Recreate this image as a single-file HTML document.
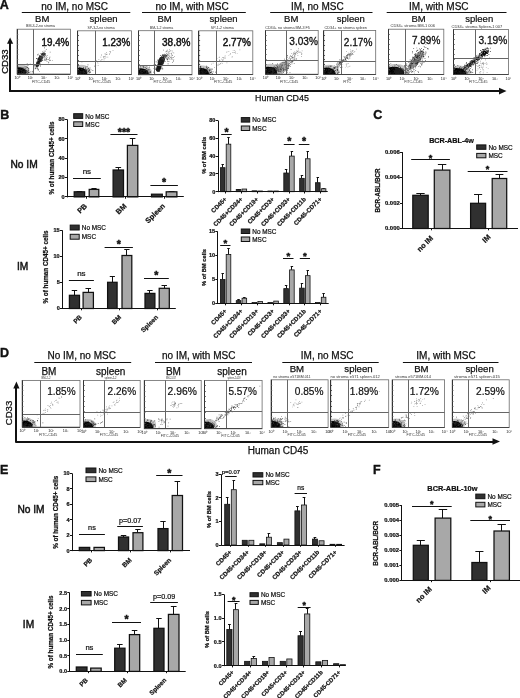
<!DOCTYPE html><html><head><meta charset="utf-8"><style>html,body{margin:0;padding:0;background:#fff;width:520px;height:698px;overflow:hidden}svg{display:block;filter:grayscale(1) blur(0.3px)}text{font-family:"Liberation Sans",sans-serif}</style></head><body><svg width="520" height="698" viewBox="0 0 520 698" font-family="Liberation Sans, sans-serif">
<rect width="520" height="698" fill="#fff"/>
<text x="-0.3" y="8.7" font-size="12.5" font-weight="bold" fill="#111" stroke="#111" stroke-width="0.4">A</text>
<text x="41.3" y="9.6" font-size="10" fill="#111" stroke="#111" stroke-width="0.25">no IM, no MSC</text>
<text x="155.4" y="9.6" font-size="10" fill="#111" stroke="#111" stroke-width="0.25">no IM, with MSC</text>
<text x="290.9" y="9.6" font-size="10" fill="#111" stroke="#111" stroke-width="0.25">IM, no MSC</text>
<text x="409.1" y="9.6" font-size="10" fill="#111" stroke="#111" stroke-width="0.25">IM, with MSC</text>
<line x1="21.8" y1="12.5" x2="130.3" y2="12.5" stroke="#111" stroke-width="1"/>
<line x1="142" y1="12.5" x2="245.8" y2="12.5" stroke="#111" stroke-width="1"/>
<line x1="270.2" y1="12.5" x2="372.5" y2="12.5" stroke="#111" stroke-width="1"/>
<line x1="386.7" y1="12.5" x2="506.5" y2="12.5" stroke="#111" stroke-width="1"/>
<text x="42.2" y="22" font-size="9.5" text-anchor="middle" fill="#111" stroke="#111" stroke-width="0.2">BM</text>
<text x="103.5" y="22" font-size="9.5" text-anchor="middle" fill="#111" stroke="#111" stroke-width="0.2">spleen</text>
<text x="164.6" y="22" font-size="9.5" text-anchor="middle" fill="#111" stroke="#111" stroke-width="0.2">BM</text>
<text x="223.6" y="22" font-size="9.5" text-anchor="middle" fill="#111" stroke="#111" stroke-width="0.2">spleen</text>
<text x="291.2" y="22" font-size="9.5" text-anchor="middle" fill="#111" stroke="#111" stroke-width="0.2">BM</text>
<text x="350.8" y="22" font-size="9.5" text-anchor="middle" fill="#111" stroke="#111" stroke-width="0.2">spleen</text>
<text x="418.5" y="22" font-size="9.5" text-anchor="middle" fill="#111" stroke="#111" stroke-width="0.2">BM</text>
<text x="479.2" y="22" font-size="9.5" text-anchor="middle" fill="#111" stroke="#111" stroke-width="0.2">spleen</text>
<clipPath id="c1"><rect x="17" y="29.2" width="53.5" height="44.8"/></clipPath>
<rect x="17" y="29.2" width="53.5" height="44.8" fill="#fff"/>
<g clip-path="url(#c1)">
<ellipse cx="21.05" cy="71.32" rx="8.55" ry="6.7" transform="rotate(0 21.05 71.32)" fill="#555" opacity="0.35"/>
<ellipse cx="19.25" cy="72.66" rx="7.2" ry="5.36" transform="rotate(0 19.25 72.66)" fill="#000" opacity="1"/>
<ellipse cx="37.8" cy="64" rx="1.8" ry="3.4" transform="rotate(20 37.8 64)" fill="#111" opacity="0.95"/>
<ellipse cx="40.2" cy="58.8" rx="2.3" ry="3.4" transform="rotate(30 40.2 58.8)" fill="#111" opacity="0.92"/>
<ellipse cx="43.3" cy="54.2" rx="2.2" ry="1.8" transform="rotate(0 43.3 54.2)" fill="#111" opacity="0.85"/>
<path d="M21.36 72.02h0.7v0.7h-0.7zM21.48 69.81h0.7v0.7h-0.7zM18.63 70.08h0.7v0.7h-0.7zM26.9 71.79h0.7v0.7h-0.7zM26.6 71.32h0.7v0.7h-0.7zM24 71.15h0.7v0.7h-0.7zM24.45 71.99h0.7v0.7h-0.7zM18.8 69.4h0.7v0.7h-0.7zM23.64 70.53h0.7v0.7h-0.7zM24.51 68.93h0.7v0.7h-0.7zM23.65 71.71h0.7v0.7h-0.7zM24.65 73.86h0.7v0.7h-0.7zM19.89 68.67h0.7v0.7h-0.7zM21.01 70.36h0.7v0.7h-0.7zM24.96 71.32h0.7v0.7h-0.7zM20.59 68.09h0.7v0.7h-0.7zM20.29 73.92h0.7v0.7h-0.7zM19.13 71.31h0.7v0.7h-0.7zM24.13 66.66h0.7v0.7h-0.7zM21.97 68.46h0.7v0.7h-0.7zM24.41 70.48h0.7v0.7h-0.7zM25.11 73.18h0.7v0.7h-0.7zM28.23 71.62h0.7v0.7h-0.7zM22.88 67.17h0.7v0.7h-0.7zM24.89 69.01h0.7v0.7h-0.7zM20.57 67.26h0.7v0.7h-0.7zM18.48 69.23h0.7v0.7h-0.7zM27.62 65.2h0.7v0.7h-0.7zM28.25 72.2h0.7v0.7h-0.7zM23.85 68.68h0.7v0.7h-0.7zM17.86 73.27h0.7v0.7h-0.7zM26.86 71.07h0.7v0.7h-0.7zM23.4 71.81h0.7v0.7h-0.7zM28.86 72.31h0.7v0.7h-0.7zM24.5 72.12h0.7v0.7h-0.7zM26.27 72.07h0.7v0.7h-0.7zM25.81 65.8h0.7v0.7h-0.7zM21.65 73.38h0.7v0.7h-0.7zM24.64 70.25h0.7v0.7h-0.7zM23.72 72.39h0.7v0.7h-0.7zM22.89 73.72h0.7v0.7h-0.7zM19.72 69.54h0.7v0.7h-0.7zM26.62 70.72h0.7v0.7h-0.7zM18.83 73.19h0.7v0.7h-0.7zM28.34 69.46h0.7v0.7h-0.7zM21.8 69.85h0.7v0.7h-0.7zM28.09 67.9h0.7v0.7h-0.7zM27.51 67.25h0.7v0.7h-0.7zM19.21 72.34h0.7v0.7h-0.7zM26.97 72.95h0.7v0.7h-0.7zM23.8 71.03h0.7v0.7h-0.7zM23.02 72.19h0.7v0.7h-0.7zM21.69 71.39h0.7v0.7h-0.7zM24.72 70.65h0.7v0.7h-0.7zM25.49 72.17h0.7v0.7h-0.7zM30.54 71.52h0.7v0.7h-0.7zM20.67 69.65h0.7v0.7h-0.7zM22.35 73.13h0.7v0.7h-0.7zM21.04 71.68h0.7v0.7h-0.7zM29.84 63.78h0.7v0.7h-0.7zM17.85 71.3h0.7v0.7h-0.7zM24.01 71.29h0.7v0.7h-0.7zM20.65 72.41h0.7v0.7h-0.7zM23.54 69.25h0.7v0.7h-0.7zM32.24 71.6h0.7v0.7h-0.7zM20.16 70.38h0.7v0.7h-0.7zM21.49 70.48h0.7v0.7h-0.7zM26.48 67.52h0.7v0.7h-0.7zM22.13 73.21h0.7v0.7h-0.7zM21.02 72.32h0.7v0.7h-0.7zM26.82 63.46h0.7v0.7h-0.7zM26.81 66.77h0.7v0.7h-0.7zM25.17 66.65h0.7v0.7h-0.7zM23.11 73.85h0.7v0.7h-0.7zM21.8 71.16h0.7v0.7h-0.7zM25.63 71.03h0.7v0.7h-0.7zM26.65 69.86h0.7v0.7h-0.7zM33.52 67.58h0.7v0.7h-0.7zM26.1 69.94h0.7v0.7h-0.7zM22.94 72.54h0.7v0.7h-0.7zM23.3 72.36h0.7v0.7h-0.7zM24.89 68.07h0.7v0.7h-0.7zM18.24 66.71h0.7v0.7h-0.7zM27.53 72.65h0.7v0.7h-0.7zM28.37 68.14h0.7v0.7h-0.7zM22.4 67.59h0.7v0.7h-0.7zM26.4 70.17h0.7v0.7h-0.7zM22.01 69.03h0.7v0.7h-0.7zM24.02 71.75h0.7v0.7h-0.7zM28.47 67.92h0.7v0.7h-0.7zM28.28 70.17h0.7v0.7h-0.7zM19.39 73.38h0.7v0.7h-0.7zM22.87 70.98h0.7v0.7h-0.7zM28.17 69.94h0.7v0.7h-0.7zM23.68 69.01h0.7v0.7h-0.7zM22.36 72.88h0.7v0.7h-0.7zM38.09 62.2h0.7v0.7h-0.7zM38.55 58.73h0.7v0.7h-0.7zM39.35 62.09h0.7v0.7h-0.7zM40.08 61.54h0.7v0.7h-0.7zM36.97 63.09h0.7v0.7h-0.7zM41.65 56.47h0.7v0.7h-0.7zM38.42 59.37h0.7v0.7h-0.7zM38.92 60.57h0.7v0.7h-0.7zM39.06 60.76h0.7v0.7h-0.7zM42.41 54.42h0.7v0.7h-0.7zM37.6 64.98h0.7v0.7h-0.7zM40.73 59.62h0.7v0.7h-0.7zM42.69 56.26h0.7v0.7h-0.7zM36.07 58.36h0.7v0.7h-0.7zM36.04 62.27h0.7v0.7h-0.7zM44.19 47.53h0.7v0.7h-0.7zM33.75 65.79h0.7v0.7h-0.7zM42.26 53.69h0.7v0.7h-0.7zM36.88 61.49h0.7v0.7h-0.7zM39.92 61.26h0.7v0.7h-0.7zM40.3 64.54h0.7v0.7h-0.7zM37.97 62.56h0.7v0.7h-0.7zM39.94 65.86h0.7v0.7h-0.7zM43.98 56.33h0.7v0.7h-0.7zM37.42 63.01h0.7v0.7h-0.7zM36.31 64.33h0.7v0.7h-0.7zM38.26 64.53h0.7v0.7h-0.7zM32.77 70.81h0.7v0.7h-0.7zM42.19 60.31h0.7v0.7h-0.7zM33.17 71.33h0.7v0.7h-0.7zM36.72 63.44h0.7v0.7h-0.7zM41.18 61.01h0.7v0.7h-0.7zM37.01 59.64h0.7v0.7h-0.7zM37.3 65.25h0.7v0.7h-0.7zM40.8 60.89h0.7v0.7h-0.7zM39.63 63.19h0.7v0.7h-0.7zM39.72 60.45h0.7v0.7h-0.7zM37.36 62.73h0.7v0.7h-0.7zM39.25 56.22h0.7v0.7h-0.7zM43.17 53.67h0.7v0.7h-0.7zM43.77 50.87h0.7v0.7h-0.7zM36.9 61.78h0.7v0.7h-0.7zM40.62 60.33h0.7v0.7h-0.7zM42.64 53.63h0.7v0.7h-0.7zM41.38 64.06h0.7v0.7h-0.7zM43.6 57.27h0.7v0.7h-0.7zM43.73 51.94h0.7v0.7h-0.7zM38.51 64.83h0.7v0.7h-0.7zM36.34 57.88h0.7v0.7h-0.7zM45 53h0.7v0.7h-0.7z" fill="#222"/>
<path d="M43.82 60.12h0.7v0.7h-0.7zM48.47 61.83h0.7v0.7h-0.7zM41.98 59.64h0.7v0.7h-0.7zM38.37 53.75h0.7v0.7h-0.7zM38.11 60.21h0.7v0.7h-0.7zM40.3 56.96h0.7v0.7h-0.7zM43.42 56.91h0.7v0.7h-0.7zM42.23 57.7h0.7v0.7h-0.7zM49.37 57.13h0.7v0.7h-0.7zM45.59 60h0.7v0.7h-0.7zM43.41 53.22h0.7v0.7h-0.7zM42.33 60.22h0.7v0.7h-0.7zM39.06 55.21h0.7v0.7h-0.7zM47.02 59.38h0.7v0.7h-0.7zM44.02 59.42h0.7v0.7h-0.7zM44.5 53.46h0.7v0.7h-0.7zM39.31 55.08h0.7v0.7h-0.7zM46.77 55.3h0.7v0.7h-0.7zM41.29 54.69h0.7v0.7h-0.7zM39.4 56.65h0.7v0.7h-0.7zM40.46 58.09h0.7v0.7h-0.7zM36.92 57.98h0.7v0.7h-0.7zM42.08 51.17h0.7v0.7h-0.7zM46.17 56.17h0.7v0.7h-0.7zM37.31 54.37h0.7v0.7h-0.7zM44.87 55.62h0.7v0.7h-0.7zM46.34 59.24h0.7v0.7h-0.7zM46 57.98h0.7v0.7h-0.7zM48 58.98h0.7v0.7h-0.7zM45.35 50.75h0.7v0.7h-0.7zM46.69 60.93h0.7v0.7h-0.7zM43.11 55.59h0.7v0.7h-0.7zM49.82 51.73h0.7v0.7h-0.7zM45.41 64.27h0.7v0.7h-0.7zM41.22 59.07h0.7v0.7h-0.7zM49.66 56.64h0.7v0.7h-0.7zM45.68 59.71h0.7v0.7h-0.7zM41.28 56.73h0.7v0.7h-0.7zM44.88 59.48h0.7v0.7h-0.7zM43.9 56.41h0.7v0.7h-0.7zM40.95 55.92h0.7v0.7h-0.7zM46.68 57.31h0.7v0.7h-0.7zM41.44 54.48h0.7v0.7h-0.7zM52 60.42h0.7v0.7h-0.7zM45.91 49.22h0.7v0.7h-0.7zM45.86 58.44h0.7v0.7h-0.7zM49.05 58.28h0.7v0.7h-0.7zM43.8 58.57h0.7v0.7h-0.7zM38.17 60.1h0.7v0.7h-0.7zM44.97 54.89h0.7v0.7h-0.7zM47.98 62.43h0.7v0.7h-0.7zM39.79 55h0.7v0.7h-0.7zM44.87 57.55h0.7v0.7h-0.7zM42.8 54.08h0.7v0.7h-0.7zM50.36 60.11h0.7v0.7h-0.7zM40.42 52.96h0.7v0.7h-0.7zM49.11 59.97h0.7v0.7h-0.7zM49.46 59.43h0.7v0.7h-0.7zM41.38 57.78h0.7v0.7h-0.7zM37.52 54.76h0.7v0.7h-0.7z" fill="#555"/>
<path d="M34.26 65.34h0.7v0.7h-0.7zM36.06 64.49h0.7v0.7h-0.7zM37.05 68.62h0.7v0.7h-0.7zM37.95 69.76h0.7v0.7h-0.7zM39.25 70.91h0.7v0.7h-0.7zM35.03 66.74h0.7v0.7h-0.7zM35.41 65.31h0.7v0.7h-0.7zM36.88 68.01h0.7v0.7h-0.7zM37.74 64.03h0.7v0.7h-0.7zM35.14 67.94h0.7v0.7h-0.7zM36.7 67.22h0.7v0.7h-0.7zM36.91 66.1h0.7v0.7h-0.7zM38.05 68.89h0.7v0.7h-0.7zM36.87 66.32h0.7v0.7h-0.7zM36.74 61.2h0.7v0.7h-0.7zM35.53 68.09h0.7v0.7h-0.7zM34.74 68.5h0.7v0.7h-0.7zM37.22 64.56h0.7v0.7h-0.7zM36.62 67.22h0.7v0.7h-0.7zM37.69 69.53h0.7v0.7h-0.7zM36.95 65.87h0.7v0.7h-0.7zM36.78 67.84h0.7v0.7h-0.7zM38.1 68.74h0.7v0.7h-0.7zM35.92 64.61h0.7v0.7h-0.7zM36.44 66.15h0.7v0.7h-0.7z" fill="#444"/>
</g>
<rect x="17" y="29.2" width="53.5" height="44.8" fill="none" stroke="#6a6a6a" stroke-width="0.8"/>
<line x1="33.5" y1="29.2" x2="33.5" y2="74" stroke="#666" stroke-width="1"/>
<line x1="17" y1="64.5" x2="70.5" y2="64.5" stroke="#666" stroke-width="1"/>
<line x1="17.5" y1="29.2" x2="17.5" y2="74" stroke="#333" stroke-width="1"/>
<line x1="17" y1="74.5" x2="70.5" y2="74.5" stroke="#444" stroke-width="1"/>
<line x1="17" y1="34.5" x2="18.2" y2="34.5" stroke="#555" stroke-width="1"/>
<line x1="17" y1="39.5" x2="18.2" y2="39.5" stroke="#555" stroke-width="1"/>
<line x1="17" y1="44.5" x2="18.2" y2="44.5" stroke="#555" stroke-width="1"/>
<line x1="17" y1="49.5" x2="18.2" y2="49.5" stroke="#555" stroke-width="1"/>
<line x1="17" y1="54.5" x2="18.2" y2="54.5" stroke="#555" stroke-width="1"/>
<line x1="17" y1="59.5" x2="18.2" y2="59.5" stroke="#555" stroke-width="1"/>
<line x1="17" y1="64.5" x2="18.2" y2="64.5" stroke="#555" stroke-width="1"/>
<line x1="17" y1="69.5" x2="18.2" y2="69.5" stroke="#555" stroke-width="1"/>
<text x="69.3" y="45.9" font-size="10.3" text-anchor="end" fill="#111" stroke="#111" stroke-width="0.45" textLength="27.7" lengthAdjust="spacingAndGlyphs">19.4%</text>
<text x="26" y="27.3" font-size="4.2" fill="#333" textLength="29" lengthAdjust="spacingAndGlyphs">BM-3-2-no stroma</text>
<text x="17" y="79.2" font-size="3.8" text-anchor="middle" fill="#222">10⁰</text>
<text x="30.38" y="79.2" font-size="3.8" text-anchor="middle" fill="#222">10¹</text>
<text x="43.75" y="79.2" font-size="3.8" text-anchor="middle" fill="#222">10²</text>
<text x="57.12" y="79.2" font-size="3.8" text-anchor="middle" fill="#222">10³</text>
<text x="70.5" y="79.2" font-size="3.8" text-anchor="middle" fill="#222">10⁴</text>
<text x="41.08" y="82.6" font-size="3.6" text-anchor="middle" fill="#333">FITC-CD45</text>
<clipPath id="c2"><rect x="77.7" y="30.8" width="53.8" height="43.8"/></clipPath>
<rect x="77.7" y="30.8" width="53.8" height="43.8" fill="#fff"/>
<g clip-path="url(#c2)">
<ellipse cx="81.75" cy="71.8" rx="8.55" ry="7" transform="rotate(0 81.75 71.8)" fill="#555" opacity="0.35"/>
<ellipse cx="79.95" cy="73.2" rx="7.2" ry="5.6" transform="rotate(0 79.95 73.2)" fill="#000" opacity="1"/>
<ellipse cx="95.5" cy="61.5" rx="1" ry="0.8" transform="rotate(0 95.5 61.5)" fill="#111" opacity="1"/>
<path d="M78.6 70.78h0.7v0.7h-0.7zM81.11 71.4h0.7v0.7h-0.7zM85.22 69.94h0.7v0.7h-0.7zM92.51 70.2h0.7v0.7h-0.7zM87.56 71.44h0.7v0.7h-0.7zM87.62 64.45h0.7v0.7h-0.7zM80.06 71.79h0.7v0.7h-0.7zM86.2 73.75h0.7v0.7h-0.7zM85.17 70.66h0.7v0.7h-0.7zM85.16 68.08h0.7v0.7h-0.7zM87.88 68.25h0.7v0.7h-0.7zM82.2 71.15h0.7v0.7h-0.7zM87.81 71.17h0.7v0.7h-0.7zM79.83 71.82h0.7v0.7h-0.7zM85.46 73.09h0.7v0.7h-0.7zM89.85 71.15h0.7v0.7h-0.7zM84.19 69.9h0.7v0.7h-0.7zM88.83 69.13h0.7v0.7h-0.7zM85.83 69.76h0.7v0.7h-0.7zM80.29 73.11h0.7v0.7h-0.7zM88.5 71.07h0.7v0.7h-0.7zM80.36 73.37h0.7v0.7h-0.7zM82.9 71.97h0.7v0.7h-0.7zM89.27 74.27h0.7v0.7h-0.7zM83.11 73.3h0.7v0.7h-0.7zM80.48 70.97h0.7v0.7h-0.7zM88.63 67.7h0.7v0.7h-0.7zM87.86 69.81h0.7v0.7h-0.7zM82.85 70.22h0.7v0.7h-0.7zM82.61 68.05h0.7v0.7h-0.7zM83.2 67.07h0.7v0.7h-0.7zM82.81 71.96h0.7v0.7h-0.7zM84.99 70.45h0.7v0.7h-0.7zM79.44 71.55h0.7v0.7h-0.7zM86.21 70.78h0.7v0.7h-0.7zM81.19 69.13h0.7v0.7h-0.7zM79.3 70.11h0.7v0.7h-0.7zM84.29 72.54h0.7v0.7h-0.7zM80.25 71.14h0.7v0.7h-0.7zM94.42 65.87h0.7v0.7h-0.7zM80.99 71.57h0.7v0.7h-0.7zM83.73 72.24h0.7v0.7h-0.7zM82.13 72.13h0.7v0.7h-0.7zM83.31 73.26h0.7v0.7h-0.7zM83.09 68.21h0.7v0.7h-0.7zM78.87 72.86h0.7v0.7h-0.7zM80.47 72.88h0.7v0.7h-0.7zM86.12 71.96h0.7v0.7h-0.7zM85.16 70.81h0.7v0.7h-0.7zM84.94 69.62h0.7v0.7h-0.7zM82.7 73.2h0.7v0.7h-0.7zM79.54 72.89h0.7v0.7h-0.7zM90.64 69.55h0.7v0.7h-0.7zM83.69 70.68h0.7v0.7h-0.7zM89.34 71.99h0.7v0.7h-0.7zM86.74 69.17h0.7v0.7h-0.7zM83.03 71.07h0.7v0.7h-0.7zM86.74 66.2h0.7v0.7h-0.7zM86.11 70.73h0.7v0.7h-0.7zM84.92 72.13h0.7v0.7h-0.7zM89.15 69.49h0.7v0.7h-0.7zM78.96 67.29h0.7v0.7h-0.7zM78.15 72.04h0.7v0.7h-0.7zM89.95 72.3h0.7v0.7h-0.7zM81 69.21h0.7v0.7h-0.7zM85.24 72.64h0.7v0.7h-0.7zM78.99 67.82h0.7v0.7h-0.7zM84.28 71.79h0.7v0.7h-0.7zM77.81 70.53h0.7v0.7h-0.7zM80.9 72.39h0.7v0.7h-0.7zM82.63 70.86h0.7v0.7h-0.7zM81.67 74.05h0.7v0.7h-0.7zM88.73 70.07h0.7v0.7h-0.7zM86.53 68.98h0.7v0.7h-0.7zM83.39 73.2h0.7v0.7h-0.7zM89.23 70.03h0.7v0.7h-0.7zM82.8 71.65h0.7v0.7h-0.7zM80.36 72.14h0.7v0.7h-0.7zM78.52 65.56h0.7v0.7h-0.7zM83.26 71.83h0.7v0.7h-0.7zM80.88 73.59h0.7v0.7h-0.7zM81.99 69.4h0.7v0.7h-0.7zM85.03 66.71h0.7v0.7h-0.7zM80.36 71.04h0.7v0.7h-0.7zM86.54 70.64h0.7v0.7h-0.7zM84.35 69.26h0.7v0.7h-0.7zM80.49 71.15h0.7v0.7h-0.7zM83.8 73.97h0.7v0.7h-0.7zM78.09 65.22h0.7v0.7h-0.7zM85.55 73.33h0.7v0.7h-0.7zM83.93 71.81h0.7v0.7h-0.7zM86.86 72.13h0.7v0.7h-0.7zM89.84 67.63h0.7v0.7h-0.7zM81.58 61.45h0.7v0.7h-0.7zM86.39 70.06h0.7v0.7h-0.7zM83.08 70.39h0.7v0.7h-0.7zM81.08 68.75h0.7v0.7h-0.7zM80.55 72.89h0.7v0.7h-0.7zM83.25 71.29h0.7v0.7h-0.7zM82.4 73.66h0.7v0.7h-0.7zM85.1 70.7h0.7v0.7h-0.7z" fill="#222"/>
<path d="M106.68 54.14h0.7v0.7h-0.7zM97.64 63.42h0.7v0.7h-0.7zM104.84 53.96h0.7v0.7h-0.7zM109.48 53.09h0.7v0.7h-0.7zM95.42 65.26h0.7v0.7h-0.7zM105.68 56.76h0.7v0.7h-0.7zM104.01 56.02h0.7v0.7h-0.7zM94.96 64.41h0.7v0.7h-0.7zM102.93 56.53h0.7v0.7h-0.7zM105.08 55.69h0.7v0.7h-0.7zM106.56 53.83h0.7v0.7h-0.7zM100.95 54.52h0.7v0.7h-0.7zM101.15 59.53h0.7v0.7h-0.7zM110.35 51.19h0.7v0.7h-0.7zM103.67 59.43h0.7v0.7h-0.7zM101.76 59.21h0.7v0.7h-0.7zM112.66 50.31h0.7v0.7h-0.7zM109.42 51.2h0.7v0.7h-0.7zM104.12 56.07h0.7v0.7h-0.7zM104.63 57.93h0.7v0.7h-0.7zM116.13 46.59h0.7v0.7h-0.7zM100.13 59.92h0.7v0.7h-0.7zM97.38 61.85h0.7v0.7h-0.7zM106.04 54.36h0.7v0.7h-0.7zM104.71 52.96h0.7v0.7h-0.7zM106.03 52.05h0.7v0.7h-0.7zM98.53 59.11h0.7v0.7h-0.7zM101.44 59.67h0.7v0.7h-0.7zM103.13 56.18h0.7v0.7h-0.7zM107.48 56.76h0.7v0.7h-0.7zM103.35 57.42h0.7v0.7h-0.7zM110.34 52.35h0.7v0.7h-0.7zM97.78 65.21h0.7v0.7h-0.7zM113.96 45.69h0.7v0.7h-0.7zM103.13 57.67h0.7v0.7h-0.7zM109.11 53.94h0.7v0.7h-0.7zM100.53 56.8h0.7v0.7h-0.7zM104.48 57.86h0.7v0.7h-0.7zM95.87 60.11h0.7v0.7h-0.7zM101.19 54.72h0.7v0.7h-0.7z" fill="#888"/>
</g>
<rect x="77.7" y="30.8" width="53.8" height="43.8" fill="none" stroke="#6a6a6a" stroke-width="0.8"/>
<line x1="95.5" y1="30.8" x2="95.5" y2="74.6" stroke="#666" stroke-width="1"/>
<line x1="77.7" y1="61.5" x2="131.5" y2="61.5" stroke="#666" stroke-width="1"/>
<line x1="77.5" y1="30.8" x2="77.5" y2="74.6" stroke="#333" stroke-width="1"/>
<line x1="77.7" y1="74.5" x2="131.5" y2="74.5" stroke="#444" stroke-width="1"/>
<line x1="77.7" y1="35.5" x2="78.9" y2="35.5" stroke="#555" stroke-width="1"/>
<line x1="77.7" y1="40.5" x2="78.9" y2="40.5" stroke="#555" stroke-width="1"/>
<line x1="77.7" y1="45.5" x2="78.9" y2="45.5" stroke="#555" stroke-width="1"/>
<line x1="77.7" y1="50.5" x2="78.9" y2="50.5" stroke="#555" stroke-width="1"/>
<line x1="77.7" y1="55.5" x2="78.9" y2="55.5" stroke="#555" stroke-width="1"/>
<line x1="77.7" y1="60.5" x2="78.9" y2="60.5" stroke="#555" stroke-width="1"/>
<line x1="77.7" y1="64.5" x2="78.9" y2="64.5" stroke="#555" stroke-width="1"/>
<line x1="77.7" y1="69.5" x2="78.9" y2="69.5" stroke="#555" stroke-width="1"/>
<text x="130.2" y="45.9" font-size="10.3" text-anchor="end" fill="#111" stroke="#111" stroke-width="0.45" textLength="27.9" lengthAdjust="spacingAndGlyphs">1.23%</text>
<text x="87.4" y="28.9" font-size="4.2" fill="#333" textLength="27.2" lengthAdjust="spacingAndGlyphs">SP-3-2-no stroma</text>
<text x="77.7" y="79.8" font-size="3.8" text-anchor="middle" fill="#222">10⁰</text>
<text x="91.15" y="79.8" font-size="3.8" text-anchor="middle" fill="#222">10¹</text>
<text x="104.6" y="79.8" font-size="3.8" text-anchor="middle" fill="#222">10²</text>
<text x="118.05" y="79.8" font-size="3.8" text-anchor="middle" fill="#222">10³</text>
<text x="131.5" y="79.8" font-size="3.8" text-anchor="middle" fill="#222">10⁴</text>
<text x="101.91" y="83.2" font-size="3.6" text-anchor="middle" fill="#333">FITC-CD45</text>
<clipPath id="c3"><rect x="138.5" y="30.7" width="53.5" height="44.1"/></clipPath>
<rect x="138.5" y="30.7" width="53.5" height="44.1" fill="#fff"/>
<g clip-path="url(#c3)">
<ellipse cx="142.78" cy="72.2" rx="9.03" ry="6.5" transform="rotate(0 142.78 72.2)" fill="#555" opacity="0.35"/>
<ellipse cx="140.88" cy="73.5" rx="7.6" ry="5.2" transform="rotate(0 140.88 73.5)" fill="#000" opacity="1"/>
<ellipse cx="158.8" cy="67.5" rx="2.4" ry="4.6" transform="rotate(18 158.8 67.5)" fill="#111" opacity="0.95"/>
<ellipse cx="161.3" cy="61" rx="3.2" ry="4.6" transform="rotate(25 161.3 61)" fill="#111" opacity="0.92"/>
<ellipse cx="164.8" cy="56" rx="2.2" ry="1.8" transform="rotate(0 164.8 56)" fill="#222" opacity="0.8"/>
<path d="M143.09 70.42h0.7v0.7h-0.7zM146.13 69.73h0.7v0.7h-0.7zM140.43 70.53h0.7v0.7h-0.7zM143.99 69.82h0.7v0.7h-0.7zM144.25 73.5h0.7v0.7h-0.7zM140.85 70.46h0.7v0.7h-0.7zM141.1 71.46h0.7v0.7h-0.7zM146.43 68.02h0.7v0.7h-0.7zM146.18 71.48h0.7v0.7h-0.7zM149.31 66.69h0.7v0.7h-0.7zM147.65 72.09h0.7v0.7h-0.7zM146.23 72.7h0.7v0.7h-0.7zM149.77 70.97h0.7v0.7h-0.7zM147.93 70.48h0.7v0.7h-0.7zM147.31 69.43h0.7v0.7h-0.7zM146.11 71.14h0.7v0.7h-0.7zM139.31 69.5h0.7v0.7h-0.7zM145.03 73.99h0.7v0.7h-0.7zM146.02 72.91h0.7v0.7h-0.7zM142.53 70.12h0.7v0.7h-0.7zM148 71.72h0.7v0.7h-0.7zM143.01 70.05h0.7v0.7h-0.7zM143.1 73.17h0.7v0.7h-0.7zM145.71 68.4h0.7v0.7h-0.7zM146.02 72.02h0.7v0.7h-0.7zM139.92 73.56h0.7v0.7h-0.7zM143 70.68h0.7v0.7h-0.7zM141.26 72.69h0.7v0.7h-0.7zM142.09 74.66h0.7v0.7h-0.7zM141.43 73.66h0.7v0.7h-0.7zM153.69 64.94h0.7v0.7h-0.7zM142.34 72.85h0.7v0.7h-0.7zM143.8 69.81h0.7v0.7h-0.7zM153.4 71.76h0.7v0.7h-0.7zM141.73 71.93h0.7v0.7h-0.7zM149.59 71.86h0.7v0.7h-0.7zM149.26 73.48h0.7v0.7h-0.7zM140.71 73.78h0.7v0.7h-0.7zM146.32 73.23h0.7v0.7h-0.7zM148.05 73.46h0.7v0.7h-0.7zM147.97 65.16h0.7v0.7h-0.7zM144.92 72.83h0.7v0.7h-0.7zM155.11 69.07h0.7v0.7h-0.7zM142.79 71.64h0.7v0.7h-0.7zM147.99 70.4h0.7v0.7h-0.7zM149.1 69.5h0.7v0.7h-0.7zM145.34 70.18h0.7v0.7h-0.7zM144.88 69.75h0.7v0.7h-0.7zM145.5 70.1h0.7v0.7h-0.7zM145.06 74.12h0.7v0.7h-0.7zM140.02 71.26h0.7v0.7h-0.7zM146.5 72.92h0.7v0.7h-0.7zM142.77 66.07h0.7v0.7h-0.7zM149.51 72.4h0.7v0.7h-0.7zM144.26 70.83h0.7v0.7h-0.7zM145.33 70.44h0.7v0.7h-0.7zM139.82 69.63h0.7v0.7h-0.7zM141.65 69.96h0.7v0.7h-0.7zM139.25 73.2h0.7v0.7h-0.7zM138.6 73.27h0.7v0.7h-0.7zM139.86 72.47h0.7v0.7h-0.7zM150.07 72.08h0.7v0.7h-0.7zM141.08 71.68h0.7v0.7h-0.7zM144.83 67.04h0.7v0.7h-0.7zM141.6 71.97h0.7v0.7h-0.7zM142.19 71.76h0.7v0.7h-0.7zM147.34 73.54h0.7v0.7h-0.7zM148.07 73.08h0.7v0.7h-0.7zM142.97 71.5h0.7v0.7h-0.7zM143.04 70.74h0.7v0.7h-0.7zM143.43 67.07h0.7v0.7h-0.7zM142.78 71.49h0.7v0.7h-0.7zM140.04 71.49h0.7v0.7h-0.7zM146.4 71.12h0.7v0.7h-0.7zM153.08 64.77h0.7v0.7h-0.7zM143.32 66.8h0.7v0.7h-0.7zM146.42 70.76h0.7v0.7h-0.7zM146.56 65.72h0.7v0.7h-0.7zM147.84 72.52h0.7v0.7h-0.7zM144.3 70.02h0.7v0.7h-0.7zM146.93 70.29h0.7v0.7h-0.7zM145.15 70.22h0.7v0.7h-0.7zM145.06 73.51h0.7v0.7h-0.7zM140.45 71.46h0.7v0.7h-0.7zM146.84 71.93h0.7v0.7h-0.7zM140.32 66.56h0.7v0.7h-0.7zM148.14 73.67h0.7v0.7h-0.7zM141.56 69.69h0.7v0.7h-0.7zM148 69.18h0.7v0.7h-0.7zM141.27 69.65h0.7v0.7h-0.7zM145.19 69.6h0.7v0.7h-0.7zM149.8 71.35h0.7v0.7h-0.7zM141.71 72.13h0.7v0.7h-0.7zM144.15 70.73h0.7v0.7h-0.7zM145.59 69.75h0.7v0.7h-0.7zM138.79 69.58h0.7v0.7h-0.7zM144.1 71.69h0.7v0.7h-0.7zM146.58 71.86h0.7v0.7h-0.7zM140.81 69.71h0.7v0.7h-0.7z" fill="#222"/>
<path d="M161.14 56.49h0.7v0.7h-0.7zM168.95 58.59h0.7v0.7h-0.7zM167.14 56.48h0.7v0.7h-0.7zM170.31 57.05h0.7v0.7h-0.7zM169.71 58.75h0.7v0.7h-0.7zM168.14 60.92h0.7v0.7h-0.7zM165.78 55.92h0.7v0.7h-0.7zM165.08 54.61h0.7v0.7h-0.7zM172.17 62.28h0.7v0.7h-0.7zM167.57 58.7h0.7v0.7h-0.7zM171.03 59.42h0.7v0.7h-0.7zM171.12 53.21h0.7v0.7h-0.7zM165.58 58.36h0.7v0.7h-0.7zM171.81 57.31h0.7v0.7h-0.7zM164.92 55.94h0.7v0.7h-0.7zM165.52 54.43h0.7v0.7h-0.7zM172 55.12h0.7v0.7h-0.7zM167.56 63.49h0.7v0.7h-0.7zM171.05 58.01h0.7v0.7h-0.7zM165.66 58.23h0.7v0.7h-0.7zM172.37 58.87h0.7v0.7h-0.7zM171.28 57.29h0.7v0.7h-0.7zM169.05 56.4h0.7v0.7h-0.7zM168.78 60.9h0.7v0.7h-0.7zM163.21 56.81h0.7v0.7h-0.7zM168.22 55.29h0.7v0.7h-0.7zM166.58 59.36h0.7v0.7h-0.7zM173.5 58.89h0.7v0.7h-0.7zM168.48 52.35h0.7v0.7h-0.7zM173.28 57.23h0.7v0.7h-0.7zM167.4 53.64h0.7v0.7h-0.7zM167.33 53.71h0.7v0.7h-0.7zM167.71 58.4h0.7v0.7h-0.7zM167.59 57.84h0.7v0.7h-0.7zM164.94 61.29h0.7v0.7h-0.7zM165.54 51.55h0.7v0.7h-0.7zM166.94 54.71h0.7v0.7h-0.7zM164.47 55.94h0.7v0.7h-0.7zM168.37 53.45h0.7v0.7h-0.7zM167.09 61.28h0.7v0.7h-0.7zM169.55 56.54h0.7v0.7h-0.7zM167.88 56.64h0.7v0.7h-0.7zM167.36 59.2h0.7v0.7h-0.7zM167.22 49.79h0.7v0.7h-0.7zM167.44 54.33h0.7v0.7h-0.7zM169.45 55.17h0.7v0.7h-0.7zM167.95 63.53h0.7v0.7h-0.7zM164.36 53.63h0.7v0.7h-0.7zM163.27 49.82h0.7v0.7h-0.7zM161.86 58.09h0.7v0.7h-0.7zM165.59 51.4h0.7v0.7h-0.7zM163.05 58.85h0.7v0.7h-0.7zM165.17 55.9h0.7v0.7h-0.7zM168.49 61.07h0.7v0.7h-0.7zM173.32 60.1h0.7v0.7h-0.7zM167.93 57.55h0.7v0.7h-0.7zM172.91 61.29h0.7v0.7h-0.7zM166.57 58.37h0.7v0.7h-0.7zM168.36 57.16h0.7v0.7h-0.7zM166 53.02h0.7v0.7h-0.7z" fill="#666"/>
<path d="M162.05 55.44h0.7v0.7h-0.7zM161.64 66.72h0.7v0.7h-0.7zM154.32 68.05h0.7v0.7h-0.7zM166.05 55.29h0.7v0.7h-0.7zM162.46 68.62h0.7v0.7h-0.7zM167.28 59.6h0.7v0.7h-0.7zM160.31 65.48h0.7v0.7h-0.7zM160.1 63.99h0.7v0.7h-0.7zM165.54 57.34h0.7v0.7h-0.7zM160.13 55.37h0.7v0.7h-0.7zM160.02 59.67h0.7v0.7h-0.7zM160.27 64.6h0.7v0.7h-0.7zM161.5 59.97h0.7v0.7h-0.7zM156.99 66.85h0.7v0.7h-0.7zM161.52 64.26h0.7v0.7h-0.7zM155.99 69.7h0.7v0.7h-0.7zM157.28 65.31h0.7v0.7h-0.7zM163.17 63.02h0.7v0.7h-0.7zM164.23 58.82h0.7v0.7h-0.7zM161.87 64.97h0.7v0.7h-0.7zM154.99 64.36h0.7v0.7h-0.7zM155.27 67.87h0.7v0.7h-0.7zM158.81 61.54h0.7v0.7h-0.7zM161.34 61.79h0.7v0.7h-0.7zM161.76 60.77h0.7v0.7h-0.7zM161.51 63.73h0.7v0.7h-0.7zM166.29 50.75h0.7v0.7h-0.7zM162.56 64.37h0.7v0.7h-0.7zM155.76 61.55h0.7v0.7h-0.7zM158.8 68.35h0.7v0.7h-0.7zM154.28 68.87h0.7v0.7h-0.7zM154.58 73.68h0.7v0.7h-0.7zM158.23 65.93h0.7v0.7h-0.7zM161.53 57.56h0.7v0.7h-0.7zM160.57 68.27h0.7v0.7h-0.7zM161.68 68.51h0.7v0.7h-0.7zM162.21 54.86h0.7v0.7h-0.7zM159.95 59.25h0.7v0.7h-0.7zM156.92 64.78h0.7v0.7h-0.7zM161.31 62.12h0.7v0.7h-0.7zM160.7 62.52h0.7v0.7h-0.7zM158.89 66.63h0.7v0.7h-0.7zM163.62 60.91h0.7v0.7h-0.7zM153.57 67.88h0.7v0.7h-0.7zM157.92 68.13h0.7v0.7h-0.7zM156.97 59.77h0.7v0.7h-0.7zM163.11 56.5h0.7v0.7h-0.7zM157.3 65.74h0.7v0.7h-0.7zM159.08 71.36h0.7v0.7h-0.7zM161 55.74h0.7v0.7h-0.7zM159.19 67.81h0.7v0.7h-0.7zM163.19 57.31h0.7v0.7h-0.7zM160.1 67.42h0.7v0.7h-0.7zM162.28 61.38h0.7v0.7h-0.7zM159.02 66.9h0.7v0.7h-0.7zM162.63 54.05h0.7v0.7h-0.7zM159.73 65.53h0.7v0.7h-0.7zM158.15 67.04h0.7v0.7h-0.7zM158.84 62.01h0.7v0.7h-0.7zM158.1 65.27h0.7v0.7h-0.7z" fill="#111"/>
<path d="M173.19 52.5h0.7v0.7h-0.7zM174.11 56.06h0.7v0.7h-0.7zM171.58 54.17h0.7v0.7h-0.7zM173.54 52.64h0.7v0.7h-0.7zM169.78 50.87h0.7v0.7h-0.7zM170.95 55.69h0.7v0.7h-0.7zM171.06 53.85h0.7v0.7h-0.7zM169.6 53.34h0.7v0.7h-0.7zM167.15 55.1h0.7v0.7h-0.7zM169.18 50.79h0.7v0.7h-0.7zM168.5 51.35h0.7v0.7h-0.7zM171.71 55.12h0.7v0.7h-0.7zM167.28 54.85h0.7v0.7h-0.7zM171.78 51.84h0.7v0.7h-0.7zM167.03 51.51h0.7v0.7h-0.7zM168.73 53.68h0.7v0.7h-0.7zM169.28 48.94h0.7v0.7h-0.7zM170.47 49.93h0.7v0.7h-0.7zM171.81 50.59h0.7v0.7h-0.7zM168.61 51.29h0.7v0.7h-0.7z" fill="#888"/>
</g>
<rect x="138.5" y="30.7" width="53.5" height="44.1" fill="none" stroke="#6a6a6a" stroke-width="0.8"/>
<line x1="154.5" y1="30.7" x2="154.5" y2="74.8" stroke="#666" stroke-width="1"/>
<line x1="138.5" y1="65.5" x2="192" y2="65.5" stroke="#666" stroke-width="1"/>
<line x1="138.5" y1="30.7" x2="138.5" y2="74.8" stroke="#333" stroke-width="1"/>
<line x1="138.5" y1="74.5" x2="192" y2="74.5" stroke="#444" stroke-width="1"/>
<line x1="138.5" y1="35.5" x2="139.7" y2="35.5" stroke="#555" stroke-width="1"/>
<line x1="138.5" y1="40.5" x2="139.7" y2="40.5" stroke="#555" stroke-width="1"/>
<line x1="138.5" y1="45.5" x2="139.7" y2="45.5" stroke="#555" stroke-width="1"/>
<line x1="138.5" y1="50.5" x2="139.7" y2="50.5" stroke="#555" stroke-width="1"/>
<line x1="138.5" y1="55.5" x2="139.7" y2="55.5" stroke="#555" stroke-width="1"/>
<line x1="138.5" y1="60.5" x2="139.7" y2="60.5" stroke="#555" stroke-width="1"/>
<line x1="138.5" y1="64.5" x2="139.7" y2="64.5" stroke="#555" stroke-width="1"/>
<line x1="138.5" y1="69.5" x2="139.7" y2="69.5" stroke="#555" stroke-width="1"/>
<text x="190.4" y="45.9" font-size="10.3" text-anchor="end" fill="#111" stroke="#111" stroke-width="0.45" textLength="28.4" lengthAdjust="spacingAndGlyphs">38.8%</text>
<text x="149.8" y="28.8" font-size="4.2" fill="#333" textLength="23.4" lengthAdjust="spacingAndGlyphs">BM-1-2 stroma</text>
<text x="138.5" y="80" font-size="3.8" text-anchor="middle" fill="#222">10⁰</text>
<text x="151.88" y="80" font-size="3.8" text-anchor="middle" fill="#222">10¹</text>
<text x="165.25" y="80" font-size="3.8" text-anchor="middle" fill="#222">10²</text>
<text x="178.62" y="80" font-size="3.8" text-anchor="middle" fill="#222">10³</text>
<text x="192" y="80" font-size="3.8" text-anchor="middle" fill="#222">10⁴</text>
<text x="162.57" y="83.4" font-size="3.6" text-anchor="middle" fill="#333">FITC-CD45</text>
<clipPath id="c4"><rect x="198.9" y="30.8" width="53.9" height="43.8"/></clipPath>
<rect x="198.9" y="30.8" width="53.9" height="43.8" fill="#fff"/>
<g clip-path="url(#c4)">
<ellipse cx="203.18" cy="72" rx="9.03" ry="6.5" transform="rotate(0 203.18 72)" fill="#555" opacity="0.35"/>
<ellipse cx="201.28" cy="73.3" rx="7.6" ry="5.2" transform="rotate(0 201.28 73.3)" fill="#000" opacity="1"/>
<path d="M208.24 72.91h0.7v0.7h-0.7zM205.96 67.33h0.7v0.7h-0.7zM202.37 69.92h0.7v0.7h-0.7zM200.42 72.67h0.7v0.7h-0.7zM201.43 69.5h0.7v0.7h-0.7zM200.14 66h0.7v0.7h-0.7zM205.35 68.81h0.7v0.7h-0.7zM209.8 72.12h0.7v0.7h-0.7zM209.42 70.2h0.7v0.7h-0.7zM209.1 73.37h0.7v0.7h-0.7zM207.07 68.57h0.7v0.7h-0.7zM198.94 74.11h0.7v0.7h-0.7zM203.7 72.05h0.7v0.7h-0.7zM203.94 73.95h0.7v0.7h-0.7zM209.04 71.58h0.7v0.7h-0.7zM202.59 72.99h0.7v0.7h-0.7zM209.46 70.18h0.7v0.7h-0.7zM202.3 72.48h0.7v0.7h-0.7zM206.82 67.92h0.7v0.7h-0.7zM199.21 71.99h0.7v0.7h-0.7zM200.92 74.31h0.7v0.7h-0.7zM207.89 67h0.7v0.7h-0.7zM201.1 71.78h0.7v0.7h-0.7zM202.49 70.95h0.7v0.7h-0.7zM206.61 69.25h0.7v0.7h-0.7zM206.59 69.7h0.7v0.7h-0.7zM202.27 72.75h0.7v0.7h-0.7zM202.15 72.1h0.7v0.7h-0.7zM211.44 71.42h0.7v0.7h-0.7zM203.98 73.26h0.7v0.7h-0.7zM203.04 74.17h0.7v0.7h-0.7zM199.12 72.96h0.7v0.7h-0.7zM202.41 69.27h0.7v0.7h-0.7zM212.17 69.14h0.7v0.7h-0.7zM212.11 73.06h0.7v0.7h-0.7zM210.81 68.81h0.7v0.7h-0.7zM204.1 71.01h0.7v0.7h-0.7zM215.1 71.81h0.7v0.7h-0.7zM202.79 69.71h0.7v0.7h-0.7zM206.51 72.21h0.7v0.7h-0.7zM203.2 72.58h0.7v0.7h-0.7zM210.84 68.74h0.7v0.7h-0.7zM200.16 66.55h0.7v0.7h-0.7zM206.54 66.52h0.7v0.7h-0.7zM201.45 70.66h0.7v0.7h-0.7zM204.83 72.77h0.7v0.7h-0.7zM203.12 71.39h0.7v0.7h-0.7zM202.26 71.65h0.7v0.7h-0.7zM199.59 71.52h0.7v0.7h-0.7zM212.79 71.56h0.7v0.7h-0.7zM199.21 72.02h0.7v0.7h-0.7zM200.44 67.06h0.7v0.7h-0.7zM201.45 73.27h0.7v0.7h-0.7zM206.24 71.1h0.7v0.7h-0.7zM200.64 68.55h0.7v0.7h-0.7zM210.37 71.99h0.7v0.7h-0.7zM200.53 65.86h0.7v0.7h-0.7zM199.69 71.15h0.7v0.7h-0.7zM205.5 70.94h0.7v0.7h-0.7zM203.41 67.78h0.7v0.7h-0.7zM201.37 73.55h0.7v0.7h-0.7zM205.72 74.04h0.7v0.7h-0.7zM199.8 72.9h0.7v0.7h-0.7zM206.25 69.43h0.7v0.7h-0.7zM206.64 69.02h0.7v0.7h-0.7zM201.2 71.3h0.7v0.7h-0.7zM200.32 67.55h0.7v0.7h-0.7zM202.78 73.33h0.7v0.7h-0.7zM199.64 67.94h0.7v0.7h-0.7zM211.23 72.39h0.7v0.7h-0.7zM208.64 69.2h0.7v0.7h-0.7zM208.04 72.03h0.7v0.7h-0.7zM207.37 71.42h0.7v0.7h-0.7zM209.76 69.66h0.7v0.7h-0.7zM200.48 67.51h0.7v0.7h-0.7zM209.56 69.43h0.7v0.7h-0.7zM200.14 68.91h0.7v0.7h-0.7zM202.7 68.04h0.7v0.7h-0.7zM203.36 69.72h0.7v0.7h-0.7zM202.24 68.86h0.7v0.7h-0.7zM204.76 70.15h0.7v0.7h-0.7zM205.09 72h0.7v0.7h-0.7zM206.05 65.66h0.7v0.7h-0.7zM202.31 69.28h0.7v0.7h-0.7zM207.91 67.25h0.7v0.7h-0.7zM201.55 70.59h0.7v0.7h-0.7zM203.16 73.93h0.7v0.7h-0.7zM202.71 73.86h0.7v0.7h-0.7zM209.81 72.48h0.7v0.7h-0.7zM206.68 71.67h0.7v0.7h-0.7zM206.67 68.19h0.7v0.7h-0.7zM208.65 69.97h0.7v0.7h-0.7z" fill="#222"/>
<path d="M229.75 54.19h0.7v0.7h-0.7zM211.21 63.82h0.7v0.7h-0.7zM230.31 53.25h0.7v0.7h-0.7zM222.01 59.99h0.7v0.7h-0.7zM220.94 58.81h0.7v0.7h-0.7zM224.75 57.83h0.7v0.7h-0.7zM232.75 51.99h0.7v0.7h-0.7zM236.85 53.41h0.7v0.7h-0.7zM235.06 52.85h0.7v0.7h-0.7zM224.91 57.7h0.7v0.7h-0.7zM222.34 57.37h0.7v0.7h-0.7zM222.88 57.22h0.7v0.7h-0.7zM234.02 52.29h0.7v0.7h-0.7zM219.24 56.65h0.7v0.7h-0.7zM223.22 57.53h0.7v0.7h-0.7zM216.47 60.5h0.7v0.7h-0.7zM211.75 67.97h0.7v0.7h-0.7zM226.58 62.49h0.7v0.7h-0.7zM223.65 57.88h0.7v0.7h-0.7zM232.43 52.42h0.7v0.7h-0.7zM224.53 56.72h0.7v0.7h-0.7zM222.25 62.89h0.7v0.7h-0.7zM231.71 56.79h0.7v0.7h-0.7zM222.03 59.45h0.7v0.7h-0.7zM220.06 63.12h0.7v0.7h-0.7zM216.66 64.52h0.7v0.7h-0.7zM231.9 55.91h0.7v0.7h-0.7zM219.86 63.56h0.7v0.7h-0.7zM219.04 59.62h0.7v0.7h-0.7zM217.74 65.21h0.7v0.7h-0.7zM232.77 50.41h0.7v0.7h-0.7zM219.26 60.49h0.7v0.7h-0.7zM239.53 49.58h0.7v0.7h-0.7zM218.83 57.24h0.7v0.7h-0.7zM221.5 62.65h0.7v0.7h-0.7zM234.4 50.06h0.7v0.7h-0.7zM219.45 59.94h0.7v0.7h-0.7zM214.23 67.06h0.7v0.7h-0.7zM218.99 64.1h0.7v0.7h-0.7zM212.75 62.78h0.7v0.7h-0.7zM224.78 55.59h0.7v0.7h-0.7zM228.49 54.88h0.7v0.7h-0.7zM217.98 63.74h0.7v0.7h-0.7zM226.63 51.49h0.7v0.7h-0.7zM235.04 51.48h0.7v0.7h-0.7zM226.23 51.9h0.7v0.7h-0.7zM219.47 60.32h0.7v0.7h-0.7zM228.5 51.28h0.7v0.7h-0.7zM216.6 58.22h0.7v0.7h-0.7zM223.01 59.53h0.7v0.7h-0.7z" fill="#888"/>
</g>
<rect x="198.9" y="30.8" width="53.9" height="43.8" fill="none" stroke="#6a6a6a" stroke-width="0.8"/>
<line x1="216.5" y1="30.8" x2="216.5" y2="74.6" stroke="#666" stroke-width="1"/>
<line x1="198.9" y1="61.5" x2="252.8" y2="61.5" stroke="#666" stroke-width="1"/>
<line x1="198.5" y1="30.8" x2="198.5" y2="74.6" stroke="#333" stroke-width="1"/>
<line x1="198.9" y1="74.5" x2="252.8" y2="74.5" stroke="#444" stroke-width="1"/>
<line x1="198.9" y1="35.5" x2="200.1" y2="35.5" stroke="#555" stroke-width="1"/>
<line x1="198.9" y1="40.5" x2="200.1" y2="40.5" stroke="#555" stroke-width="1"/>
<line x1="198.9" y1="45.5" x2="200.1" y2="45.5" stroke="#555" stroke-width="1"/>
<line x1="198.9" y1="50.5" x2="200.1" y2="50.5" stroke="#555" stroke-width="1"/>
<line x1="198.9" y1="55.5" x2="200.1" y2="55.5" stroke="#555" stroke-width="1"/>
<line x1="198.9" y1="60.5" x2="200.1" y2="60.5" stroke="#555" stroke-width="1"/>
<line x1="198.9" y1="64.5" x2="200.1" y2="64.5" stroke="#555" stroke-width="1"/>
<line x1="198.9" y1="69.5" x2="200.1" y2="69.5" stroke="#555" stroke-width="1"/>
<text x="251" y="45.9" font-size="10.3" text-anchor="end" fill="#111" stroke="#111" stroke-width="0.45" textLength="28.3" lengthAdjust="spacingAndGlyphs">2.77%</text>
<text x="210.8" y="28.9" font-size="4.2" fill="#333" textLength="23" lengthAdjust="spacingAndGlyphs">SP-1-2 stroma</text>
<text x="198.9" y="79.8" font-size="3.8" text-anchor="middle" fill="#222">10⁰</text>
<text x="212.38" y="79.8" font-size="3.8" text-anchor="middle" fill="#222">10¹</text>
<text x="225.85" y="79.8" font-size="3.8" text-anchor="middle" fill="#222">10²</text>
<text x="239.33" y="79.8" font-size="3.8" text-anchor="middle" fill="#222">10³</text>
<text x="252.8" y="79.8" font-size="3.8" text-anchor="middle" fill="#222">10⁴</text>
<text x="223.16" y="83.2" font-size="3.6" text-anchor="middle" fill="#333">FITC-CD45</text>
<clipPath id="c5"><rect x="265.4" y="30.5" width="52.8" height="43.7"/></clipPath>
<rect x="265.4" y="30.5" width="52.8" height="43.7" fill="#fff"/>
<g clip-path="url(#c5)">
<ellipse cx="270.35" cy="71.2" rx="10.45" ry="7.5" transform="rotate(0 270.35 71.2)" fill="#555" opacity="0.35"/>
<ellipse cx="268.15" cy="72.7" rx="8.8" ry="6" transform="rotate(0 268.15 72.7)" fill="#000" opacity="1"/>
<ellipse cx="271" cy="71" rx="6" ry="3.8" transform="rotate(0 271 71)" fill="#000" opacity="1"/>
<ellipse cx="283" cy="67" rx="7" ry="5" transform="rotate(-30 283 67)" fill="#333" opacity="0.45"/>
<path d="M275.29 69.54h0.7v0.7h-0.7zM266.17 67.64h0.7v0.7h-0.7zM268.71 70.89h0.7v0.7h-0.7zM273.42 67.23h0.7v0.7h-0.7zM279.64 73.3h0.7v0.7h-0.7zM272.5 68.29h0.7v0.7h-0.7zM276.51 68.04h0.7v0.7h-0.7zM265.47 71.04h0.7v0.7h-0.7zM273.21 72.27h0.7v0.7h-0.7zM267.85 73.39h0.7v0.7h-0.7zM267.11 72.53h0.7v0.7h-0.7zM272.89 71.18h0.7v0.7h-0.7zM276.79 70.4h0.7v0.7h-0.7zM277.51 73.08h0.7v0.7h-0.7zM272.67 68.75h0.7v0.7h-0.7zM268.27 68.87h0.7v0.7h-0.7zM271 70.38h0.7v0.7h-0.7zM286.76 72.37h0.7v0.7h-0.7zM275.81 67.87h0.7v0.7h-0.7zM268.48 69.49h0.7v0.7h-0.7zM272.95 67.34h0.7v0.7h-0.7zM279.98 68.76h0.7v0.7h-0.7zM277.34 63.44h0.7v0.7h-0.7zM271.97 71.28h0.7v0.7h-0.7zM272.95 72.26h0.7v0.7h-0.7zM273.39 70.94h0.7v0.7h-0.7zM273.52 69.86h0.7v0.7h-0.7zM267.93 68.71h0.7v0.7h-0.7zM269.61 67.83h0.7v0.7h-0.7zM269.23 71.01h0.7v0.7h-0.7zM286.97 68.47h0.7v0.7h-0.7zM272.25 71.28h0.7v0.7h-0.7zM271.83 73.24h0.7v0.7h-0.7zM280.79 66.72h0.7v0.7h-0.7zM272.8 69.66h0.7v0.7h-0.7zM273.76 65.85h0.7v0.7h-0.7zM274.6 71.03h0.7v0.7h-0.7zM272.36 63.35h0.7v0.7h-0.7zM270.15 68.18h0.7v0.7h-0.7zM275.45 72.08h0.7v0.7h-0.7zM271.89 71.99h0.7v0.7h-0.7zM269.01 70.66h0.7v0.7h-0.7zM272.2 72.11h0.7v0.7h-0.7zM271.65 70.02h0.7v0.7h-0.7zM271.33 68.52h0.7v0.7h-0.7zM283.06 71.99h0.7v0.7h-0.7zM278.94 65.78h0.7v0.7h-0.7zM275.44 72.96h0.7v0.7h-0.7zM275.81 66.92h0.7v0.7h-0.7zM267.69 71.26h0.7v0.7h-0.7zM274.5 67.39h0.7v0.7h-0.7zM270.1 69.25h0.7v0.7h-0.7zM272.3 71.46h0.7v0.7h-0.7zM270.58 66.74h0.7v0.7h-0.7zM271.48 73.52h0.7v0.7h-0.7zM274.2 72.43h0.7v0.7h-0.7zM274.38 68.16h0.7v0.7h-0.7zM274.84 73.48h0.7v0.7h-0.7zM281.85 72.68h0.7v0.7h-0.7zM270.33 68.65h0.7v0.7h-0.7zM267.98 70.8h0.7v0.7h-0.7zM271.84 72.46h0.7v0.7h-0.7zM283.27 70.37h0.7v0.7h-0.7zM275.35 71.88h0.7v0.7h-0.7zM273.35 69.82h0.7v0.7h-0.7zM271.39 67.98h0.7v0.7h-0.7zM272.88 70.38h0.7v0.7h-0.7zM273.58 67.88h0.7v0.7h-0.7zM272.2 70.59h0.7v0.7h-0.7zM274.99 67.26h0.7v0.7h-0.7zM274.08 73.4h0.7v0.7h-0.7zM274.96 69.34h0.7v0.7h-0.7zM269.57 69.74h0.7v0.7h-0.7zM271.22 68.52h0.7v0.7h-0.7zM273.86 71.06h0.7v0.7h-0.7zM267.51 68.24h0.7v0.7h-0.7zM271.5 72.46h0.7v0.7h-0.7zM266.09 67.4h0.7v0.7h-0.7zM274.47 66.78h0.7v0.7h-0.7zM272.54 71.51h0.7v0.7h-0.7zM271.45 67.4h0.7v0.7h-0.7zM271.7 69.45h0.7v0.7h-0.7zM273.66 67.93h0.7v0.7h-0.7zM277.4 65.42h0.7v0.7h-0.7zM271.13 70.47h0.7v0.7h-0.7zM276.76 68.62h0.7v0.7h-0.7zM274.7 68.75h0.7v0.7h-0.7zM270.01 71.78h0.7v0.7h-0.7zM267.41 73.37h0.7v0.7h-0.7zM277.99 70.56h0.7v0.7h-0.7zM266.38 71.66h0.7v0.7h-0.7zM277.69 73.72h0.7v0.7h-0.7zM276.03 64.96h0.7v0.7h-0.7zM265.93 73.84h0.7v0.7h-0.7zM281.32 72.74h0.7v0.7h-0.7zM277.55 69.45h0.7v0.7h-0.7zM265.93 70.14h0.7v0.7h-0.7zM271.02 70.31h0.7v0.7h-0.7zM275.45 70.02h0.7v0.7h-0.7zM272.95 71.72h0.7v0.7h-0.7zM274.19 70.7h0.7v0.7h-0.7zM270.97 68.57h0.7v0.7h-0.7zM278.65 70.9h0.7v0.7h-0.7zM266.66 68.76h0.7v0.7h-0.7zM271.32 69.11h0.7v0.7h-0.7zM277.37 66.97h0.7v0.7h-0.7zM274.44 70.88h0.7v0.7h-0.7zM266.17 70.59h0.7v0.7h-0.7zM271.53 71.95h0.7v0.7h-0.7zM269.77 71.36h0.7v0.7h-0.7zM275.89 73.57h0.7v0.7h-0.7zM271.94 68.65h0.7v0.7h-0.7zM277.36 64.17h0.7v0.7h-0.7zM268.04 72.47h0.7v0.7h-0.7zM275.23 67.35h0.7v0.7h-0.7zM272.76 67.76h0.7v0.7h-0.7zM272.27 73.16h0.7v0.7h-0.7zM275.66 64.21h0.7v0.7h-0.7zM275.82 65.11h0.7v0.7h-0.7zM277.64 71.65h0.7v0.7h-0.7zM283.15 68.62h0.7v0.7h-0.7zM272.02 73.59h0.7v0.7h-0.7zM268.83 68.34h0.7v0.7h-0.7zM270.16 70.23h0.7v0.7h-0.7zM266.64 71.9h0.7v0.7h-0.7zM274.69 70.66h0.7v0.7h-0.7zM280.42 69.47h0.7v0.7h-0.7zM278.47 68.81h0.7v0.7h-0.7zM275.74 64.65h0.7v0.7h-0.7zM272.98 69.92h0.7v0.7h-0.7zM269.55 68.62h0.7v0.7h-0.7zM270.28 68.29h0.7v0.7h-0.7zM269.28 68.88h0.7v0.7h-0.7zM266.76 70.04h0.7v0.7h-0.7z" fill="#222"/>
<path d="M292.33 57.39h0.7v0.7h-0.7zM287.6 67.65h0.7v0.7h-0.7zM295.76 59.09h0.7v0.7h-0.7zM294.45 55.31h0.7v0.7h-0.7zM289.35 65.22h0.7v0.7h-0.7zM284.37 64.57h0.7v0.7h-0.7zM291.03 60.91h0.7v0.7h-0.7zM288.2 65.68h0.7v0.7h-0.7zM288.31 64.58h0.7v0.7h-0.7zM295.83 58.01h0.7v0.7h-0.7zM290.26 55.56h0.7v0.7h-0.7zM278.77 67.32h0.7v0.7h-0.7zM293.81 63.01h0.7v0.7h-0.7zM281.1 68.99h0.7v0.7h-0.7zM281.35 64.71h0.7v0.7h-0.7zM287.64 65.01h0.7v0.7h-0.7zM291.58 63.62h0.7v0.7h-0.7zM283.67 69.11h0.7v0.7h-0.7zM293.83 57.38h0.7v0.7h-0.7zM289.84 58.25h0.7v0.7h-0.7zM280.54 66.67h0.7v0.7h-0.7zM289.64 71.95h0.7v0.7h-0.7zM288.21 68.29h0.7v0.7h-0.7zM289.84 61.68h0.7v0.7h-0.7zM291.05 56.39h0.7v0.7h-0.7zM294.34 58.15h0.7v0.7h-0.7zM279.87 71.18h0.7v0.7h-0.7zM292.26 60.2h0.7v0.7h-0.7zM296.91 52.9h0.7v0.7h-0.7zM292.58 61.09h0.7v0.7h-0.7zM284.8 69.39h0.7v0.7h-0.7zM276.6 66.47h0.7v0.7h-0.7zM289.1 56.81h0.7v0.7h-0.7zM284.12 58.82h0.7v0.7h-0.7zM286.24 59.04h0.7v0.7h-0.7zM287.14 56.72h0.7v0.7h-0.7zM290.24 59.08h0.7v0.7h-0.7zM288.26 61.52h0.7v0.7h-0.7zM286.25 58.29h0.7v0.7h-0.7zM281.39 65.77h0.7v0.7h-0.7zM286.79 55.24h0.7v0.7h-0.7zM282.15 64.52h0.7v0.7h-0.7zM282.15 68.19h0.7v0.7h-0.7zM285.56 60.84h0.7v0.7h-0.7zM283.52 68.92h0.7v0.7h-0.7zM285.09 66.74h0.7v0.7h-0.7zM287.1 55.34h0.7v0.7h-0.7zM281.37 67.58h0.7v0.7h-0.7zM291.6 62.03h0.7v0.7h-0.7zM294.91 60.25h0.7v0.7h-0.7zM285.3 63.44h0.7v0.7h-0.7zM291.93 57.03h0.7v0.7h-0.7zM291.41 52.91h0.7v0.7h-0.7zM291.67 58.24h0.7v0.7h-0.7zM289.95 60.45h0.7v0.7h-0.7zM280.5 66.47h0.7v0.7h-0.7zM295.67 52.32h0.7v0.7h-0.7zM280.39 67.87h0.7v0.7h-0.7zM283.83 61.93h0.7v0.7h-0.7zM284.86 68.74h0.7v0.7h-0.7zM282.93 73.91h0.7v0.7h-0.7zM282.56 62.29h0.7v0.7h-0.7zM293.91 59.25h0.7v0.7h-0.7zM283.05 69.08h0.7v0.7h-0.7zM274.94 69.34h0.7v0.7h-0.7zM294.41 55.62h0.7v0.7h-0.7zM281.01 69.88h0.7v0.7h-0.7zM293.58 57.23h0.7v0.7h-0.7zM276.26 70.5h0.7v0.7h-0.7zM292.04 61.62h0.7v0.7h-0.7zM298.87 51.89h0.7v0.7h-0.7zM284.97 64.39h0.7v0.7h-0.7zM293.58 53.63h0.7v0.7h-0.7zM290.7 48.97h0.7v0.7h-0.7zM291.58 56.35h0.7v0.7h-0.7zM292.14 61.22h0.7v0.7h-0.7zM280.59 67.88h0.7v0.7h-0.7zM290.61 62.11h0.7v0.7h-0.7zM280.39 64.5h0.7v0.7h-0.7zM286.39 62.48h0.7v0.7h-0.7zM280.63 71.82h0.7v0.7h-0.7zM287.49 68.05h0.7v0.7h-0.7zM293.26 57.67h0.7v0.7h-0.7zM290.31 55.71h0.7v0.7h-0.7zM284.89 62.35h0.7v0.7h-0.7zM280.25 68.57h0.7v0.7h-0.7zM289.88 66.04h0.7v0.7h-0.7zM281.48 65.66h0.7v0.7h-0.7zM291.36 60.76h0.7v0.7h-0.7zM287.26 60.76h0.7v0.7h-0.7zM291.72 60.28h0.7v0.7h-0.7zM276.2 70.87h0.7v0.7h-0.7zM277.3 66.35h0.7v0.7h-0.7zM289.01 61.38h0.7v0.7h-0.7zM287.01 59.4h0.7v0.7h-0.7zM285.01 60.94h0.7v0.7h-0.7zM291.67 61.62h0.7v0.7h-0.7zM301.2 55.88h0.7v0.7h-0.7zM282.18 65.09h0.7v0.7h-0.7zM282.84 67.53h0.7v0.7h-0.7zM301.5 53.44h0.7v0.7h-0.7zM272.1 70.42h0.7v0.7h-0.7zM281.07 69.83h0.7v0.7h-0.7zM288.59 62.68h0.7v0.7h-0.7zM297.32 50.94h0.7v0.7h-0.7zM286.6 70.88h0.7v0.7h-0.7zM288.6 58.45h0.7v0.7h-0.7zM272.63 68.93h0.7v0.7h-0.7zM290.19 64.05h0.7v0.7h-0.7zM285.81 61.12h0.7v0.7h-0.7zM287.12 70.18h0.7v0.7h-0.7zM277.51 71.48h0.7v0.7h-0.7zM289.35 63.29h0.7v0.7h-0.7zM286.48 65.23h0.7v0.7h-0.7z" fill="#444"/>
<path d="M298.31 49.68h0.7v0.7h-0.7zM294.36 52.89h0.7v0.7h-0.7zM292.78 54.16h0.7v0.7h-0.7zM295.35 53.1h0.7v0.7h-0.7zM301.78 50.57h0.7v0.7h-0.7zM295.41 54.07h0.7v0.7h-0.7zM297.88 52.41h0.7v0.7h-0.7zM296.41 52.35h0.7v0.7h-0.7zM293.55 52h0.7v0.7h-0.7zM300.34 51.75h0.7v0.7h-0.7zM298.59 50.96h0.7v0.7h-0.7zM296.24 50.63h0.7v0.7h-0.7zM291.39 57.6h0.7v0.7h-0.7zM295.9 50.64h0.7v0.7h-0.7zM294.69 56.44h0.7v0.7h-0.7zM292.74 59.34h0.7v0.7h-0.7zM301.01 53.99h0.7v0.7h-0.7zM293.77 53.81h0.7v0.7h-0.7zM294.65 53.54h0.7v0.7h-0.7zM294.39 51.39h0.7v0.7h-0.7zM298.28 48.03h0.7v0.7h-0.7zM295.16 54.16h0.7v0.7h-0.7zM293.79 52.72h0.7v0.7h-0.7zM296.62 50.52h0.7v0.7h-0.7zM292.05 55.05h0.7v0.7h-0.7zM297.52 55.18h0.7v0.7h-0.7zM293.88 56.31h0.7v0.7h-0.7zM293.13 53.48h0.7v0.7h-0.7zM295.35 53.25h0.7v0.7h-0.7zM300.9 52.46h0.7v0.7h-0.7z" fill="#888"/>
</g>
<rect x="265.4" y="30.5" width="52.8" height="43.7" fill="none" stroke="#6a6a6a" stroke-width="0.8"/>
<line x1="286.5" y1="30.5" x2="286.5" y2="74.2" stroke="#666" stroke-width="1"/>
<line x1="265.4" y1="60.5" x2="318.2" y2="60.5" stroke="#666" stroke-width="1"/>
<line x1="265.5" y1="30.5" x2="265.5" y2="74.2" stroke="#333" stroke-width="1"/>
<line x1="265.4" y1="74.5" x2="318.2" y2="74.5" stroke="#444" stroke-width="1"/>
<line x1="265.4" y1="35.5" x2="266.6" y2="35.5" stroke="#555" stroke-width="1"/>
<line x1="265.4" y1="40.5" x2="266.6" y2="40.5" stroke="#555" stroke-width="1"/>
<line x1="265.4" y1="45.5" x2="266.6" y2="45.5" stroke="#555" stroke-width="1"/>
<line x1="265.4" y1="49.5" x2="266.6" y2="49.5" stroke="#555" stroke-width="1"/>
<line x1="265.4" y1="54.5" x2="266.6" y2="54.5" stroke="#555" stroke-width="1"/>
<line x1="265.4" y1="59.5" x2="266.6" y2="59.5" stroke="#555" stroke-width="1"/>
<line x1="265.4" y1="64.5" x2="266.6" y2="64.5" stroke="#555" stroke-width="1"/>
<line x1="265.4" y1="69.5" x2="266.6" y2="69.5" stroke="#555" stroke-width="1"/>
<text x="317.9" y="45.2" font-size="10.3" text-anchor="end" fill="#111" stroke="#111" stroke-width="0.3" textLength="28.6" lengthAdjust="spacingAndGlyphs">3.03%</text>
<text x="265.2" y="28.6" font-size="4.2" fill="#333" textLength="44.7" lengthAdjust="spacingAndGlyphs">CD34+ no stroma BM-3 F5</text>
<text x="265.4" y="79.4" font-size="3.8" text-anchor="middle" fill="#222">10⁰</text>
<text x="278.6" y="79.4" font-size="3.8" text-anchor="middle" fill="#222">10¹</text>
<text x="291.8" y="79.4" font-size="3.8" text-anchor="middle" fill="#222">10²</text>
<text x="305" y="79.4" font-size="3.8" text-anchor="middle" fill="#222">10³</text>
<text x="318.2" y="79.4" font-size="3.8" text-anchor="middle" fill="#222">10⁴</text>
<text x="289.16" y="82.8" font-size="3.6" text-anchor="middle" fill="#333">FITC-CD45</text>
<clipPath id="c6"><rect x="323.8" y="30.5" width="51.9" height="44.1"/></clipPath>
<rect x="323.8" y="30.5" width="51.9" height="44.1" fill="#fff"/>
<g clip-path="url(#c6)">
<ellipse cx="328.75" cy="71.8" rx="10.45" ry="7" transform="rotate(0 328.75 71.8)" fill="#555" opacity="0.35"/>
<ellipse cx="326.55" cy="73.2" rx="8.8" ry="5.6" transform="rotate(0 326.55 73.2)" fill="#000" opacity="1"/>
<path d="M335.33 73.38h0.7v0.7h-0.7zM326.64 73.62h0.7v0.7h-0.7zM329.87 72.09h0.7v0.7h-0.7zM329.07 72.96h0.7v0.7h-0.7zM335.92 74.27h0.7v0.7h-0.7zM329.38 73.89h0.7v0.7h-0.7zM337.59 68.48h0.7v0.7h-0.7zM337.69 67.36h0.7v0.7h-0.7zM333.09 72.76h0.7v0.7h-0.7zM337.74 71.88h0.7v0.7h-0.7zM328.02 68.87h0.7v0.7h-0.7zM324.21 73.24h0.7v0.7h-0.7zM329.23 69.09h0.7v0.7h-0.7zM333.03 68.96h0.7v0.7h-0.7zM328.24 69.82h0.7v0.7h-0.7zM329.62 66.7h0.7v0.7h-0.7zM331.77 71.3h0.7v0.7h-0.7zM332.13 72.68h0.7v0.7h-0.7zM328.81 73.69h0.7v0.7h-0.7zM334.54 71.69h0.7v0.7h-0.7zM328.39 69.75h0.7v0.7h-0.7zM333.83 68.02h0.7v0.7h-0.7zM329.61 69h0.7v0.7h-0.7zM330.27 71.2h0.7v0.7h-0.7zM334.73 66.92h0.7v0.7h-0.7zM330.07 71.91h0.7v0.7h-0.7zM334.52 68.06h0.7v0.7h-0.7zM333.94 71.71h0.7v0.7h-0.7zM337.11 74.29h0.7v0.7h-0.7zM330.39 69.91h0.7v0.7h-0.7zM328.71 68.47h0.7v0.7h-0.7zM330.26 65.84h0.7v0.7h-0.7zM329.98 72.29h0.7v0.7h-0.7zM335.31 70.13h0.7v0.7h-0.7zM337.27 69.28h0.7v0.7h-0.7zM329.73 65.84h0.7v0.7h-0.7zM326.63 68.88h0.7v0.7h-0.7zM337.62 72.55h0.7v0.7h-0.7zM325.06 72.56h0.7v0.7h-0.7zM332.73 70.46h0.7v0.7h-0.7zM330.51 70.27h0.7v0.7h-0.7zM327.78 66.25h0.7v0.7h-0.7zM337.32 70.34h0.7v0.7h-0.7zM326.79 70.52h0.7v0.7h-0.7zM334.74 72.06h0.7v0.7h-0.7zM327.58 72.09h0.7v0.7h-0.7zM329.4 72.51h0.7v0.7h-0.7zM328.43 67.08h0.7v0.7h-0.7zM330.68 73.18h0.7v0.7h-0.7zM325.05 70.81h0.7v0.7h-0.7zM334.64 70.08h0.7v0.7h-0.7zM334.4 73.9h0.7v0.7h-0.7zM325.92 69.29h0.7v0.7h-0.7zM331.35 65.85h0.7v0.7h-0.7zM333.48 72.62h0.7v0.7h-0.7zM328.25 72.56h0.7v0.7h-0.7zM334.13 71.94h0.7v0.7h-0.7zM328.1 71.54h0.7v0.7h-0.7zM327.89 73.91h0.7v0.7h-0.7zM328.44 72.39h0.7v0.7h-0.7zM331.06 71.28h0.7v0.7h-0.7zM338.64 70.87h0.7v0.7h-0.7zM337.2 73.34h0.7v0.7h-0.7zM336.73 70.65h0.7v0.7h-0.7zM334.85 73.15h0.7v0.7h-0.7zM327.46 71.83h0.7v0.7h-0.7zM329.78 71h0.7v0.7h-0.7zM336.63 69.15h0.7v0.7h-0.7zM328.24 69.36h0.7v0.7h-0.7zM330.47 72.63h0.7v0.7h-0.7zM338.81 71.94h0.7v0.7h-0.7zM332.61 69.11h0.7v0.7h-0.7zM336.8 65.82h0.7v0.7h-0.7zM334.34 67.06h0.7v0.7h-0.7zM328.94 72.68h0.7v0.7h-0.7zM332.38 68.91h0.7v0.7h-0.7zM326.15 73.71h0.7v0.7h-0.7zM330.5 71.91h0.7v0.7h-0.7zM324.04 69.49h0.7v0.7h-0.7zM333.68 67.13h0.7v0.7h-0.7zM340.27 67.32h0.7v0.7h-0.7zM324.58 71.22h0.7v0.7h-0.7zM332.69 73.07h0.7v0.7h-0.7zM328.63 70.54h0.7v0.7h-0.7zM329.28 69.55h0.7v0.7h-0.7zM331.59 71.53h0.7v0.7h-0.7zM327.41 71.78h0.7v0.7h-0.7zM330.34 70.89h0.7v0.7h-0.7zM335.66 66.47h0.7v0.7h-0.7zM331.6 68.23h0.7v0.7h-0.7zM325.25 70.83h0.7v0.7h-0.7zM327.59 73.65h0.7v0.7h-0.7zM325.74 66.57h0.7v0.7h-0.7zM332.84 70.15h0.7v0.7h-0.7zM328.88 74.01h0.7v0.7h-0.7zM326.18 70.1h0.7v0.7h-0.7zM331.1 72.21h0.7v0.7h-0.7zM327.94 73.88h0.7v0.7h-0.7zM341.05 70h0.7v0.7h-0.7zM339.29 65.43h0.7v0.7h-0.7zM337.09 70.17h0.7v0.7h-0.7zM331.05 70.19h0.7v0.7h-0.7zM327.37 67.66h0.7v0.7h-0.7zM328.52 74.59h0.7v0.7h-0.7z" fill="#222"/>
<path d="M347.47 55.12h0.7v0.7h-0.7zM338.91 62.37h0.7v0.7h-0.7zM337.17 67.18h0.7v0.7h-0.7zM345.39 57.6h0.7v0.7h-0.7zM338.89 61.98h0.7v0.7h-0.7zM349.08 55.14h0.7v0.7h-0.7zM337.88 65.49h0.7v0.7h-0.7zM336.88 65.94h0.7v0.7h-0.7zM336.93 64.53h0.7v0.7h-0.7zM344.75 58.58h0.7v0.7h-0.7zM346.51 55.35h0.7v0.7h-0.7zM350.75 54.36h0.7v0.7h-0.7zM342.25 60.88h0.7v0.7h-0.7zM338.02 63.89h0.7v0.7h-0.7zM335.46 66.5h0.7v0.7h-0.7zM343.86 60.56h0.7v0.7h-0.7zM347.26 56.82h0.7v0.7h-0.7zM340.05 61.97h0.7v0.7h-0.7zM340.44 62.19h0.7v0.7h-0.7zM332.85 69.73h0.7v0.7h-0.7zM333.84 67.18h0.7v0.7h-0.7zM341.78 60.03h0.7v0.7h-0.7zM350.24 52.95h0.7v0.7h-0.7zM350.6 54.27h0.7v0.7h-0.7zM339.78 63.02h0.7v0.7h-0.7zM348.27 54.42h0.7v0.7h-0.7zM342.08 59.7h0.7v0.7h-0.7zM342.07 59.98h0.7v0.7h-0.7zM343.06 60.84h0.7v0.7h-0.7zM349.04 54.33h0.7v0.7h-0.7zM343.56 60.2h0.7v0.7h-0.7zM339.87 61.05h0.7v0.7h-0.7zM346.94 54.84h0.7v0.7h-0.7zM346.03 55.63h0.7v0.7h-0.7zM350.47 51.52h0.7v0.7h-0.7zM347.2 57.75h0.7v0.7h-0.7zM338.15 65.88h0.7v0.7h-0.7zM336.76 62.94h0.7v0.7h-0.7zM346.06 57.75h0.7v0.7h-0.7zM339.37 59.61h0.7v0.7h-0.7zM341.53 60.53h0.7v0.7h-0.7zM339.92 62h0.7v0.7h-0.7zM332.7 68.14h0.7v0.7h-0.7zM351.98 53.51h0.7v0.7h-0.7zM339.74 61.62h0.7v0.7h-0.7zM344.66 59.48h0.7v0.7h-0.7zM344.86 56.41h0.7v0.7h-0.7zM342.9 59.87h0.7v0.7h-0.7zM349.95 54.89h0.7v0.7h-0.7zM345.4 59.01h0.7v0.7h-0.7zM341.01 63.37h0.7v0.7h-0.7zM340.13 62.7h0.7v0.7h-0.7zM346 55.72h0.7v0.7h-0.7zM337.36 62.4h0.7v0.7h-0.7zM342.79 59.72h0.7v0.7h-0.7zM340.69 62.32h0.7v0.7h-0.7zM331.42 70h0.7v0.7h-0.7zM342.26 59.92h0.7v0.7h-0.7zM347.09 58.18h0.7v0.7h-0.7zM339.17 61.83h0.7v0.7h-0.7zM339.04 63.28h0.7v0.7h-0.7zM344.37 57.25h0.7v0.7h-0.7zM346.33 55.28h0.7v0.7h-0.7zM346.41 57.09h0.7v0.7h-0.7zM345.7 59.95h0.7v0.7h-0.7zM340.58 61.57h0.7v0.7h-0.7zM344.93 58.97h0.7v0.7h-0.7zM335.49 66.72h0.7v0.7h-0.7zM338.7 64.28h0.7v0.7h-0.7zM348.87 54.38h0.7v0.7h-0.7zM341.59 61.11h0.7v0.7h-0.7zM327.74 74.34h0.7v0.7h-0.7zM344.91 58.09h0.7v0.7h-0.7zM339.55 61.76h0.7v0.7h-0.7zM341.88 62.17h0.7v0.7h-0.7zM342.35 61.92h0.7v0.7h-0.7zM328.86 71.74h0.7v0.7h-0.7zM343.36 59.26h0.7v0.7h-0.7zM333.28 67.49h0.7v0.7h-0.7zM347.41 53.96h0.7v0.7h-0.7zM336.35 64.17h0.7v0.7h-0.7zM339.66 63.44h0.7v0.7h-0.7zM343.66 56.38h0.7v0.7h-0.7zM348.91 53.51h0.7v0.7h-0.7zM340.13 64.34h0.7v0.7h-0.7zM340.8 59.98h0.7v0.7h-0.7zM338.34 62.85h0.7v0.7h-0.7zM336.74 64.8h0.7v0.7h-0.7zM346.61 56.8h0.7v0.7h-0.7zM336.9 68.7h0.7v0.7h-0.7z" fill="#333"/>
<path d="M347.31 56.69h0.7v0.7h-0.7zM350.97 54.9h0.7v0.7h-0.7zM349.59 55.43h0.7v0.7h-0.7zM356.12 48.71h0.7v0.7h-0.7zM347.29 57.2h0.7v0.7h-0.7zM347.28 55.59h0.7v0.7h-0.7zM350.93 53.95h0.7v0.7h-0.7zM350.17 55.82h0.7v0.7h-0.7zM347.94 52.82h0.7v0.7h-0.7zM352.08 51.28h0.7v0.7h-0.7zM352.7 50.04h0.7v0.7h-0.7zM352 52.93h0.7v0.7h-0.7zM340.58 59.01h0.7v0.7h-0.7zM348.43 58.68h0.7v0.7h-0.7zM345.67 60.02h0.7v0.7h-0.7zM353.69 51.83h0.7v0.7h-0.7zM351.35 51.63h0.7v0.7h-0.7zM350.23 54.32h0.7v0.7h-0.7zM352.02 53.83h0.7v0.7h-0.7zM348.6 53.63h0.7v0.7h-0.7zM348.87 55.97h0.7v0.7h-0.7zM343.81 56.66h0.7v0.7h-0.7zM348.19 54.35h0.7v0.7h-0.7zM346.15 51.28h0.7v0.7h-0.7zM348.74 54.55h0.7v0.7h-0.7zM349.93 49.46h0.7v0.7h-0.7zM349.68 55.4h0.7v0.7h-0.7zM352.78 54.28h0.7v0.7h-0.7zM351.8 49.94h0.7v0.7h-0.7zM351.43 51.93h0.7v0.7h-0.7zM349.48 58.04h0.7v0.7h-0.7zM347.21 54.52h0.7v0.7h-0.7zM347.85 53.95h0.7v0.7h-0.7zM353.32 51.9h0.7v0.7h-0.7zM354.48 50.93h0.7v0.7h-0.7zM349.45 56.93h0.7v0.7h-0.7zM347.59 55.09h0.7v0.7h-0.7zM349.57 54.48h0.7v0.7h-0.7zM352.71 50.14h0.7v0.7h-0.7zM350.97 53.06h0.7v0.7h-0.7z" fill="#888"/>
<path d="M339.95 62.84h0.7v0.7h-0.7zM344.94 67.17h0.7v0.7h-0.7zM347.54 67.38h0.7v0.7h-0.7zM346.23 64.71h0.7v0.7h-0.7zM348.05 63.1h0.7v0.7h-0.7zM339.53 65.04h0.7v0.7h-0.7zM339.11 64.51h0.7v0.7h-0.7zM342.4 64.4h0.7v0.7h-0.7zM345.78 63.69h0.7v0.7h-0.7zM343.96 61.06h0.7v0.7h-0.7zM346.7 63.45h0.7v0.7h-0.7zM347.95 57.82h0.7v0.7h-0.7zM342.14 66.7h0.7v0.7h-0.7zM334.23 64.96h0.7v0.7h-0.7zM346.46 66.3h0.7v0.7h-0.7zM338.79 66.66h0.7v0.7h-0.7zM346.72 63.19h0.7v0.7h-0.7zM349.59 65.86h0.7v0.7h-0.7zM346.09 64.7h0.7v0.7h-0.7zM348.64 66.28h0.7v0.7h-0.7z" fill="#999"/>
</g>
<rect x="323.8" y="30.5" width="51.9" height="44.1" fill="none" stroke="#6a6a6a" stroke-width="0.8"/>
<line x1="341.5" y1="30.5" x2="341.5" y2="74.6" stroke="#666" stroke-width="1"/>
<line x1="323.8" y1="61.5" x2="375.7" y2="61.5" stroke="#666" stroke-width="1"/>
<line x1="323.5" y1="30.5" x2="323.5" y2="74.6" stroke="#333" stroke-width="1"/>
<line x1="323.8" y1="74.5" x2="375.7" y2="74.5" stroke="#444" stroke-width="1"/>
<line x1="323.8" y1="35.5" x2="325" y2="35.5" stroke="#555" stroke-width="1"/>
<line x1="323.8" y1="40.5" x2="325" y2="40.5" stroke="#555" stroke-width="1"/>
<line x1="323.8" y1="45.5" x2="325" y2="45.5" stroke="#555" stroke-width="1"/>
<line x1="323.8" y1="50.5" x2="325" y2="50.5" stroke="#555" stroke-width="1"/>
<line x1="323.8" y1="55.5" x2="325" y2="55.5" stroke="#555" stroke-width="1"/>
<line x1="323.8" y1="59.5" x2="325" y2="59.5" stroke="#555" stroke-width="1"/>
<line x1="323.8" y1="64.5" x2="325" y2="64.5" stroke="#555" stroke-width="1"/>
<line x1="323.8" y1="69.5" x2="325" y2="69.5" stroke="#555" stroke-width="1"/>
<text x="372.4" y="45.9" font-size="10.3" text-anchor="end" fill="#111" stroke="#111" stroke-width="0.3" textLength="28.6" lengthAdjust="spacingAndGlyphs">2.17%</text>
<text x="324.6" y="28.6" font-size="4.2" fill="#333" textLength="42.3" lengthAdjust="spacingAndGlyphs">CD34+ no stroma spleen</text>
<text x="323.8" y="79.8" font-size="3.8" text-anchor="middle" fill="#222">10⁰</text>
<text x="336.77" y="79.8" font-size="3.8" text-anchor="middle" fill="#222">10¹</text>
<text x="349.75" y="79.8" font-size="3.8" text-anchor="middle" fill="#222">10²</text>
<text x="362.73" y="79.8" font-size="3.8" text-anchor="middle" fill="#222">10³</text>
<text x="375.7" y="79.8" font-size="3.8" text-anchor="middle" fill="#222">10⁴</text>
<text x="347.15" y="83.2" font-size="3.6" text-anchor="middle" fill="#333">FITC</text>
<clipPath id="c7"><rect x="388.5" y="29.2" width="55.3" height="45.4"/></clipPath>
<rect x="388.5" y="29.2" width="55.3" height="45.4" fill="#fff"/>
<g clip-path="url(#c7)">
<ellipse cx="395.25" cy="71.6" rx="14.25" ry="7.5" transform="rotate(0 395.25 71.6)" fill="#555" opacity="0.35"/>
<ellipse cx="392.25" cy="73.1" rx="12" ry="6" transform="rotate(0 392.25 73.1)" fill="#000" opacity="1"/>
<ellipse cx="394.5" cy="71" rx="7" ry="4.2" transform="rotate(0 394.5 71)" fill="#000" opacity="1"/>
<ellipse cx="399" cy="71.5" rx="5" ry="3.5" transform="rotate(0 399 71.5)" fill="#222" opacity="0.8"/>
<ellipse cx="416" cy="60" rx="12" ry="4" transform="rotate(-52 416 60)" fill="#333" opacity="0.5"/>
<path d="M404.91 72.16h0.7v0.7h-0.7zM393.48 70.2h0.7v0.7h-0.7zM403.48 69.79h0.7v0.7h-0.7zM399.99 72.36h0.7v0.7h-0.7zM396.33 64.1h0.7v0.7h-0.7zM398.36 71.47h0.7v0.7h-0.7zM398.38 68.65h0.7v0.7h-0.7zM405.39 70.46h0.7v0.7h-0.7zM393.43 68.77h0.7v0.7h-0.7zM399.84 67.69h0.7v0.7h-0.7zM406.05 73.91h0.7v0.7h-0.7zM406.41 72.58h0.7v0.7h-0.7zM405.59 72.27h0.7v0.7h-0.7zM406.42 69.42h0.7v0.7h-0.7zM398.33 73.11h0.7v0.7h-0.7zM396.94 74.04h0.7v0.7h-0.7zM398.03 72.86h0.7v0.7h-0.7zM398.06 66.55h0.7v0.7h-0.7zM401.13 69.12h0.7v0.7h-0.7zM397.62 65.27h0.7v0.7h-0.7zM396.27 73.49h0.7v0.7h-0.7zM391.44 68.95h0.7v0.7h-0.7zM400.3 69.41h0.7v0.7h-0.7zM411.88 63.51h0.7v0.7h-0.7zM397.06 71.49h0.7v0.7h-0.7zM412.34 71.24h0.7v0.7h-0.7zM400.86 71.9h0.7v0.7h-0.7zM396.3 69.66h0.7v0.7h-0.7zM394.57 64.79h0.7v0.7h-0.7zM399.23 70.75h0.7v0.7h-0.7zM396.8 70.08h0.7v0.7h-0.7zM392.6 70.78h0.7v0.7h-0.7zM394.62 71.45h0.7v0.7h-0.7zM418 72h0.7v0.7h-0.7zM403.17 73.23h0.7v0.7h-0.7zM402.19 73.24h0.7v0.7h-0.7zM394.2 70.84h0.7v0.7h-0.7zM392.71 73.65h0.7v0.7h-0.7zM402.96 69.49h0.7v0.7h-0.7zM405.63 67.59h0.7v0.7h-0.7zM396.89 72.7h0.7v0.7h-0.7zM397.27 71.98h0.7v0.7h-0.7zM405.25 71.81h0.7v0.7h-0.7zM390.29 72.94h0.7v0.7h-0.7zM396.86 71.18h0.7v0.7h-0.7zM393.78 66.81h0.7v0.7h-0.7zM389.31 69.82h0.7v0.7h-0.7zM390.47 62.92h0.7v0.7h-0.7zM405.05 67.46h0.7v0.7h-0.7zM392.74 72.4h0.7v0.7h-0.7zM392.45 72.78h0.7v0.7h-0.7zM394.33 71.74h0.7v0.7h-0.7zM398.19 70.85h0.7v0.7h-0.7zM393.91 72.4h0.7v0.7h-0.7zM398.57 72.26h0.7v0.7h-0.7zM404.02 66.47h0.7v0.7h-0.7zM399.31 70.33h0.7v0.7h-0.7zM395.45 68.35h0.7v0.7h-0.7zM392.33 67.84h0.7v0.7h-0.7zM408.68 70.88h0.7v0.7h-0.7zM402.38 68h0.7v0.7h-0.7zM397.22 67.92h0.7v0.7h-0.7zM395.91 67.93h0.7v0.7h-0.7zM394.87 68.48h0.7v0.7h-0.7zM391.67 68.13h0.7v0.7h-0.7zM389.89 70.38h0.7v0.7h-0.7zM398.17 72.48h0.7v0.7h-0.7zM404.93 69.23h0.7v0.7h-0.7zM389.33 70.3h0.7v0.7h-0.7zM399.43 68.81h0.7v0.7h-0.7zM404.19 65.23h0.7v0.7h-0.7zM398.85 70.19h0.7v0.7h-0.7zM398.93 69.45h0.7v0.7h-0.7zM400.42 72.73h0.7v0.7h-0.7zM402.56 72.55h0.7v0.7h-0.7zM400.19 67.41h0.7v0.7h-0.7zM394.73 71.23h0.7v0.7h-0.7zM395 67.77h0.7v0.7h-0.7zM397.71 69.14h0.7v0.7h-0.7zM394.76 68.25h0.7v0.7h-0.7zM392.57 70.56h0.7v0.7h-0.7zM393.27 72.83h0.7v0.7h-0.7zM396.56 71.24h0.7v0.7h-0.7zM400.17 74.57h0.7v0.7h-0.7zM401.46 71.52h0.7v0.7h-0.7zM396.43 68.49h0.7v0.7h-0.7zM395.25 72.85h0.7v0.7h-0.7zM398.99 69.72h0.7v0.7h-0.7zM388.74 66.37h0.7v0.7h-0.7zM399.62 73.85h0.7v0.7h-0.7zM399.96 66.84h0.7v0.7h-0.7zM396.1 71.5h0.7v0.7h-0.7zM391.46 71.86h0.7v0.7h-0.7zM396.18 68.41h0.7v0.7h-0.7zM389.33 73.22h0.7v0.7h-0.7zM399.85 68.26h0.7v0.7h-0.7zM390.83 73.45h0.7v0.7h-0.7zM401.42 69.96h0.7v0.7h-0.7zM407.98 70h0.7v0.7h-0.7zM390.55 74.04h0.7v0.7h-0.7zM396.26 71.86h0.7v0.7h-0.7zM397.75 67.92h0.7v0.7h-0.7zM389.7 70.28h0.7v0.7h-0.7zM406.74 67.92h0.7v0.7h-0.7zM406.43 71.49h0.7v0.7h-0.7zM390.19 71.63h0.7v0.7h-0.7zM401.23 68.22h0.7v0.7h-0.7zM390.21 72.14h0.7v0.7h-0.7zM392.18 66.53h0.7v0.7h-0.7zM395.92 71.35h0.7v0.7h-0.7zM393.84 67.4h0.7v0.7h-0.7zM398.89 65.75h0.7v0.7h-0.7zM401.01 72.28h0.7v0.7h-0.7zM408.52 73.43h0.7v0.7h-0.7zM399.83 71.62h0.7v0.7h-0.7zM397.68 66.98h0.7v0.7h-0.7zM407.1 72.39h0.7v0.7h-0.7zM395.62 67.51h0.7v0.7h-0.7zM407.24 72.4h0.7v0.7h-0.7zM389.72 72.81h0.7v0.7h-0.7zM409.94 70.78h0.7v0.7h-0.7zM400.12 69.64h0.7v0.7h-0.7zM393.38 73.98h0.7v0.7h-0.7zM417.69 71.19h0.7v0.7h-0.7zM417.46 62.51h0.7v0.7h-0.7zM416.31 63.63h0.7v0.7h-0.7zM417.74 52.16h0.7v0.7h-0.7zM410.03 67.23h0.7v0.7h-0.7zM421.22 54.85h0.7v0.7h-0.7zM418.99 48.57h0.7v0.7h-0.7zM416.99 55.3h0.7v0.7h-0.7zM417.4 59.98h0.7v0.7h-0.7zM410.17 66.2h0.7v0.7h-0.7zM410.45 68.57h0.7v0.7h-0.7zM410.11 64.82h0.7v0.7h-0.7zM415.43 57.13h0.7v0.7h-0.7zM420.47 50.76h0.7v0.7h-0.7zM421.32 54.75h0.7v0.7h-0.7zM409.86 66.66h0.7v0.7h-0.7zM410.54 65h0.7v0.7h-0.7zM419.41 65.67h0.7v0.7h-0.7zM417.94 66.16h0.7v0.7h-0.7zM414.91 54.2h0.7v0.7h-0.7zM422.57 53.74h0.7v0.7h-0.7zM414.2 60.92h0.7v0.7h-0.7zM416.58 57.59h0.7v0.7h-0.7zM412.14 62.9h0.7v0.7h-0.7zM420.62 50.66h0.7v0.7h-0.7zM414.96 54.99h0.7v0.7h-0.7zM408.5 62.03h0.7v0.7h-0.7zM416.76 62.78h0.7v0.7h-0.7zM416.32 56.87h0.7v0.7h-0.7zM418.35 55.08h0.7v0.7h-0.7zM418.73 58.01h0.7v0.7h-0.7zM412.29 51.11h0.7v0.7h-0.7zM411.08 70.56h0.7v0.7h-0.7zM421.41 65.41h0.7v0.7h-0.7zM413.27 60.46h0.7v0.7h-0.7zM425.49 50.9h0.7v0.7h-0.7zM427.54 48.04h0.7v0.7h-0.7zM416.84 62.91h0.7v0.7h-0.7zM410.59 64.48h0.7v0.7h-0.7zM412.43 63.35h0.7v0.7h-0.7zM418.89 53.65h0.7v0.7h-0.7zM416.4 56.75h0.7v0.7h-0.7zM413.38 48.2h0.7v0.7h-0.7zM415.34 61.78h0.7v0.7h-0.7zM412.92 69.51h0.7v0.7h-0.7zM420.58 61.19h0.7v0.7h-0.7zM422.86 54.74h0.7v0.7h-0.7zM412.3 58.76h0.7v0.7h-0.7zM413.59 60.55h0.7v0.7h-0.7zM416.1 57.32h0.7v0.7h-0.7zM428.11 35.73h0.7v0.7h-0.7zM421.04 50.97h0.7v0.7h-0.7zM417.17 63.59h0.7v0.7h-0.7zM412.78 57.46h0.7v0.7h-0.7zM417.69 56.76h0.7v0.7h-0.7zM405.51 74.51h0.7v0.7h-0.7zM408.37 65.68h0.7v0.7h-0.7zM419.38 57.32h0.7v0.7h-0.7zM420.23 66.51h0.7v0.7h-0.7zM416.61 55.85h0.7v0.7h-0.7zM416.94 58.13h0.7v0.7h-0.7zM400.01 71.81h0.7v0.7h-0.7zM414.06 73.82h0.7v0.7h-0.7zM414.28 60.68h0.7v0.7h-0.7zM415.59 65.91h0.7v0.7h-0.7zM420.69 63.36h0.7v0.7h-0.7zM424.6 58.02h0.7v0.7h-0.7zM416.37 61.58h0.7v0.7h-0.7zM413.24 62.61h0.7v0.7h-0.7zM405.2 70.63h0.7v0.7h-0.7zM409.18 65.15h0.7v0.7h-0.7zM423.2 52.22h0.7v0.7h-0.7zM424.83 53.4h0.7v0.7h-0.7zM423.59 55.79h0.7v0.7h-0.7zM414.9 65.81h0.7v0.7h-0.7zM412.87 61.1h0.7v0.7h-0.7zM428.14 56.32h0.7v0.7h-0.7zM415.39 70.3h0.7v0.7h-0.7zM418.19 52.56h0.7v0.7h-0.7zM418.45 58.9h0.7v0.7h-0.7zM417.06 56.69h0.7v0.7h-0.7zM409.22 68.85h0.7v0.7h-0.7zM422.69 55.74h0.7v0.7h-0.7zM422.46 57.77h0.7v0.7h-0.7zM410.59 66.69h0.7v0.7h-0.7zM420.47 59.75h0.7v0.7h-0.7zM418.21 60.01h0.7v0.7h-0.7zM422.29 63.44h0.7v0.7h-0.7zM429.84 43.57h0.7v0.7h-0.7zM406.58 72.79h0.7v0.7h-0.7zM406.54 68.39h0.7v0.7h-0.7zM421.75 62.02h0.7v0.7h-0.7zM420.25 58.23h0.7v0.7h-0.7zM421.97 53.46h0.7v0.7h-0.7zM411.17 65.65h0.7v0.7h-0.7zM417.06 57.13h0.7v0.7h-0.7zM411.48 63.82h0.7v0.7h-0.7zM405.27 68.13h0.7v0.7h-0.7zM414.56 59.87h0.7v0.7h-0.7zM419.93 62.66h0.7v0.7h-0.7zM417.51 57.89h0.7v0.7h-0.7zM406.88 65.78h0.7v0.7h-0.7zM415.68 55.62h0.7v0.7h-0.7zM415.44 54.84h0.7v0.7h-0.7zM416.52 58.93h0.7v0.7h-0.7zM420.27 52.39h0.7v0.7h-0.7zM414.67 63.05h0.7v0.7h-0.7zM420.78 63.13h0.7v0.7h-0.7zM413.2 60.64h0.7v0.7h-0.7zM415.56 63.16h0.7v0.7h-0.7zM419.09 59.84h0.7v0.7h-0.7zM415.2 74.58h0.7v0.7h-0.7zM425.73 47.38h0.7v0.7h-0.7zM409.96 68.57h0.7v0.7h-0.7zM412.29 52.54h0.7v0.7h-0.7zM412.15 56.84h0.7v0.7h-0.7zM422.11 59.74h0.7v0.7h-0.7zM417.51 49.82h0.7v0.7h-0.7zM425.77 52.45h0.7v0.7h-0.7zM415.41 63.5h0.7v0.7h-0.7zM423.21 48.96h0.7v0.7h-0.7zM414.43 58.95h0.7v0.7h-0.7zM416.45 47.64h0.7v0.7h-0.7zM421 48.31h0.7v0.7h-0.7zM416.63 50.31h0.7v0.7h-0.7zM409.42 65.15h0.7v0.7h-0.7zM416.11 50.99h0.7v0.7h-0.7zM417.53 54.57h0.7v0.7h-0.7zM421.79 50.88h0.7v0.7h-0.7zM418.14 56.33h0.7v0.7h-0.7zM424.61 47.02h0.7v0.7h-0.7zM421.13 64.28h0.7v0.7h-0.7zM418.23 60.89h0.7v0.7h-0.7zM412.6 65.44h0.7v0.7h-0.7zM408.56 61.3h0.7v0.7h-0.7zM411.48 72.03h0.7v0.7h-0.7zM414.25 53.95h0.7v0.7h-0.7zM423.82 46.18h0.7v0.7h-0.7zM414.69 63.03h0.7v0.7h-0.7zM405.65 64.41h0.7v0.7h-0.7zM415.16 67.54h0.7v0.7h-0.7zM416.88 50.23h0.7v0.7h-0.7zM422.51 51.85h0.7v0.7h-0.7zM418.81 56.69h0.7v0.7h-0.7zM415.55 55.1h0.7v0.7h-0.7zM409.29 64.75h0.7v0.7h-0.7zM415.68 63.8h0.7v0.7h-0.7zM413.75 71.6h0.7v0.7h-0.7zM411.07 63.1h0.7v0.7h-0.7zM420.9 56.1h0.7v0.7h-0.7zM411.35 60.09h0.7v0.7h-0.7zM406.43 63.51h0.7v0.7h-0.7zM424.97 54.44h0.7v0.7h-0.7zM427.29 48.28h0.7v0.7h-0.7zM419.78 59.3h0.7v0.7h-0.7zM420.38 52.97h0.7v0.7h-0.7zM423.6 62.06h0.7v0.7h-0.7zM403.24 68.65h0.7v0.7h-0.7zM412.86 68.14h0.7v0.7h-0.7zM421.44 51.19h0.7v0.7h-0.7zM419.45 55.31h0.7v0.7h-0.7zM416.16 56.83h0.7v0.7h-0.7zM415.84 60.18h0.7v0.7h-0.7zM427.96 56.91h0.7v0.7h-0.7zM407.73 73.5h0.7v0.7h-0.7zM418.54 62.04h0.7v0.7h-0.7zM423.73 54.37h0.7v0.7h-0.7zM417.79 52.51h0.7v0.7h-0.7zM419.92 49.77h0.7v0.7h-0.7zM424.66 52.57h0.7v0.7h-0.7zM413.83 69.16h0.7v0.7h-0.7zM410.39 63.11h0.7v0.7h-0.7zM407.18 70.1h0.7v0.7h-0.7zM419.65 51.66h0.7v0.7h-0.7zM427.68 48.83h0.7v0.7h-0.7zM409.91 61.16h0.7v0.7h-0.7zM408.74 72.35h0.7v0.7h-0.7zM420.12 48.92h0.7v0.7h-0.7zM415.26 59.43h0.7v0.7h-0.7zM415.96 62.79h0.7v0.7h-0.7zM425.48 44.38h0.7v0.7h-0.7zM423.43 56.45h0.7v0.7h-0.7zM414.09 61.63h0.7v0.7h-0.7zM411.7 71.41h0.7v0.7h-0.7zM411.43 62.27h0.7v0.7h-0.7zM414.08 57.76h0.7v0.7h-0.7zM409.64 66.51h0.7v0.7h-0.7zM423.39 49.41h0.7v0.7h-0.7zM414.92 53.35h0.7v0.7h-0.7zM409.78 59.53h0.7v0.7h-0.7zM417.05 61.99h0.7v0.7h-0.7zM404.43 69.98h0.7v0.7h-0.7zM414.93 56.31h0.7v0.7h-0.7zM422.82 56.55h0.7v0.7h-0.7zM417.22 56.08h0.7v0.7h-0.7zM414.07 59h0.7v0.7h-0.7zM416.15 61.55h0.7v0.7h-0.7zM416.98 64.08h0.7v0.7h-0.7zM428.42 41.11h0.7v0.7h-0.7zM420.02 59.36h0.7v0.7h-0.7zM418.81 55.09h0.7v0.7h-0.7zM416.11 65.37h0.7v0.7h-0.7zM420.69 56.78h0.7v0.7h-0.7zM413.38 66.82h0.7v0.7h-0.7zM419.76 54.17h0.7v0.7h-0.7zM425.24 60.09h0.7v0.7h-0.7zM407.57 74.12h0.7v0.7h-0.7zM406.1 65.18h0.7v0.7h-0.7zM416.2 62.75h0.7v0.7h-0.7zM413.17 57.22h0.7v0.7h-0.7zM406.82 68.7h0.7v0.7h-0.7zM413.86 58.18h0.7v0.7h-0.7zM412.63 73.96h0.7v0.7h-0.7z" fill="#222"/>
</g>
<rect x="388.5" y="29.2" width="55.3" height="45.4" fill="none" stroke="#6a6a6a" stroke-width="0.8"/>
<line x1="405.5" y1="29.2" x2="405.5" y2="74.6" stroke="#666" stroke-width="1"/>
<line x1="388.5" y1="61.5" x2="443.8" y2="61.5" stroke="#666" stroke-width="1"/>
<line x1="388.5" y1="29.2" x2="388.5" y2="74.6" stroke="#333" stroke-width="1"/>
<line x1="388.5" y1="74.5" x2="443.8" y2="74.5" stroke="#444" stroke-width="1"/>
<line x1="388.5" y1="34.5" x2="389.7" y2="34.5" stroke="#555" stroke-width="1"/>
<line x1="388.5" y1="39.5" x2="389.7" y2="39.5" stroke="#555" stroke-width="1"/>
<line x1="388.5" y1="44.5" x2="389.7" y2="44.5" stroke="#555" stroke-width="1"/>
<line x1="388.5" y1="49.5" x2="389.7" y2="49.5" stroke="#555" stroke-width="1"/>
<line x1="388.5" y1="54.5" x2="389.7" y2="54.5" stroke="#555" stroke-width="1"/>
<line x1="388.5" y1="59.5" x2="389.7" y2="59.5" stroke="#555" stroke-width="1"/>
<line x1="388.5" y1="64.5" x2="389.7" y2="64.5" stroke="#555" stroke-width="1"/>
<line x1="388.5" y1="69.5" x2="389.7" y2="69.5" stroke="#555" stroke-width="1"/>
<text x="440.3" y="43.6" font-size="10.3" text-anchor="end" fill="#111" stroke="#111" stroke-width="0.3" textLength="28.4" lengthAdjust="spacingAndGlyphs">7.89%</text>
<text x="390.5" y="27.3" font-size="4.2" fill="#333" textLength="44.5" lengthAdjust="spacingAndGlyphs">CD34+ stroma BM-1 006</text>
<text x="388.5" y="79.8" font-size="3.8" text-anchor="middle" fill="#222">10⁰</text>
<text x="402.32" y="79.8" font-size="3.8" text-anchor="middle" fill="#222">10¹</text>
<text x="416.15" y="79.8" font-size="3.8" text-anchor="middle" fill="#222">10²</text>
<text x="429.98" y="79.8" font-size="3.8" text-anchor="middle" fill="#222">10³</text>
<text x="443.8" y="79.8" font-size="3.8" text-anchor="middle" fill="#222">10⁴</text>
<text x="413.38" y="83.2" font-size="3.6" text-anchor="middle" fill="#333">FITC-CD45</text>
<clipPath id="c8"><rect x="453.5" y="29.5" width="55" height="45.1"/></clipPath>
<rect x="453.5" y="29.5" width="55" height="45.1" fill="#fff"/>
<g clip-path="url(#c8)">
<ellipse cx="458.9" cy="72" rx="11.4" ry="6.5" transform="rotate(0 458.9 72)" fill="#555" opacity="0.35"/>
<ellipse cx="456.5" cy="73.3" rx="9.6" ry="5.2" transform="rotate(0 456.5 73.3)" fill="#000" opacity="1"/>
<ellipse cx="472" cy="62" rx="11" ry="1.4" transform="rotate(-40 472 62)" fill="#333" opacity="0.5"/>
<path d="M456.32 70.96h0.7v0.7h-0.7zM457.84 69.88h0.7v0.7h-0.7zM460.91 70.6h0.7v0.7h-0.7zM463.93 68.37h0.7v0.7h-0.7zM460.31 73.28h0.7v0.7h-0.7zM466.86 72.74h0.7v0.7h-0.7zM460.89 67.44h0.7v0.7h-0.7zM464.24 72.78h0.7v0.7h-0.7zM455.18 68.37h0.7v0.7h-0.7zM461.53 68.78h0.7v0.7h-0.7zM468.98 69.78h0.7v0.7h-0.7zM457.76 73.53h0.7v0.7h-0.7zM462.42 69.08h0.7v0.7h-0.7zM454.28 70.72h0.7v0.7h-0.7zM455.06 66.45h0.7v0.7h-0.7zM463.98 73.11h0.7v0.7h-0.7zM465.8 72.43h0.7v0.7h-0.7zM457.2 68.38h0.7v0.7h-0.7zM454.9 73.28h0.7v0.7h-0.7zM463.17 66.53h0.7v0.7h-0.7zM465.39 74.51h0.7v0.7h-0.7zM460.86 68.29h0.7v0.7h-0.7zM469.98 68.03h0.7v0.7h-0.7zM460.26 66.53h0.7v0.7h-0.7zM454.12 67.05h0.7v0.7h-0.7zM466.42 74.33h0.7v0.7h-0.7zM458.57 67.92h0.7v0.7h-0.7zM460.38 72.31h0.7v0.7h-0.7zM460.16 73.13h0.7v0.7h-0.7zM461.09 72.49h0.7v0.7h-0.7zM454.13 65.04h0.7v0.7h-0.7zM462.34 69.03h0.7v0.7h-0.7zM460.05 70.39h0.7v0.7h-0.7zM463.23 69.39h0.7v0.7h-0.7zM468.31 71.43h0.7v0.7h-0.7zM463.49 72.95h0.7v0.7h-0.7zM466.17 72.37h0.7v0.7h-0.7zM470.51 72.55h0.7v0.7h-0.7zM463.66 72.54h0.7v0.7h-0.7zM457.32 69.63h0.7v0.7h-0.7zM457.29 74.29h0.7v0.7h-0.7zM463.12 68.34h0.7v0.7h-0.7zM469.9 72.21h0.7v0.7h-0.7zM467 71.9h0.7v0.7h-0.7zM458.97 71.78h0.7v0.7h-0.7zM454.76 68.31h0.7v0.7h-0.7zM456 70.01h0.7v0.7h-0.7zM453.52 71.09h0.7v0.7h-0.7zM470.45 71.22h0.7v0.7h-0.7zM465.39 70.79h0.7v0.7h-0.7zM462.77 71.26h0.7v0.7h-0.7zM457.83 71.54h0.7v0.7h-0.7zM459.16 68.58h0.7v0.7h-0.7zM458.79 72.77h0.7v0.7h-0.7zM457.09 72.56h0.7v0.7h-0.7zM454.93 71.07h0.7v0.7h-0.7zM462.09 73.28h0.7v0.7h-0.7zM469.53 70.62h0.7v0.7h-0.7zM472.2 69.49h0.7v0.7h-0.7zM459.22 67.27h0.7v0.7h-0.7zM464.08 72.03h0.7v0.7h-0.7zM471.44 71.77h0.7v0.7h-0.7zM459.37 67.74h0.7v0.7h-0.7zM460.26 73.78h0.7v0.7h-0.7zM464.64 74.5h0.7v0.7h-0.7zM465.31 71.23h0.7v0.7h-0.7zM463.92 71.79h0.7v0.7h-0.7zM462.7 68.65h0.7v0.7h-0.7zM462.75 72.09h0.7v0.7h-0.7zM468.87 68.91h0.7v0.7h-0.7zM462.49 72.25h0.7v0.7h-0.7zM454.77 70.15h0.7v0.7h-0.7zM461.74 73.27h0.7v0.7h-0.7zM472.41 72.11h0.7v0.7h-0.7zM457.48 65.28h0.7v0.7h-0.7zM466.44 71.01h0.7v0.7h-0.7zM460.11 68.81h0.7v0.7h-0.7zM464.63 66.73h0.7v0.7h-0.7zM461.28 71.66h0.7v0.7h-0.7zM460.17 71.59h0.7v0.7h-0.7zM465.28 67.35h0.7v0.7h-0.7zM459.14 71.52h0.7v0.7h-0.7zM465.82 69.29h0.7v0.7h-0.7zM465.01 72.34h0.7v0.7h-0.7zM461.81 73.22h0.7v0.7h-0.7zM465.1 69.93h0.7v0.7h-0.7zM466.43 73.46h0.7v0.7h-0.7zM463.23 72.59h0.7v0.7h-0.7zM453.8 72.28h0.7v0.7h-0.7zM455.16 68.27h0.7v0.7h-0.7zM458.82 71.71h0.7v0.7h-0.7zM460.41 70.5h0.7v0.7h-0.7zM455.33 71.83h0.7v0.7h-0.7zM456.72 67.71h0.7v0.7h-0.7zM458.53 68.61h0.7v0.7h-0.7zM459.12 70.8h0.7v0.7h-0.7z" fill="#222"/>
<path d="M476.91 63.2h0.75v0.75h-0.75zM474.74 61.72h0.75v0.75h-0.75zM474.53 57.14h0.75v0.75h-0.75zM464.42 66.62h0.75v0.75h-0.75zM476.06 59.11h0.75v0.75h-0.75zM485.06 50.93h0.75v0.75h-0.75zM475.18 59.8h0.75v0.75h-0.75zM475.88 63h0.75v0.75h-0.75zM476.18 61.32h0.75v0.75h-0.75zM481.4 53.42h0.75v0.75h-0.75zM477.39 57.17h0.75v0.75h-0.75zM473.89 61.02h0.75v0.75h-0.75zM472.75 60.91h0.75v0.75h-0.75zM483.47 52.26h0.75v0.75h-0.75zM479.23 59.12h0.75v0.75h-0.75zM478.16 58.91h0.75v0.75h-0.75zM483.45 54.57h0.75v0.75h-0.75zM483.62 50.17h0.75v0.75h-0.75zM486.48 50.23h0.75v0.75h-0.75zM460.45 70.95h0.75v0.75h-0.75zM463.39 69.52h0.75v0.75h-0.75zM461.92 69.09h0.75v0.75h-0.75zM475.16 59.95h0.75v0.75h-0.75zM467.32 65.87h0.75v0.75h-0.75zM472.38 62.15h0.75v0.75h-0.75zM472.77 61.32h0.75v0.75h-0.75zM477.71 54.83h0.75v0.75h-0.75zM469.71 64.48h0.75v0.75h-0.75zM469.78 63.27h0.75v0.75h-0.75zM470.17 64.23h0.75v0.75h-0.75zM481.42 54.12h0.75v0.75h-0.75zM471.46 63.4h0.75v0.75h-0.75zM469.72 60.98h0.75v0.75h-0.75zM474.53 59.57h0.75v0.75h-0.75zM469.58 65.43h0.75v0.75h-0.75zM472.83 60.68h0.75v0.75h-0.75zM456.57 72.37h0.75v0.75h-0.75zM473 61.3h0.75v0.75h-0.75zM476.2 59.19h0.75v0.75h-0.75zM468.65 63.01h0.75v0.75h-0.75zM465.34 67.69h0.75v0.75h-0.75zM465.72 68.89h0.75v0.75h-0.75zM462.36 67.39h0.75v0.75h-0.75zM470.18 60.85h0.75v0.75h-0.75zM483.39 51.1h0.75v0.75h-0.75zM472.44 61.56h0.75v0.75h-0.75zM465.87 64.48h0.75v0.75h-0.75zM460.89 73.13h0.75v0.75h-0.75zM481.85 57.75h0.75v0.75h-0.75zM463.39 70.52h0.75v0.75h-0.75zM473.61 62.42h0.75v0.75h-0.75zM470.06 65.19h0.75v0.75h-0.75zM479.68 56.92h0.75v0.75h-0.75zM482.83 52.96h0.75v0.75h-0.75zM483.06 51.87h0.75v0.75h-0.75zM482.2 49.12h0.75v0.75h-0.75zM472.42 60.62h0.75v0.75h-0.75zM473.87 62.52h0.75v0.75h-0.75zM478.03 57.44h0.75v0.75h-0.75zM483.5 50.19h0.75v0.75h-0.75zM468.65 67.71h0.75v0.75h-0.75zM473.53 57.54h0.75v0.75h-0.75zM474.36 58.35h0.75v0.75h-0.75zM484.14 54.09h0.75v0.75h-0.75zM470.31 65.95h0.75v0.75h-0.75zM468.02 67.24h0.75v0.75h-0.75zM476.89 58.02h0.75v0.75h-0.75zM462.96 69.45h0.75v0.75h-0.75zM456.74 74.18h0.75v0.75h-0.75zM461.26 73.42h0.75v0.75h-0.75zM464.3 64.67h0.75v0.75h-0.75zM477.34 58.49h0.75v0.75h-0.75zM471.28 66.54h0.75v0.75h-0.75zM478.39 57.09h0.75v0.75h-0.75zM466.08 62.29h0.75v0.75h-0.75zM477.11 59.68h0.75v0.75h-0.75zM467.74 63.52h0.75v0.75h-0.75zM471.31 60.08h0.75v0.75h-0.75zM473.69 62.23h0.75v0.75h-0.75zM483.63 53.03h0.75v0.75h-0.75zM474.98 61.11h0.75v0.75h-0.75zM482.38 53.08h0.75v0.75h-0.75zM463.87 67.82h0.75v0.75h-0.75zM463.58 67.9h0.75v0.75h-0.75zM472.45 62.54h0.75v0.75h-0.75zM474.14 60.67h0.75v0.75h-0.75zM470.89 63.99h0.75v0.75h-0.75zM479.74 57.13h0.75v0.75h-0.75zM483.08 52.55h0.75v0.75h-0.75zM472.68 64.64h0.75v0.75h-0.75zM474.73 60.75h0.75v0.75h-0.75zM471.49 64.41h0.75v0.75h-0.75zM469.38 62.82h0.75v0.75h-0.75zM472.21 61.41h0.75v0.75h-0.75zM478.43 56.3h0.75v0.75h-0.75zM473.67 60.57h0.75v0.75h-0.75zM474.82 58.9h0.75v0.75h-0.75zM479.43 53.69h0.75v0.75h-0.75zM469.75 63.02h0.75v0.75h-0.75zM477.5 57.79h0.75v0.75h-0.75zM476.07 58.37h0.75v0.75h-0.75zM467.12 64.54h0.75v0.75h-0.75zM470.25 62.9h0.75v0.75h-0.75zM475.23 60.23h0.75v0.75h-0.75zM479.65 55.74h0.75v0.75h-0.75zM466.95 64.77h0.75v0.75h-0.75zM473.72 61.51h0.75v0.75h-0.75zM486.58 50.41h0.75v0.75h-0.75zM486.68 53.2h0.75v0.75h-0.75zM466.78 68.77h0.75v0.75h-0.75zM481.96 56.26h0.75v0.75h-0.75zM473.73 62.51h0.75v0.75h-0.75zM469.62 64.21h0.75v0.75h-0.75zM474.62 63.16h0.75v0.75h-0.75zM472.31 63.7h0.75v0.75h-0.75zM472.86 60.41h0.75v0.75h-0.75zM475.22 60.75h0.75v0.75h-0.75zM468.62 66.25h0.75v0.75h-0.75zM467.36 64.75h0.75v0.75h-0.75zM474.32 59.99h0.75v0.75h-0.75zM464.86 65.56h0.75v0.75h-0.75zM473.36 61.61h0.75v0.75h-0.75zM469.99 64.34h0.75v0.75h-0.75zM462.8 70.73h0.75v0.75h-0.75zM476.1 59.37h0.75v0.75h-0.75zM468.84 65.12h0.75v0.75h-0.75zM474.79 61.81h0.75v0.75h-0.75zM475.12 60.16h0.75v0.75h-0.75zM468.73 66.54h0.75v0.75h-0.75zM480.67 54.23h0.75v0.75h-0.75zM477.66 58.11h0.75v0.75h-0.75zM471.6 60.49h0.75v0.75h-0.75zM483.55 49.48h0.75v0.75h-0.75zM474.77 59.37h0.75v0.75h-0.75zM480.54 54.46h0.75v0.75h-0.75zM473.78 61.88h0.75v0.75h-0.75zM475.71 58.35h0.75v0.75h-0.75zM478.02 57.95h0.75v0.75h-0.75zM479.38 55.28h0.75v0.75h-0.75zM472.36 61.38h0.75v0.75h-0.75zM467.44 66.59h0.75v0.75h-0.75zM477 60.55h0.75v0.75h-0.75zM471.08 63.76h0.75v0.75h-0.75zM480.77 54.79h0.75v0.75h-0.75zM473.55 61.27h0.75v0.75h-0.75zM467.43 64.5h0.75v0.75h-0.75zM480.82 55.23h0.75v0.75h-0.75zM471.45 60.7h0.75v0.75h-0.75zM474.79 61.99h0.75v0.75h-0.75zM464.35 67.25h0.75v0.75h-0.75zM481.81 56.52h0.75v0.75h-0.75zM483.21 52h0.75v0.75h-0.75zM476.5 57.3h0.75v0.75h-0.75zM476.27 58.14h0.75v0.75h-0.75zM475.46 61.7h0.75v0.75h-0.75zM475.12 59.31h0.75v0.75h-0.75zM473.61 61.44h0.75v0.75h-0.75zM469.65 64.66h0.75v0.75h-0.75zM478.41 59.59h0.75v0.75h-0.75zM457.87 72.19h0.75v0.75h-0.75zM465.24 69.49h0.75v0.75h-0.75zM489.89 47.65h0.75v0.75h-0.75zM474.78 61.93h0.75v0.75h-0.75zM469.11 63.94h0.75v0.75h-0.75zM474.84 58.97h0.75v0.75h-0.75zM480.61 55.11h0.75v0.75h-0.75zM477.72 61.82h0.75v0.75h-0.75zM470.7 64.99h0.75v0.75h-0.75zM468.37 67.48h0.75v0.75h-0.75zM479.72 56.1h0.75v0.75h-0.75zM481.12 57.39h0.75v0.75h-0.75zM482.43 53.59h0.75v0.75h-0.75zM473.54 62.91h0.75v0.75h-0.75zM462.44 69.35h0.75v0.75h-0.75zM476.79 59.28h0.75v0.75h-0.75zM487.18 52.56h0.75v0.75h-0.75zM475.58 60.08h0.75v0.75h-0.75zM463.84 68.88h0.75v0.75h-0.75zM474.6 59.78h0.75v0.75h-0.75zM473.91 61.76h0.75v0.75h-0.75zM466.03 66.39h0.75v0.75h-0.75zM461.81 72.81h0.75v0.75h-0.75zM464.39 65.87h0.75v0.75h-0.75zM478.08 56.88h0.75v0.75h-0.75zM479.29 55.6h0.75v0.75h-0.75zM488.09 50.03h0.75v0.75h-0.75zM474.12 60.75h0.75v0.75h-0.75zM472.27 63.47h0.75v0.75h-0.75zM486.29 49.64h0.75v0.75h-0.75zM466.07 68.31h0.75v0.75h-0.75zM479.04 53.93h0.75v0.75h-0.75zM467.46 64.48h0.75v0.75h-0.75zM477.25 58.78h0.75v0.75h-0.75zM467.07 64.59h0.75v0.75h-0.75zM475.96 55.57h0.75v0.75h-0.75zM477.26 57.67h0.75v0.75h-0.75zM486.89 51.51h0.75v0.75h-0.75zM468.83 64.54h0.75v0.75h-0.75zM470.51 62.37h0.75v0.75h-0.75zM474.35 61.98h0.75v0.75h-0.75zM462.56 69.88h0.75v0.75h-0.75zM483.76 53.71h0.75v0.75h-0.75zM466.8 65.35h0.75v0.75h-0.75zM465.87 64.8h0.75v0.75h-0.75zM480.87 55.01h0.75v0.75h-0.75zM467.08 64.07h0.75v0.75h-0.75zM469.97 63.19h0.75v0.75h-0.75zM484.31 51.24h0.75v0.75h-0.75zM474.67 61.89h0.75v0.75h-0.75zM477.39 57.52h0.75v0.75h-0.75zM476.7 57.67h0.75v0.75h-0.75zM471.61 61.07h0.75v0.75h-0.75zM465.69 65.16h0.75v0.75h-0.75zM476.83 59.15h0.75v0.75h-0.75zM474.83 61.27h0.75v0.75h-0.75zM476.73 58.57h0.75v0.75h-0.75zM467.5 67.1h0.75v0.75h-0.75zM481.56 55.37h0.75v0.75h-0.75zM481.07 53.94h0.75v0.75h-0.75zM467.39 68.29h0.75v0.75h-0.75zM469.25 65.05h0.75v0.75h-0.75zM471.73 62.6h0.75v0.75h-0.75zM470.73 62.51h0.75v0.75h-0.75zM462.49 73.49h0.75v0.75h-0.75zM472.8 58.46h0.75v0.75h-0.75zM465.94 65.55h0.75v0.75h-0.75zM465.89 63.22h0.75v0.75h-0.75zM478.24 59.84h0.75v0.75h-0.75zM471.95 63.62h0.75v0.75h-0.75zM476.04 56.87h0.75v0.75h-0.75zM479.86 52.94h0.75v0.75h-0.75zM468.82 64.41h0.75v0.75h-0.75zM481.59 54.49h0.75v0.75h-0.75zM471.5 61.42h0.75v0.75h-0.75zM473.64 61.03h0.75v0.75h-0.75zM479.08 58.72h0.75v0.75h-0.75zM478 57.34h0.75v0.75h-0.75zM473.28 63.93h0.75v0.75h-0.75zM474.34 60.35h0.75v0.75h-0.75zM486.41 52.85h0.75v0.75h-0.75zM476.75 58.17h0.75v0.75h-0.75zM469.59 66.13h0.75v0.75h-0.75zM470.73 65h0.75v0.75h-0.75zM467.8 66.04h0.75v0.75h-0.75zM475.83 59.36h0.75v0.75h-0.75zM474.89 60.55h0.75v0.75h-0.75zM464.52 66.77h0.75v0.75h-0.75zM473.48 64.09h0.75v0.75h-0.75zM471.4 61.3h0.75v0.75h-0.75zM468.58 65.27h0.75v0.75h-0.75zM480.51 54.26h0.75v0.75h-0.75zM476.93 58.51h0.75v0.75h-0.75zM469.83 62.59h0.75v0.75h-0.75zM471.39 61.66h0.75v0.75h-0.75zM475.18 56.75h0.75v0.75h-0.75zM481.22 55.86h0.75v0.75h-0.75zM478.12 59.69h0.75v0.75h-0.75z" fill="#111"/>
<path d="M483.24 49.21h0.8v0.8h-0.8zM484.61 53.02h0.8v0.8h-0.8zM481.39 52.09h0.8v0.8h-0.8zM485.42 52.48h0.8v0.8h-0.8zM482.9 52.87h0.8v0.8h-0.8zM482.37 52.56h0.8v0.8h-0.8zM485.1 54.04h0.8v0.8h-0.8zM480.49 54.67h0.8v0.8h-0.8zM487.5 50.29h0.8v0.8h-0.8zM485.24 53.37h0.8v0.8h-0.8zM480.69 52.51h0.8v0.8h-0.8zM479.13 53.24h0.8v0.8h-0.8zM485.44 53.24h0.8v0.8h-0.8zM482.42 52.26h0.8v0.8h-0.8zM485.48 52.67h0.8v0.8h-0.8zM482.35 49.52h0.8v0.8h-0.8zM480.09 49.98h0.8v0.8h-0.8zM483.51 50.96h0.8v0.8h-0.8zM484.42 55.59h0.8v0.8h-0.8zM487.11 51h0.8v0.8h-0.8zM484.73 52.28h0.8v0.8h-0.8zM482.81 53.39h0.8v0.8h-0.8zM486.72 48.21h0.8v0.8h-0.8zM482.9 53.8h0.8v0.8h-0.8zM486.67 52.17h0.8v0.8h-0.8zM481.98 53.9h0.8v0.8h-0.8zM482.1 51.28h0.8v0.8h-0.8zM483.61 51.73h0.8v0.8h-0.8zM486.27 51.59h0.8v0.8h-0.8zM482.58 53.88h0.8v0.8h-0.8zM482.59 52.23h0.8v0.8h-0.8zM484.26 54.72h0.8v0.8h-0.8zM481.27 50.87h0.8v0.8h-0.8zM483.41 54.84h0.8v0.8h-0.8zM486.98 47.59h0.8v0.8h-0.8zM482.94 52.64h0.8v0.8h-0.8zM481.73 55.33h0.8v0.8h-0.8zM484.22 52.96h0.8v0.8h-0.8zM488.04 48.5h0.8v0.8h-0.8zM486.48 52.33h0.8v0.8h-0.8zM482.1 52.74h0.8v0.8h-0.8zM487.82 50.93h0.8v0.8h-0.8zM483.05 50.8h0.8v0.8h-0.8zM486.3 51.77h0.8v0.8h-0.8zM489.92 50.91h0.8v0.8h-0.8zM485.86 51.55h0.8v0.8h-0.8zM483.5 51.66h0.8v0.8h-0.8zM484.87 52.33h0.8v0.8h-0.8zM486.48 52.9h0.8v0.8h-0.8zM483.99 51.27h0.8v0.8h-0.8zM487.31 53.27h0.8v0.8h-0.8zM482.86 54.42h0.8v0.8h-0.8zM485.67 52.33h0.8v0.8h-0.8zM484.88 51.56h0.8v0.8h-0.8zM485.7 54.93h0.8v0.8h-0.8zM485.78 47.81h0.8v0.8h-0.8zM479.58 57.21h0.8v0.8h-0.8zM482.11 52.9h0.8v0.8h-0.8zM481.31 55.56h0.8v0.8h-0.8zM483.29 51.87h0.8v0.8h-0.8zM488.48 54.3h0.8v0.8h-0.8zM488.18 51.68h0.8v0.8h-0.8zM483.94 54.05h0.8v0.8h-0.8zM485.23 54.11h0.8v0.8h-0.8zM485.09 51.51h0.8v0.8h-0.8zM484.26 50.64h0.8v0.8h-0.8zM487.23 53.23h0.8v0.8h-0.8zM483.93 53.83h0.8v0.8h-0.8zM481.83 56.46h0.8v0.8h-0.8zM484.55 49.71h0.8v0.8h-0.8zM487.5 49.82h0.8v0.8h-0.8zM479.11 53.48h0.8v0.8h-0.8zM485.39 50.72h0.8v0.8h-0.8zM484.39 48.63h0.8v0.8h-0.8zM484.91 53.97h0.8v0.8h-0.8zM483.45 54.51h0.8v0.8h-0.8zM483.69 53.54h0.8v0.8h-0.8zM487.14 54.97h0.8v0.8h-0.8zM482.48 55.55h0.8v0.8h-0.8zM485.28 48.86h0.8v0.8h-0.8z" fill="#000"/>
<path d="M485.06 54.47h0.7v0.7h-0.7zM481.31 59.36h0.7v0.7h-0.7zM482.88 63.18h0.7v0.7h-0.7zM480.36 62.75h0.7v0.7h-0.7zM482.86 64.19h0.7v0.7h-0.7zM479.36 65.12h0.7v0.7h-0.7zM483.19 62.67h0.7v0.7h-0.7zM485.24 59.55h0.7v0.7h-0.7zM483.19 64.49h0.7v0.7h-0.7zM486.59 63.5h0.7v0.7h-0.7zM480.07 60.79h0.7v0.7h-0.7zM487.79 68.4h0.7v0.7h-0.7zM478.84 64.7h0.7v0.7h-0.7zM479.21 71.92h0.7v0.7h-0.7zM483.22 58.09h0.7v0.7h-0.7zM482.61 69.56h0.7v0.7h-0.7zM482.01 67.84h0.7v0.7h-0.7zM481.68 66.81h0.7v0.7h-0.7zM482.62 63.25h0.7v0.7h-0.7zM483.01 66.64h0.7v0.7h-0.7zM481.89 63.34h0.7v0.7h-0.7zM479.04 66.96h0.7v0.7h-0.7zM484.41 56.6h0.7v0.7h-0.7zM480.44 71.26h0.7v0.7h-0.7zM484.67 63.23h0.7v0.7h-0.7zM485.94 62.16h0.7v0.7h-0.7zM479.7 73.54h0.7v0.7h-0.7zM480.73 65.16h0.7v0.7h-0.7zM477.19 62.07h0.7v0.7h-0.7zM478.57 65.47h0.7v0.7h-0.7zM476.65 70.13h0.7v0.7h-0.7zM480.96 63.64h0.7v0.7h-0.7zM480.15 68.89h0.7v0.7h-0.7zM486.47 64.41h0.7v0.7h-0.7zM486.71 72.26h0.7v0.7h-0.7zM485.91 67.16h0.7v0.7h-0.7zM477.65 68.62h0.7v0.7h-0.7zM480.81 66.76h0.7v0.7h-0.7zM476.5 64.9h0.7v0.7h-0.7zM482.68 62.35h0.7v0.7h-0.7zM482.86 72.51h0.7v0.7h-0.7zM482.67 63.33h0.7v0.7h-0.7zM488.96 57.62h0.7v0.7h-0.7zM479.32 67.59h0.7v0.7h-0.7zM480.27 57.07h0.7v0.7h-0.7zM482.76 69.24h0.7v0.7h-0.7zM479.68 71.71h0.7v0.7h-0.7zM483.46 70.64h0.7v0.7h-0.7zM477.54 65.99h0.7v0.7h-0.7z" fill="#777"/>
</g>
<rect x="453.5" y="29.5" width="55" height="45.1" fill="none" stroke="#6a6a6a" stroke-width="0.8"/>
<line x1="475.5" y1="29.5" x2="475.5" y2="74.6" stroke="#666" stroke-width="1"/>
<line x1="453.5" y1="58.5" x2="508.5" y2="58.5" stroke="#666" stroke-width="1"/>
<line x1="453.5" y1="29.5" x2="453.5" y2="74.6" stroke="#333" stroke-width="1"/>
<line x1="453.5" y1="74.5" x2="508.5" y2="74.5" stroke="#444" stroke-width="1"/>
<line x1="453.5" y1="34.5" x2="454.7" y2="34.5" stroke="#555" stroke-width="1"/>
<line x1="453.5" y1="39.5" x2="454.7" y2="39.5" stroke="#555" stroke-width="1"/>
<line x1="453.5" y1="44.5" x2="454.7" y2="44.5" stroke="#555" stroke-width="1"/>
<line x1="453.5" y1="49.5" x2="454.7" y2="49.5" stroke="#555" stroke-width="1"/>
<line x1="453.5" y1="54.5" x2="454.7" y2="54.5" stroke="#555" stroke-width="1"/>
<line x1="453.5" y1="59.5" x2="454.7" y2="59.5" stroke="#555" stroke-width="1"/>
<line x1="453.5" y1="64.5" x2="454.7" y2="64.5" stroke="#555" stroke-width="1"/>
<line x1="453.5" y1="69.5" x2="454.7" y2="69.5" stroke="#555" stroke-width="1"/>
<text x="507.3" y="43.6" font-size="10.3" text-anchor="end" fill="#111" stroke="#111" stroke-width="0.3" textLength="28.9" lengthAdjust="spacingAndGlyphs">3.19%</text>
<text x="451.5" y="27.6" font-size="4.2" fill="#333" textLength="50.8" lengthAdjust="spacingAndGlyphs">CD34+ stroma Spleen-1 007</text>
<text x="453.5" y="79.8" font-size="3.8" text-anchor="middle" fill="#222">10⁰</text>
<text x="467.25" y="79.8" font-size="3.8" text-anchor="middle" fill="#222">10¹</text>
<text x="481" y="79.8" font-size="3.8" text-anchor="middle" fill="#222">10²</text>
<text x="494.75" y="79.8" font-size="3.8" text-anchor="middle" fill="#222">10³</text>
<text x="508.5" y="79.8" font-size="3.8" text-anchor="middle" fill="#222">10⁴</text>
<text x="478.25" y="83.2" font-size="3.6" text-anchor="middle" fill="#333">FITC-CD45</text>
<line x1="9.2" y1="91" x2="502" y2="91" stroke="#111" stroke-width="2"/>
<path d="M506.5 91.1 L499 87.8 L499 94.4 Z" fill="#111"/>
<line x1="10" y1="92.1" x2="10" y2="42" stroke="#111" stroke-width="2"/>
<path d="M10.1 37.6 L7 43.8 L13.2 43.8 Z" fill="#111"/>
<text x="8.4" y="61.6" font-size="9.6" text-anchor="middle" transform="rotate(-90 8.4 61.6)" fill="#111" stroke="#111" stroke-width="0.3">CD33</text>
<text x="282" y="100.6" font-size="9.7" text-anchor="middle" fill="#111" textLength="53.8" lengthAdjust="spacingAndGlyphs" stroke="#111" stroke-width="0.25">Human CD45</text>
<text x="0" y="357.1" font-size="12.5" font-weight="bold" fill="#111" stroke="#111" stroke-width="0.4">D</text>
<text x="47.5" y="358.6" font-size="10" fill="#111" stroke="#111" stroke-width="0.25">No IM, no MSC</text>
<text x="162" y="358.6" font-size="10" fill="#111" stroke="#111" stroke-width="0.25">no IM, with MSC</text>
<text x="300.8" y="358.6" font-size="10" fill="#111" stroke="#111" stroke-width="0.25">IM, no MSC</text>
<text x="416.3" y="358.6" font-size="10" fill="#111" stroke="#111" stroke-width="0.25">IM, with MSC</text>
<line x1="34.3" y1="362.5" x2="131.2" y2="362.5" stroke="#111" stroke-width="1"/>
<line x1="155" y1="362.5" x2="252" y2="362.5" stroke="#111" stroke-width="1"/>
<line x1="282.3" y1="362.5" x2="378.7" y2="362.5" stroke="#111" stroke-width="1"/>
<line x1="402.9" y1="362.5" x2="498.5" y2="362.5" stroke="#111" stroke-width="1"/>
<text x="48.9" y="374.7" font-size="10" text-anchor="middle" fill="#111" stroke="#111" stroke-width="0.25">BM</text>
<text x="110.7" y="374.7" font-size="10" text-anchor="middle" fill="#111" stroke="#111" stroke-width="0.25">spleen</text>
<text x="173.4" y="374.7" font-size="10" text-anchor="middle" fill="#111" stroke="#111" stroke-width="0.25">BM</text>
<text x="232" y="374.7" font-size="10" text-anchor="middle" fill="#111" stroke="#111" stroke-width="0.25">spleen</text>
<text x="296.9" y="372.3" font-size="9.6" text-anchor="middle" fill="#111" stroke="#111" stroke-width="0.25">BM</text>
<text x="358.5" y="372.3" font-size="9.6" text-anchor="middle" fill="#111" stroke="#111" stroke-width="0.25">spleen</text>
<text x="421.4" y="372.3" font-size="9.6" text-anchor="middle" fill="#111" stroke="#111" stroke-width="0.25">BM</text>
<text x="479.6" y="372.3" font-size="9.6" text-anchor="middle" fill="#111" stroke="#111" stroke-width="0.25">spleen</text>
<clipPath id="c9"><rect x="22.1" y="380.4" width="57.9" height="46.7"/></clipPath>
<rect x="22.1" y="380.4" width="57.9" height="46.7" fill="#fff"/>
<g clip-path="url(#c9)">
<ellipse cx="26.6" cy="424.5" rx="9.5" ry="6.5" transform="rotate(0 26.6 424.5)" fill="#555" opacity="0.35"/>
<ellipse cx="24.6" cy="425.8" rx="8" ry="5.2" transform="rotate(0 24.6 425.8)" fill="#000" opacity="1"/>
<path d="M33.88 423.85h0.7v0.7h-0.7zM28.9 422.26h0.7v0.7h-0.7zM32.91 422.09h0.7v0.7h-0.7zM28.64 418.62h0.7v0.7h-0.7zM28.36 424.4h0.7v0.7h-0.7zM37.18 420.06h0.7v0.7h-0.7zM25.77 423.32h0.7v0.7h-0.7zM22.58 420.41h0.7v0.7h-0.7zM22.68 425.48h0.7v0.7h-0.7zM27.89 425.94h0.7v0.7h-0.7zM23.36 425.35h0.7v0.7h-0.7zM26.16 424.08h0.7v0.7h-0.7zM32.2 423.93h0.7v0.7h-0.7zM26.56 419.62h0.7v0.7h-0.7zM28.38 425.84h0.7v0.7h-0.7zM25.32 423.68h0.7v0.7h-0.7zM26.73 419.6h0.7v0.7h-0.7zM26.43 419.87h0.7v0.7h-0.7zM29.42 423.46h0.7v0.7h-0.7zM32.67 422.88h0.7v0.7h-0.7zM29.56 424.36h0.7v0.7h-0.7zM30.07 420.11h0.7v0.7h-0.7zM31.23 426.1h0.7v0.7h-0.7zM28.19 425.58h0.7v0.7h-0.7zM30.55 426.12h0.7v0.7h-0.7zM25.28 422.36h0.7v0.7h-0.7zM29.76 425.4h0.7v0.7h-0.7zM30.64 424.72h0.7v0.7h-0.7zM25.96 426.67h0.7v0.7h-0.7zM30.18 426.57h0.7v0.7h-0.7zM25.16 424.16h0.7v0.7h-0.7zM25.99 423.06h0.7v0.7h-0.7zM28.95 424.74h0.7v0.7h-0.7zM24.56 417.37h0.7v0.7h-0.7zM24.64 425.24h0.7v0.7h-0.7zM24.36 424.95h0.7v0.7h-0.7zM26.47 421.43h0.7v0.7h-0.7zM27.64 423.72h0.7v0.7h-0.7zM32.35 420.45h0.7v0.7h-0.7zM24.23 426.75h0.7v0.7h-0.7zM32.1 422.58h0.7v0.7h-0.7zM24.65 424.75h0.7v0.7h-0.7zM27.07 417.53h0.7v0.7h-0.7zM30.73 425.81h0.7v0.7h-0.7zM32.84 420.15h0.7v0.7h-0.7zM22.39 421.75h0.7v0.7h-0.7zM23.75 423.04h0.7v0.7h-0.7zM29.02 425.02h0.7v0.7h-0.7zM34.56 421.05h0.7v0.7h-0.7zM32.02 424.23h0.7v0.7h-0.7zM22.88 424.24h0.7v0.7h-0.7zM24.85 426.44h0.7v0.7h-0.7zM33.9 422.26h0.7v0.7h-0.7zM24.1 424.19h0.7v0.7h-0.7zM23.42 426.17h0.7v0.7h-0.7zM28.88 421.88h0.7v0.7h-0.7zM25.04 425.72h0.7v0.7h-0.7zM24.59 423.34h0.7v0.7h-0.7zM31.02 424.08h0.7v0.7h-0.7zM35.68 425.57h0.7v0.7h-0.7zM30.05 425.34h0.7v0.7h-0.7zM31.39 424.57h0.7v0.7h-0.7zM27.35 419.72h0.7v0.7h-0.7zM37.32 420.48h0.7v0.7h-0.7zM36.76 427.01h0.7v0.7h-0.7zM25.4 424.54h0.7v0.7h-0.7zM27.99 418.71h0.7v0.7h-0.7zM26.6 424.61h0.7v0.7h-0.7zM33.36 420.73h0.7v0.7h-0.7zM29.58 424.06h0.7v0.7h-0.7zM28.77 424.23h0.7v0.7h-0.7zM26.46 420.31h0.7v0.7h-0.7zM30.14 424.85h0.7v0.7h-0.7zM30.69 427.08h0.7v0.7h-0.7zM22.53 417.78h0.7v0.7h-0.7zM23.99 424.89h0.7v0.7h-0.7zM28.03 425.74h0.7v0.7h-0.7zM42.53 422.51h0.7v0.7h-0.7zM27.34 422.3h0.7v0.7h-0.7z" fill="#222"/>
<path d="M52.02 405.41h0.7v0.7h-0.7zM45.1 412.33h0.7v0.7h-0.7zM57.63 400.88h0.7v0.7h-0.7zM49.09 406.26h0.7v0.7h-0.7zM40.25 414.87h0.7v0.7h-0.7zM43.39 410.21h0.7v0.7h-0.7zM55.43 400.01h0.7v0.7h-0.7zM47.5 409.58h0.7v0.7h-0.7zM61.07 396.04h0.7v0.7h-0.7zM56.35 399.79h0.7v0.7h-0.7zM52.89 404.66h0.7v0.7h-0.7zM43.77 412.82h0.7v0.7h-0.7zM61.39 397.2h0.7v0.7h-0.7zM50.62 403.29h0.7v0.7h-0.7zM61.33 397.27h0.7v0.7h-0.7zM42.66 413.19h0.7v0.7h-0.7zM40.15 412.39h0.7v0.7h-0.7zM37.83 418.12h0.7v0.7h-0.7zM63.35 394.36h0.7v0.7h-0.7zM45.35 408.54h0.7v0.7h-0.7zM46.95 409.44h0.7v0.7h-0.7zM58.26 397.63h0.7v0.7h-0.7zM51.11 401.7h0.7v0.7h-0.7zM59.52 398.39h0.7v0.7h-0.7zM47 411.26h0.7v0.7h-0.7zM50.6 408.14h0.7v0.7h-0.7zM58.3 402.67h0.7v0.7h-0.7zM45.01 410.01h0.7v0.7h-0.7zM52.14 403.96h0.7v0.7h-0.7zM58.94 397.66h0.7v0.7h-0.7zM57.58 402.67h0.7v0.7h-0.7zM36.79 414.47h0.7v0.7h-0.7zM43.8 409.8h0.7v0.7h-0.7zM52.3 403.87h0.7v0.7h-0.7zM50.07 405.07h0.7v0.7h-0.7zM49.93 406.98h0.7v0.7h-0.7zM53.98 401.4h0.7v0.7h-0.7zM48.58 405.66h0.7v0.7h-0.7zM47.55 405.18h0.7v0.7h-0.7zM56.64 402.09h0.7v0.7h-0.7z" fill="#888"/>
</g>
<rect x="22.1" y="380.4" width="57.9" height="46.7" fill="none" stroke="#6a6a6a" stroke-width="0.8"/>
<line x1="40.5" y1="380.4" x2="40.5" y2="427.1" stroke="#666" stroke-width="1"/>
<line x1="22.1" y1="414.5" x2="80" y2="414.5" stroke="#666" stroke-width="1"/>
<line x1="22.5" y1="380.4" x2="22.5" y2="427.1" stroke="#333" stroke-width="1"/>
<line x1="22.1" y1="427.5" x2="80" y2="427.5" stroke="#444" stroke-width="1"/>
<line x1="22.1" y1="385.5" x2="23.3" y2="385.5" stroke="#555" stroke-width="1"/>
<line x1="22.1" y1="390.5" x2="23.3" y2="390.5" stroke="#555" stroke-width="1"/>
<line x1="22.1" y1="395.5" x2="23.3" y2="395.5" stroke="#555" stroke-width="1"/>
<line x1="22.1" y1="401.5" x2="23.3" y2="401.5" stroke="#555" stroke-width="1"/>
<line x1="22.1" y1="406.5" x2="23.3" y2="406.5" stroke="#555" stroke-width="1"/>
<line x1="22.1" y1="411.5" x2="23.3" y2="411.5" stroke="#555" stroke-width="1"/>
<line x1="22.1" y1="416.5" x2="23.3" y2="416.5" stroke="#555" stroke-width="1"/>
<line x1="22.1" y1="421.5" x2="23.3" y2="421.5" stroke="#555" stroke-width="1"/>
<text x="75.6" y="395.4" font-size="10" text-anchor="end" fill="#111" stroke="#111" stroke-width="0.2" textLength="28.4" lengthAdjust="spacingAndGlyphs">1.85%</text>
<text x="41.5" y="378.5" font-size="4.2" fill="#333" textLength="9" lengthAdjust="spacingAndGlyphs">BM-2-2</text>
<text x="22.1" y="432.3" font-size="3.8" text-anchor="middle" fill="#222">10⁰</text>
<text x="36.58" y="432.3" font-size="3.8" text-anchor="middle" fill="#222">10¹</text>
<text x="51.05" y="432.3" font-size="3.8" text-anchor="middle" fill="#222">10²</text>
<text x="65.53" y="432.3" font-size="3.8" text-anchor="middle" fill="#222">10³</text>
<text x="80" y="432.3" font-size="3.8" text-anchor="middle" fill="#222">10⁴</text>
<text x="48.16" y="435.7" font-size="3.6" text-anchor="middle" fill="#333">FITC-CD45</text>
<clipPath id="c10"><rect x="83.5" y="380.4" width="56.7" height="47.1"/></clipPath>
<rect x="83.5" y="380.4" width="56.7" height="47.1" fill="#fff"/>
<g clip-path="url(#c10)">
<ellipse cx="87.55" cy="425.1" rx="8.55" ry="6" transform="rotate(0 87.55 425.1)" fill="#555" opacity="0.35"/>
<ellipse cx="85.75" cy="426.3" rx="7.2" ry="4.8" transform="rotate(0 85.75 426.3)" fill="#000" opacity="1"/>
<path d="M88.4 422.86h0.7v0.7h-0.7zM87.05 422.9h0.7v0.7h-0.7zM102.22 421.55h0.7v0.7h-0.7zM84.17 425.89h0.7v0.7h-0.7zM91.35 420.72h0.7v0.7h-0.7zM86.89 424.71h0.7v0.7h-0.7zM88.89 423.16h0.7v0.7h-0.7zM88.32 423.78h0.7v0.7h-0.7zM93.94 424.28h0.7v0.7h-0.7zM88.77 423.23h0.7v0.7h-0.7zM86.33 422.73h0.7v0.7h-0.7zM93.42 425.07h0.7v0.7h-0.7zM95.66 426.93h0.7v0.7h-0.7zM89.74 424.11h0.7v0.7h-0.7zM84.46 425.1h0.7v0.7h-0.7zM87.62 420.7h0.7v0.7h-0.7zM89.77 425.69h0.7v0.7h-0.7zM89.71 423.38h0.7v0.7h-0.7zM90.77 427.1h0.7v0.7h-0.7zM87.65 425.73h0.7v0.7h-0.7zM93.05 423.34h0.7v0.7h-0.7zM89.59 422.72h0.7v0.7h-0.7zM91.34 423.61h0.7v0.7h-0.7zM93.54 422.67h0.7v0.7h-0.7zM95.74 423.75h0.7v0.7h-0.7zM85.5 422.33h0.7v0.7h-0.7zM91.58 422.45h0.7v0.7h-0.7zM91 421.09h0.7v0.7h-0.7zM88.8 422.76h0.7v0.7h-0.7zM97.82 423.21h0.7v0.7h-0.7zM85.01 423.68h0.7v0.7h-0.7zM89.99 425.63h0.7v0.7h-0.7zM84.26 425.02h0.7v0.7h-0.7zM88.47 426.78h0.7v0.7h-0.7zM86.86 423.74h0.7v0.7h-0.7zM91.83 422.99h0.7v0.7h-0.7zM99.99 422.8h0.7v0.7h-0.7zM92.3 426.95h0.7v0.7h-0.7zM92.81 424.01h0.7v0.7h-0.7zM85.54 423.89h0.7v0.7h-0.7zM91.6 424.79h0.7v0.7h-0.7zM91.26 425.88h0.7v0.7h-0.7zM85.32 422.26h0.7v0.7h-0.7zM94.74 423.33h0.7v0.7h-0.7zM85.52 422.26h0.7v0.7h-0.7zM92.82 421.78h0.7v0.7h-0.7zM85.37 427.02h0.7v0.7h-0.7zM89.42 424.63h0.7v0.7h-0.7zM86.3 423.97h0.7v0.7h-0.7zM86.87 424.44h0.7v0.7h-0.7zM92.03 421.45h0.7v0.7h-0.7zM85.18 419.48h0.7v0.7h-0.7zM94.99 424.32h0.7v0.7h-0.7zM88.84 424.36h0.7v0.7h-0.7zM92.97 425.27h0.7v0.7h-0.7zM92.34 424.1h0.7v0.7h-0.7zM88.41 424.37h0.7v0.7h-0.7zM91.62 424.63h0.7v0.7h-0.7zM85.34 424.29h0.7v0.7h-0.7zM92.94 423.99h0.7v0.7h-0.7zM88.41 423.65h0.7v0.7h-0.7zM94.43 418.58h0.7v0.7h-0.7zM94.05 427.04h0.7v0.7h-0.7zM88.61 425.85h0.7v0.7h-0.7zM84.98 427.16h0.7v0.7h-0.7zM101.29 422.29h0.7v0.7h-0.7zM94.55 424.36h0.7v0.7h-0.7zM87.53 423.33h0.7v0.7h-0.7zM88.13 421.5h0.7v0.7h-0.7zM88.83 425.83h0.7v0.7h-0.7zM90.16 425.64h0.7v0.7h-0.7zM91.46 426.9h0.7v0.7h-0.7zM84.26 423.11h0.7v0.7h-0.7zM84.57 426.07h0.7v0.7h-0.7zM90.29 424.58h0.7v0.7h-0.7zM86.27 425.32h0.7v0.7h-0.7zM89.03 422.72h0.7v0.7h-0.7zM90.25 422.9h0.7v0.7h-0.7zM92.76 426h0.7v0.7h-0.7zM86.12 425.91h0.7v0.7h-0.7zM89.17 422.81h0.7v0.7h-0.7z" fill="#222"/>
<path d="M99.98 411.1h0.7v0.7h-0.7zM100.3 414.67h0.7v0.7h-0.7zM115.98 400.57h0.7v0.7h-0.7zM109.45 407.52h0.7v0.7h-0.7zM113.95 404.2h0.7v0.7h-0.7zM117.41 402.11h0.7v0.7h-0.7zM102.96 412.69h0.7v0.7h-0.7zM91.22 420.77h0.7v0.7h-0.7zM108.68 408.57h0.7v0.7h-0.7zM106.63 410.66h0.7v0.7h-0.7zM116.59 399.69h0.7v0.7h-0.7zM104.39 411.32h0.7v0.7h-0.7zM111.61 405.45h0.7v0.7h-0.7zM112.8 402h0.7v0.7h-0.7zM114.58 405.08h0.7v0.7h-0.7zM116.27 402.35h0.7v0.7h-0.7zM106.68 409.79h0.7v0.7h-0.7zM106 406.54h0.7v0.7h-0.7zM103.67 411.31h0.7v0.7h-0.7zM103.48 409.76h0.7v0.7h-0.7zM106.01 408.85h0.7v0.7h-0.7zM108.45 407.56h0.7v0.7h-0.7zM110.14 408.22h0.7v0.7h-0.7zM109.34 407.72h0.7v0.7h-0.7zM96.61 411.29h0.7v0.7h-0.7zM105.79 411.02h0.7v0.7h-0.7zM105.02 409.14h0.7v0.7h-0.7zM100.03 415.92h0.7v0.7h-0.7zM104.48 411.21h0.7v0.7h-0.7zM116.52 402.37h0.7v0.7h-0.7zM123.79 395.41h0.7v0.7h-0.7zM115.42 403.52h0.7v0.7h-0.7zM103.4 411.69h0.7v0.7h-0.7zM103.05 409.92h0.7v0.7h-0.7zM109.41 405.42h0.7v0.7h-0.7zM119.23 397.82h0.7v0.7h-0.7zM104.22 411.12h0.7v0.7h-0.7zM104.37 410.94h0.7v0.7h-0.7zM102.38 409.69h0.7v0.7h-0.7zM89.7 419.84h0.7v0.7h-0.7zM119.2 400.09h0.7v0.7h-0.7zM108.66 406.6h0.7v0.7h-0.7zM107.24 409.16h0.7v0.7h-0.7zM97.41 414.75h0.7v0.7h-0.7zM102.85 414.42h0.7v0.7h-0.7zM101.59 415.24h0.7v0.7h-0.7zM107.22 413.8h0.7v0.7h-0.7zM107.47 408.47h0.7v0.7h-0.7zM118.39 401.55h0.7v0.7h-0.7zM113.67 401.53h0.7v0.7h-0.7z" fill="#888"/>
</g>
<rect x="83.5" y="380.4" width="56.7" height="47.1" fill="none" stroke="#6a6a6a" stroke-width="0.8"/>
<line x1="104.5" y1="380.4" x2="104.5" y2="427.5" stroke="#666" stroke-width="1"/>
<line x1="83.5" y1="412.5" x2="140.2" y2="412.5" stroke="#666" stroke-width="1"/>
<line x1="83.5" y1="380.4" x2="83.5" y2="427.5" stroke="#333" stroke-width="1"/>
<line x1="83.5" y1="427.5" x2="140.2" y2="427.5" stroke="#444" stroke-width="1"/>
<line x1="83.5" y1="385.5" x2="84.7" y2="385.5" stroke="#555" stroke-width="1"/>
<line x1="83.5" y1="390.5" x2="84.7" y2="390.5" stroke="#555" stroke-width="1"/>
<line x1="83.5" y1="396.5" x2="84.7" y2="396.5" stroke="#555" stroke-width="1"/>
<line x1="83.5" y1="401.5" x2="84.7" y2="401.5" stroke="#555" stroke-width="1"/>
<line x1="83.5" y1="406.5" x2="84.7" y2="406.5" stroke="#555" stroke-width="1"/>
<line x1="83.5" y1="411.5" x2="84.7" y2="411.5" stroke="#555" stroke-width="1"/>
<line x1="83.5" y1="417.5" x2="84.7" y2="417.5" stroke="#555" stroke-width="1"/>
<line x1="83.5" y1="422.5" x2="84.7" y2="422.5" stroke="#555" stroke-width="1"/>
<text x="136.1" y="395.4" font-size="10" text-anchor="end" fill="#111" stroke="#111" stroke-width="0.2" textLength="28.5" lengthAdjust="spacingAndGlyphs">2.26%</text>
<text x="104.5" y="378.5" font-size="4.2" fill="#333" textLength="12" lengthAdjust="spacingAndGlyphs">spleen-2-2</text>
<text x="83.5" y="432.7" font-size="3.8" text-anchor="middle" fill="#222">10⁰</text>
<text x="97.67" y="432.7" font-size="3.8" text-anchor="middle" fill="#222">10¹</text>
<text x="111.85" y="432.7" font-size="3.8" text-anchor="middle" fill="#222">10²</text>
<text x="126.02" y="432.7" font-size="3.8" text-anchor="middle" fill="#222">10³</text>
<text x="140.2" y="432.7" font-size="3.8" text-anchor="middle" fill="#222">10⁴</text>
<text x="109.02" y="436.1" font-size="3.6" text-anchor="middle" fill="#333">FITC-CD45</text>
<clipPath id="c11"><rect x="144.2" y="380.4" width="57" height="48.4"/></clipPath>
<rect x="144.2" y="380.4" width="57" height="48.4" fill="#fff"/>
<g clip-path="url(#c11)">
<ellipse cx="148.02" cy="426" rx="8.07" ry="7" transform="rotate(0 148.02 426)" fill="#555" opacity="0.35"/>
<ellipse cx="146.32" cy="427.4" rx="6.8" ry="5.6" transform="rotate(0 146.32 427.4)" fill="#000" opacity="1"/>
<path d="M148.91 423.94h0.7v0.7h-0.7zM145.13 428.15h0.7v0.7h-0.7zM150.42 425.32h0.7v0.7h-0.7zM152.65 425.24h0.7v0.7h-0.7zM154.95 422.64h0.7v0.7h-0.7zM152.67 422.5h0.7v0.7h-0.7zM154.7 424.53h0.7v0.7h-0.7zM153.98 424.14h0.7v0.7h-0.7zM150.82 428.5h0.7v0.7h-0.7zM145.85 425.57h0.7v0.7h-0.7zM146.09 427.69h0.7v0.7h-0.7zM146.99 424.26h0.7v0.7h-0.7zM148.52 428.56h0.7v0.7h-0.7zM145.32 425.23h0.7v0.7h-0.7zM148.04 423.76h0.7v0.7h-0.7zM146.29 424.85h0.7v0.7h-0.7zM150.05 420.97h0.7v0.7h-0.7zM150.19 421.98h0.7v0.7h-0.7zM145.6 425.12h0.7v0.7h-0.7zM148.33 428.05h0.7v0.7h-0.7zM147.49 420.3h0.7v0.7h-0.7zM150.27 428.29h0.7v0.7h-0.7zM147.25 427.17h0.7v0.7h-0.7zM149.03 423.4h0.7v0.7h-0.7zM146.06 421.83h0.7v0.7h-0.7zM145.42 422.07h0.7v0.7h-0.7zM149.11 426.28h0.7v0.7h-0.7zM148.67 425.85h0.7v0.7h-0.7zM153.83 424.49h0.7v0.7h-0.7zM144.51 418.9h0.7v0.7h-0.7zM150.23 423.4h0.7v0.7h-0.7zM148.35 426.45h0.7v0.7h-0.7zM151.07 420.91h0.7v0.7h-0.7zM145.64 425.51h0.7v0.7h-0.7zM148.75 428.51h0.7v0.7h-0.7zM147.38 419.52h0.7v0.7h-0.7zM153.78 420.72h0.7v0.7h-0.7zM145.59 426.39h0.7v0.7h-0.7zM150.21 426.8h0.7v0.7h-0.7zM151.37 423.29h0.7v0.7h-0.7zM154.1 420.57h0.7v0.7h-0.7zM147.06 426.11h0.7v0.7h-0.7zM149.83 422.61h0.7v0.7h-0.7zM145.72 426.35h0.7v0.7h-0.7zM146.87 424.09h0.7v0.7h-0.7zM153.07 425.65h0.7v0.7h-0.7zM148.89 425.59h0.7v0.7h-0.7zM144.82 428.72h0.7v0.7h-0.7zM147.55 424.02h0.7v0.7h-0.7zM154.98 425.84h0.7v0.7h-0.7zM146.85 423.8h0.7v0.7h-0.7zM151.65 424.2h0.7v0.7h-0.7zM145.01 423.42h0.7v0.7h-0.7zM148.84 425.99h0.7v0.7h-0.7zM145.64 423.3h0.7v0.7h-0.7zM151.2 426.65h0.7v0.7h-0.7zM147.81 427.99h0.7v0.7h-0.7zM148.54 425.84h0.7v0.7h-0.7zM151.31 420.41h0.7v0.7h-0.7zM152.83 426.22h0.7v0.7h-0.7zM150.58 420h0.7v0.7h-0.7zM145.69 424.47h0.7v0.7h-0.7zM149.85 424.05h0.7v0.7h-0.7zM152.88 426.99h0.7v0.7h-0.7zM149.36 425.48h0.7v0.7h-0.7zM150.69 425.98h0.7v0.7h-0.7zM146.53 427.49h0.7v0.7h-0.7zM146.14 425.19h0.7v0.7h-0.7zM147.93 422.08h0.7v0.7h-0.7zM151.61 425.11h0.7v0.7h-0.7zM144.85 425.08h0.7v0.7h-0.7zM147.13 427.27h0.7v0.7h-0.7zM145.6 422.92h0.7v0.7h-0.7zM148.96 426.45h0.7v0.7h-0.7zM152.83 424.55h0.7v0.7h-0.7zM153.51 428h0.7v0.7h-0.7zM145.96 424.8h0.7v0.7h-0.7z" fill="#222"/>
<path d="M173.26 407.4h0.7v0.7h-0.7zM174.35 405.76h0.7v0.7h-0.7zM178.74 403.49h0.7v0.7h-0.7zM174.54 404.69h0.7v0.7h-0.7zM173.68 401.48h0.7v0.7h-0.7zM173.11 404.68h0.7v0.7h-0.7zM176.57 407.51h0.7v0.7h-0.7zM170.54 405h0.7v0.7h-0.7zM172.55 406.3h0.7v0.7h-0.7zM178.08 404.25h0.7v0.7h-0.7zM180.4 403.26h0.7v0.7h-0.7zM174.42 401.91h0.7v0.7h-0.7zM174.04 404.23h0.7v0.7h-0.7zM178.01 406.55h0.7v0.7h-0.7zM175.2 402.55h0.7v0.7h-0.7zM175 403.15h0.7v0.7h-0.7zM174.6 403.2h0.7v0.7h-0.7zM173.4 403.9h0.7v0.7h-0.7zM174.47 403.66h0.7v0.7h-0.7zM171.87 404.29h0.7v0.7h-0.7zM177.71 405.29h0.7v0.7h-0.7zM174.36 401.73h0.7v0.7h-0.7zM172.12 401.67h0.7v0.7h-0.7zM174.08 403.38h0.7v0.7h-0.7zM170.72 405.33h0.7v0.7h-0.7zM171.42 402.64h0.7v0.7h-0.7zM173.85 405.65h0.7v0.7h-0.7zM181.48 403.3h0.7v0.7h-0.7zM175.18 403.22h0.7v0.7h-0.7zM175.41 403.66h0.7v0.7h-0.7z" fill="#777"/>
<path d="M169.79 418.76h0.7v0.7h-0.7zM159.57 419.65h0.7v0.7h-0.7zM161.41 420.46h0.7v0.7h-0.7zM162.28 418.79h0.7v0.7h-0.7zM168.37 422.62h0.7v0.7h-0.7zM153 424.08h0.7v0.7h-0.7zM158.14 418.57h0.7v0.7h-0.7zM161.75 420.46h0.7v0.7h-0.7zM162.92 420.38h0.7v0.7h-0.7zM163.58 422.44h0.7v0.7h-0.7zM161.42 422.47h0.7v0.7h-0.7zM158.56 420.93h0.7v0.7h-0.7zM161.79 424.1h0.7v0.7h-0.7zM158.38 428.63h0.7v0.7h-0.7zM166.69 418.61h0.7v0.7h-0.7zM164.3 421.79h0.7v0.7h-0.7zM160.92 419.66h0.7v0.7h-0.7zM166.53 419.56h0.7v0.7h-0.7zM159.68 419.86h0.7v0.7h-0.7zM167.64 425.71h0.7v0.7h-0.7zM154.79 420.67h0.7v0.7h-0.7zM161.44 420.73h0.7v0.7h-0.7zM158.6 418.82h0.7v0.7h-0.7zM160.99 418.77h0.7v0.7h-0.7zM158.71 426.86h0.7v0.7h-0.7zM161.47 420.02h0.7v0.7h-0.7zM158.64 419.16h0.7v0.7h-0.7zM160.45 424.07h0.7v0.7h-0.7zM163.67 421.18h0.7v0.7h-0.7z" fill="#555"/>
</g>
<rect x="144.2" y="380.4" width="57" height="48.4" fill="none" stroke="#6a6a6a" stroke-width="0.8"/>
<line x1="165.5" y1="380.4" x2="165.5" y2="428.8" stroke="#666" stroke-width="1"/>
<line x1="144.2" y1="411.5" x2="201.2" y2="411.5" stroke="#666" stroke-width="1"/>
<line x1="144.5" y1="380.4" x2="144.5" y2="428.8" stroke="#333" stroke-width="1"/>
<line x1="144.2" y1="428.5" x2="201.2" y2="428.5" stroke="#444" stroke-width="1"/>
<line x1="144.2" y1="385.5" x2="145.4" y2="385.5" stroke="#555" stroke-width="1"/>
<line x1="144.2" y1="391.5" x2="145.4" y2="391.5" stroke="#555" stroke-width="1"/>
<line x1="144.2" y1="396.5" x2="145.4" y2="396.5" stroke="#555" stroke-width="1"/>
<line x1="144.2" y1="401.5" x2="145.4" y2="401.5" stroke="#555" stroke-width="1"/>
<line x1="144.2" y1="407.5" x2="145.4" y2="407.5" stroke="#555" stroke-width="1"/>
<line x1="144.2" y1="412.5" x2="145.4" y2="412.5" stroke="#555" stroke-width="1"/>
<line x1="144.2" y1="418.5" x2="145.4" y2="418.5" stroke="#555" stroke-width="1"/>
<line x1="144.2" y1="423.5" x2="145.4" y2="423.5" stroke="#555" stroke-width="1"/>
<text x="196.8" y="395.4" font-size="10" text-anchor="end" fill="#111" stroke="#111" stroke-width="0.2" textLength="29.2" lengthAdjust="spacingAndGlyphs">2.96%</text>
<text x="166" y="378.5" font-size="4.2" fill="#333" textLength="10" lengthAdjust="spacingAndGlyphs">BM-2-017</text>
<text x="144.2" y="434" font-size="3.8" text-anchor="middle" fill="#222">10⁰</text>
<text x="158.45" y="434" font-size="3.8" text-anchor="middle" fill="#222">10¹</text>
<text x="172.7" y="434" font-size="3.8" text-anchor="middle" fill="#222">10²</text>
<text x="186.95" y="434" font-size="3.8" text-anchor="middle" fill="#222">10³</text>
<text x="201.2" y="434" font-size="3.8" text-anchor="middle" fill="#222">10⁴</text>
<text x="169.85" y="437.4" font-size="3.6" text-anchor="middle" fill="#333">FITC-CD45</text>
<clipPath id="c12"><rect x="204.6" y="380.4" width="57.5" height="48.4"/></clipPath>
<rect x="204.6" y="380.4" width="57.5" height="48.4" fill="#fff"/>
<g clip-path="url(#c12)">
<ellipse cx="208.65" cy="426" rx="8.55" ry="7" transform="rotate(0 208.65 426)" fill="#555" opacity="0.35"/>
<ellipse cx="206.85" cy="427.4" rx="7.2" ry="5.6" transform="rotate(0 206.85 427.4)" fill="#000" opacity="1"/>
<path d="M205.23 425.1h0.7v0.7h-0.7zM216.68 426.08h0.7v0.7h-0.7zM209.75 419.58h0.7v0.7h-0.7zM208.27 426.8h0.7v0.7h-0.7zM207.74 422.91h0.7v0.7h-0.7zM207.69 425.05h0.7v0.7h-0.7zM213.99 423.75h0.7v0.7h-0.7zM212.7 426.56h0.7v0.7h-0.7zM206.94 422.88h0.7v0.7h-0.7zM206.19 427.87h0.7v0.7h-0.7zM210.87 428.24h0.7v0.7h-0.7zM217.25 425.36h0.7v0.7h-0.7zM204.8 424.08h0.7v0.7h-0.7zM208.53 424.27h0.7v0.7h-0.7zM210.57 423.01h0.7v0.7h-0.7zM214.63 421.56h0.7v0.7h-0.7zM206.75 420.67h0.7v0.7h-0.7zM212.51 424.77h0.7v0.7h-0.7zM213.37 427.01h0.7v0.7h-0.7zM207.7 425.2h0.7v0.7h-0.7zM208.25 426.33h0.7v0.7h-0.7zM212.17 428.65h0.7v0.7h-0.7zM211.69 428.26h0.7v0.7h-0.7zM205.76 424.59h0.7v0.7h-0.7zM219.29 425.98h0.7v0.7h-0.7zM210.35 426.04h0.7v0.7h-0.7zM210.58 421.68h0.7v0.7h-0.7zM207.24 424.84h0.7v0.7h-0.7zM210.67 422.95h0.7v0.7h-0.7zM209.58 423.31h0.7v0.7h-0.7zM204.75 423.51h0.7v0.7h-0.7zM206.79 427.61h0.7v0.7h-0.7zM215.33 426.9h0.7v0.7h-0.7zM209.16 423.79h0.7v0.7h-0.7zM216.23 428.47h0.7v0.7h-0.7zM210.89 424.64h0.7v0.7h-0.7zM210.02 426.47h0.7v0.7h-0.7zM209.97 426.49h0.7v0.7h-0.7zM206.93 425.44h0.7v0.7h-0.7zM208.6 428.26h0.7v0.7h-0.7zM209.66 423.94h0.7v0.7h-0.7zM210.09 425.66h0.7v0.7h-0.7zM209.07 426.48h0.7v0.7h-0.7zM207.7 420.69h0.7v0.7h-0.7zM212.77 425.25h0.7v0.7h-0.7zM216.63 426.38h0.7v0.7h-0.7zM207.26 426.82h0.7v0.7h-0.7zM218.84 428.3h0.7v0.7h-0.7zM205.65 425.07h0.7v0.7h-0.7zM212.24 422.52h0.7v0.7h-0.7zM211.8 427.87h0.7v0.7h-0.7zM213.22 423.49h0.7v0.7h-0.7zM207.25 422.26h0.7v0.7h-0.7zM204.86 426.18h0.7v0.7h-0.7zM211.09 424.44h0.7v0.7h-0.7zM210.66 425.24h0.7v0.7h-0.7zM206 422.46h0.7v0.7h-0.7zM212.52 422.67h0.7v0.7h-0.7zM212.33 427.03h0.7v0.7h-0.7zM208.48 420.9h0.7v0.7h-0.7zM206.72 421.88h0.7v0.7h-0.7zM214.33 425.71h0.7v0.7h-0.7zM207.52 428.66h0.7v0.7h-0.7zM208.9 426.55h0.7v0.7h-0.7zM208.4 423.28h0.7v0.7h-0.7zM210.87 422.99h0.7v0.7h-0.7zM214.91 428.31h0.7v0.7h-0.7zM218.65 428.03h0.7v0.7h-0.7zM216.42 426.01h0.7v0.7h-0.7zM208.27 426.59h0.7v0.7h-0.7zM206.23 427.33h0.7v0.7h-0.7zM208.22 426.03h0.7v0.7h-0.7zM206.61 424.96h0.7v0.7h-0.7zM213.9 424.74h0.7v0.7h-0.7zM207.32 426.1h0.7v0.7h-0.7zM213.5 424.82h0.7v0.7h-0.7zM205.35 421.09h0.7v0.7h-0.7zM204.68 428.22h0.7v0.7h-0.7zM209.65 426.63h0.7v0.7h-0.7zM214.27 426.1h0.7v0.7h-0.7zM211.92 423.96h0.7v0.7h-0.7zM209.62 426.89h0.7v0.7h-0.7zM205.77 424.94h0.7v0.7h-0.7z" fill="#222"/>
<path d="M246.89 395.7h0.7v0.7h-0.7zM229 412.58h0.7v0.7h-0.7zM224.75 413.91h0.7v0.7h-0.7zM223.49 416.69h0.7v0.7h-0.7zM225.8 412.33h0.7v0.7h-0.7zM231.26 408.43h0.7v0.7h-0.7zM222.94 417.51h0.7v0.7h-0.7zM237.09 404.59h0.7v0.7h-0.7zM235.86 406.64h0.7v0.7h-0.7zM232.96 407.6h0.7v0.7h-0.7zM228.06 411.87h0.7v0.7h-0.7zM233.03 408.03h0.7v0.7h-0.7zM221.35 416.16h0.7v0.7h-0.7zM230.93 407.52h0.7v0.7h-0.7zM227.49 412.84h0.7v0.7h-0.7zM228.51 410.43h0.7v0.7h-0.7zM226.42 411.7h0.7v0.7h-0.7zM236.72 404.1h0.7v0.7h-0.7zM209.17 423.57h0.7v0.7h-0.7zM230.22 409.93h0.7v0.7h-0.7zM221.23 414.32h0.7v0.7h-0.7zM224.86 412.32h0.7v0.7h-0.7zM220.34 417.04h0.7v0.7h-0.7zM219.45 418.2h0.7v0.7h-0.7zM219.15 417.21h0.7v0.7h-0.7zM225.8 415.21h0.7v0.7h-0.7zM243.75 400.88h0.7v0.7h-0.7zM219.53 417.66h0.7v0.7h-0.7zM236.91 405.82h0.7v0.7h-0.7zM210.42 424.43h0.7v0.7h-0.7zM220.06 418.42h0.7v0.7h-0.7zM233.09 406.59h0.7v0.7h-0.7zM248.58 395.33h0.7v0.7h-0.7zM251.71 393.14h0.7v0.7h-0.7zM227.57 414.55h0.7v0.7h-0.7zM221.31 415.58h0.7v0.7h-0.7zM241.98 400.68h0.7v0.7h-0.7zM230.93 407.1h0.7v0.7h-0.7zM245.93 399.29h0.7v0.7h-0.7zM231.17 409.98h0.7v0.7h-0.7zM221.58 415.37h0.7v0.7h-0.7zM211.32 424.41h0.7v0.7h-0.7zM240.22 403.39h0.7v0.7h-0.7zM236.89 405.68h0.7v0.7h-0.7zM216.69 417.77h0.7v0.7h-0.7zM233.65 407.27h0.7v0.7h-0.7zM236.83 404.19h0.7v0.7h-0.7zM218.39 419.21h0.7v0.7h-0.7zM220.13 414.65h0.7v0.7h-0.7zM220.18 415.8h0.7v0.7h-0.7zM215.28 420h0.7v0.7h-0.7zM238.41 407.08h0.7v0.7h-0.7zM244.26 398.37h0.7v0.7h-0.7zM238.57 403.2h0.7v0.7h-0.7zM230.6 408.26h0.7v0.7h-0.7zM225.01 410.92h0.7v0.7h-0.7zM244.65 397.54h0.7v0.7h-0.7zM232.52 406.95h0.7v0.7h-0.7zM228.88 408.78h0.7v0.7h-0.7zM223.88 415.79h0.7v0.7h-0.7zM231.6 405.55h0.7v0.7h-0.7zM234.69 404.2h0.7v0.7h-0.7zM230.3 410.34h0.7v0.7h-0.7zM220.25 416.62h0.7v0.7h-0.7zM224.81 414.3h0.7v0.7h-0.7zM237.32 406.36h0.7v0.7h-0.7zM231.82 411.48h0.7v0.7h-0.7zM218.72 421.02h0.7v0.7h-0.7zM224.92 414.78h0.7v0.7h-0.7zM225.8 413.06h0.7v0.7h-0.7zM217.97 419.43h0.7v0.7h-0.7zM247.7 396.66h0.7v0.7h-0.7zM226.8 412.18h0.7v0.7h-0.7zM234.11 406.36h0.7v0.7h-0.7zM227.13 412.26h0.7v0.7h-0.7zM240.96 402.98h0.7v0.7h-0.7zM215.84 419.46h0.7v0.7h-0.7zM227.85 412.7h0.7v0.7h-0.7zM236.7 404.4h0.7v0.7h-0.7zM248.51 395.57h0.7v0.7h-0.7zM242.36 402.65h0.7v0.7h-0.7zM243.38 400h0.7v0.7h-0.7zM231.73 406.1h0.7v0.7h-0.7zM208.47 425.04h0.7v0.7h-0.7zM235.12 407.56h0.7v0.7h-0.7zM226.74 413.83h0.7v0.7h-0.7zM234.02 409.09h0.7v0.7h-0.7zM210.22 423.39h0.7v0.7h-0.7zM216.51 418.31h0.7v0.7h-0.7zM243.08 398.48h0.7v0.7h-0.7zM218.29 417.97h0.7v0.7h-0.7zM235.66 404.79h0.7v0.7h-0.7zM234.91 406.92h0.7v0.7h-0.7zM218.75 414.59h0.7v0.7h-0.7zM216.76 417.81h0.7v0.7h-0.7zM243.11 398.78h0.7v0.7h-0.7zM216.41 420.59h0.7v0.7h-0.7zM226.87 410.68h0.7v0.7h-0.7zM238.83 404.53h0.7v0.7h-0.7zM229.29 409.13h0.7v0.7h-0.7zM216.61 416.68h0.7v0.7h-0.7zM231.2 409.47h0.7v0.7h-0.7zM217.67 419.09h0.7v0.7h-0.7zM259.52 385.77h0.7v0.7h-0.7zM210.1 425.7h0.7v0.7h-0.7zM222.31 414.8h0.7v0.7h-0.7zM233.24 407.12h0.7v0.7h-0.7zM237.52 404.9h0.7v0.7h-0.7zM238.91 403.23h0.7v0.7h-0.7zM210.48 426.09h0.7v0.7h-0.7zM228.54 408.71h0.7v0.7h-0.7zM228.34 412.37h0.7v0.7h-0.7zM216.65 419.89h0.7v0.7h-0.7zM218.75 416.69h0.7v0.7h-0.7zM221.68 418.01h0.7v0.7h-0.7zM233.97 406.72h0.7v0.7h-0.7zM226.28 412.76h0.7v0.7h-0.7zM230.06 410h0.7v0.7h-0.7z" fill="#444"/>
</g>
<rect x="204.6" y="380.4" width="57.5" height="48.4" fill="none" stroke="#6a6a6a" stroke-width="0.8"/>
<line x1="226.5" y1="380.4" x2="226.5" y2="428.8" stroke="#666" stroke-width="1"/>
<line x1="204.6" y1="411.5" x2="262.1" y2="411.5" stroke="#666" stroke-width="1"/>
<line x1="204.5" y1="380.4" x2="204.5" y2="428.8" stroke="#333" stroke-width="1"/>
<line x1="204.6" y1="428.5" x2="262.1" y2="428.5" stroke="#444" stroke-width="1"/>
<line x1="204.6" y1="385.5" x2="205.8" y2="385.5" stroke="#555" stroke-width="1"/>
<line x1="204.6" y1="391.5" x2="205.8" y2="391.5" stroke="#555" stroke-width="1"/>
<line x1="204.6" y1="396.5" x2="205.8" y2="396.5" stroke="#555" stroke-width="1"/>
<line x1="204.6" y1="401.5" x2="205.8" y2="401.5" stroke="#555" stroke-width="1"/>
<line x1="204.6" y1="407.5" x2="205.8" y2="407.5" stroke="#555" stroke-width="1"/>
<line x1="204.6" y1="412.5" x2="205.8" y2="412.5" stroke="#555" stroke-width="1"/>
<line x1="204.6" y1="418.5" x2="205.8" y2="418.5" stroke="#555" stroke-width="1"/>
<line x1="204.6" y1="423.5" x2="205.8" y2="423.5" stroke="#555" stroke-width="1"/>
<text x="256.8" y="395.4" font-size="10" text-anchor="end" fill="#111" stroke="#111" stroke-width="0.2" textLength="28.4" lengthAdjust="spacingAndGlyphs">5.57%</text>
<text x="227.5" y="378.5" font-size="4.2" fill="#333" textLength="13" lengthAdjust="spacingAndGlyphs">spleen-2-018</text>
<text x="204.6" y="434" font-size="3.8" text-anchor="middle" fill="#222">10⁰</text>
<text x="218.97" y="434" font-size="3.8" text-anchor="middle" fill="#222">10¹</text>
<text x="233.35" y="434" font-size="3.8" text-anchor="middle" fill="#222">10²</text>
<text x="247.73" y="434" font-size="3.8" text-anchor="middle" fill="#222">10³</text>
<text x="262.1" y="434" font-size="3.8" text-anchor="middle" fill="#222">10⁴</text>
<text x="230.48" y="437.4" font-size="3.6" text-anchor="middle" fill="#333">FITC-CD45</text>
<clipPath id="c13"><rect x="271" y="379.8" width="57.1" height="47.7"/></clipPath>
<rect x="271" y="379.8" width="57.1" height="47.7" fill="#fff"/>
<g clip-path="url(#c13)">
<ellipse cx="275.05" cy="424.9" rx="8.55" ry="6.5" transform="rotate(0 275.05 424.9)" fill="#555" opacity="0.35"/>
<ellipse cx="273.25" cy="426.2" rx="7.2" ry="5.2" transform="rotate(0 273.25 426.2)" fill="#000" opacity="1"/>
<path d="M273 417.85h0.7v0.7h-0.7zM279.19 421.3h0.7v0.7h-0.7zM275.84 424.05h0.7v0.7h-0.7zM274.05 425.6h0.7v0.7h-0.7zM275.32 423.59h0.7v0.7h-0.7zM272.61 423.59h0.7v0.7h-0.7zM272.28 424.38h0.7v0.7h-0.7zM281.66 426.77h0.7v0.7h-0.7zM278.1 420.91h0.7v0.7h-0.7zM280.49 426.59h0.7v0.7h-0.7zM284.6 418.72h0.7v0.7h-0.7zM276.47 423.46h0.7v0.7h-0.7zM280.73 421.59h0.7v0.7h-0.7zM280.36 419.35h0.7v0.7h-0.7zM273.94 425.75h0.7v0.7h-0.7zM276.8 420.66h0.7v0.7h-0.7zM273.91 427.08h0.7v0.7h-0.7zM281.12 422.79h0.7v0.7h-0.7zM280.88 422.51h0.7v0.7h-0.7zM277.38 424.22h0.7v0.7h-0.7zM271.43 425.07h0.7v0.7h-0.7zM274.85 417.48h0.7v0.7h-0.7zM273.1 422.18h0.7v0.7h-0.7zM273.08 421.85h0.7v0.7h-0.7zM273.66 418.2h0.7v0.7h-0.7zM279.95 424.45h0.7v0.7h-0.7zM277.41 423.61h0.7v0.7h-0.7zM276.65 423.62h0.7v0.7h-0.7zM272.06 420.51h0.7v0.7h-0.7zM276.7 426.79h0.7v0.7h-0.7zM273.94 427.32h0.7v0.7h-0.7zM283.15 422.97h0.7v0.7h-0.7zM279.31 423.67h0.7v0.7h-0.7zM272.42 423.99h0.7v0.7h-0.7zM278.75 427.21h0.7v0.7h-0.7zM277.83 418.23h0.7v0.7h-0.7zM279.6 424.49h0.7v0.7h-0.7zM272.33 426.22h0.7v0.7h-0.7zM277.73 423.84h0.7v0.7h-0.7zM275.27 425.58h0.7v0.7h-0.7zM278.7 425.9h0.7v0.7h-0.7zM274.77 420.99h0.7v0.7h-0.7zM281.65 427.49h0.7v0.7h-0.7zM274.15 424.18h0.7v0.7h-0.7zM279.62 419.89h0.7v0.7h-0.7zM277.48 422.51h0.7v0.7h-0.7zM284.54 424.28h0.7v0.7h-0.7zM277.24 423.2h0.7v0.7h-0.7zM277.12 419.8h0.7v0.7h-0.7zM271.29 420.59h0.7v0.7h-0.7zM279.99 424.03h0.7v0.7h-0.7zM280.99 419.19h0.7v0.7h-0.7zM273.24 419.62h0.7v0.7h-0.7zM273.43 423.4h0.7v0.7h-0.7zM278.71 423.01h0.7v0.7h-0.7zM274.43 420.57h0.7v0.7h-0.7zM281.47 427.38h0.7v0.7h-0.7zM276.75 422.04h0.7v0.7h-0.7zM279.09 425.47h0.7v0.7h-0.7zM277.01 421.36h0.7v0.7h-0.7zM277.35 422.84h0.7v0.7h-0.7zM279.34 425.74h0.7v0.7h-0.7zM278.15 423.19h0.7v0.7h-0.7zM282.46 426.18h0.7v0.7h-0.7zM281.45 426.35h0.7v0.7h-0.7zM279.04 425.23h0.7v0.7h-0.7zM272.14 419.72h0.7v0.7h-0.7zM272.68 425.78h0.7v0.7h-0.7zM280.03 424.71h0.7v0.7h-0.7zM274.82 419.81h0.7v0.7h-0.7zM279.18 426.09h0.7v0.7h-0.7zM275.52 426.29h0.7v0.7h-0.7zM276.21 422.45h0.7v0.7h-0.7zM274.9 426.14h0.7v0.7h-0.7zM280.19 421.45h0.7v0.7h-0.7zM272.47 424.56h0.7v0.7h-0.7zM284.85 421.34h0.7v0.7h-0.7zM271.42 425.3h0.7v0.7h-0.7zM278.42 422.73h0.7v0.7h-0.7zM276.3 425.46h0.7v0.7h-0.7zM278.79 426.55h0.7v0.7h-0.7zM281.03 424.07h0.7v0.7h-0.7zM279.46 422.67h0.7v0.7h-0.7zM280.51 426.84h0.7v0.7h-0.7z" fill="#222"/>
<path d="M295.59 399.48h0.7v0.7h-0.7zM294.62 402.55h0.7v0.7h-0.7zM293.54 403.85h0.7v0.7h-0.7zM292.82 404.75h0.7v0.7h-0.7zM301.56 401.72h0.7v0.7h-0.7zM299.06 402.98h0.7v0.7h-0.7zM297.6 403.76h0.7v0.7h-0.7zM299.77 402.64h0.7v0.7h-0.7zM298.16 402.52h0.7v0.7h-0.7zM296.67 403.97h0.7v0.7h-0.7zM299.2 400.98h0.7v0.7h-0.7zM292.03 406.67h0.7v0.7h-0.7zM297.14 407.26h0.7v0.7h-0.7zM292.97 404.41h0.7v0.7h-0.7zM297.77 407.39h0.7v0.7h-0.7zM295.85 403.14h0.7v0.7h-0.7zM298.1 403.81h0.7v0.7h-0.7zM293.8 405.46h0.7v0.7h-0.7zM290.41 402.06h0.7v0.7h-0.7zM300 403.04h0.7v0.7h-0.7z" fill="#888"/>
<path d="M282.73 421.07h0.7v0.7h-0.7zM288.39 421.52h0.7v0.7h-0.7zM280.23 418.37h0.7v0.7h-0.7zM288.11 419.66h0.7v0.7h-0.7zM281.53 422.51h0.7v0.7h-0.7zM288.47 426.26h0.7v0.7h-0.7zM279.79 417.97h0.7v0.7h-0.7zM281.29 421.02h0.7v0.7h-0.7zM282.14 423.21h0.7v0.7h-0.7zM273.49 422.77h0.7v0.7h-0.7zM281.49 419.21h0.7v0.7h-0.7zM286.22 420.58h0.7v0.7h-0.7zM280.04 424.32h0.7v0.7h-0.7zM286.25 418.59h0.7v0.7h-0.7zM284.82 416.82h0.7v0.7h-0.7zM279.2 419.14h0.7v0.7h-0.7zM285.43 420.29h0.7v0.7h-0.7zM280.97 416.02h0.7v0.7h-0.7zM277.45 424.59h0.7v0.7h-0.7zM285.44 417.7h0.7v0.7h-0.7zM288.64 421.55h0.7v0.7h-0.7zM282.39 418.24h0.7v0.7h-0.7zM288.45 420.94h0.7v0.7h-0.7zM290.38 421.04h0.7v0.7h-0.7zM281.72 418.28h0.7v0.7h-0.7z" fill="#666"/>
</g>
<rect x="271" y="379.8" width="57.1" height="47.7" fill="none" stroke="#6a6a6a" stroke-width="0.8"/>
<line x1="287.5" y1="379.8" x2="287.5" y2="427.5" stroke="#666" stroke-width="1"/>
<line x1="271" y1="412.5" x2="328.1" y2="412.5" stroke="#666" stroke-width="1"/>
<line x1="271.5" y1="379.8" x2="271.5" y2="427.5" stroke="#333" stroke-width="1"/>
<line x1="271" y1="427.5" x2="328.1" y2="427.5" stroke="#444" stroke-width="1"/>
<line x1="271" y1="385.5" x2="272.2" y2="385.5" stroke="#555" stroke-width="1"/>
<line x1="271" y1="390.5" x2="272.2" y2="390.5" stroke="#555" stroke-width="1"/>
<line x1="271" y1="395.5" x2="272.2" y2="395.5" stroke="#555" stroke-width="1"/>
<line x1="271" y1="401.5" x2="272.2" y2="401.5" stroke="#555" stroke-width="1"/>
<line x1="271" y1="406.5" x2="272.2" y2="406.5" stroke="#555" stroke-width="1"/>
<line x1="271" y1="411.5" x2="272.2" y2="411.5" stroke="#555" stroke-width="1"/>
<line x1="271" y1="416.5" x2="272.2" y2="416.5" stroke="#555" stroke-width="1"/>
<line x1="271" y1="422.5" x2="272.2" y2="422.5" stroke="#555" stroke-width="1"/>
<text x="323.5" y="395.4" font-size="10" text-anchor="end" fill="#111" stroke="#111" stroke-width="0.2" textLength="28.7" lengthAdjust="spacingAndGlyphs">0.85%</text>
<text x="273.2" y="377.9" font-size="4.2" fill="#333" textLength="37.3" lengthAdjust="spacingAndGlyphs">no stroma e571BM.011</text>
<text x="271" y="432.7" font-size="3.8" text-anchor="middle" fill="#222">10⁰</text>
<text x="285.27" y="432.7" font-size="3.8" text-anchor="middle" fill="#222">10¹</text>
<text x="299.55" y="432.7" font-size="3.8" text-anchor="middle" fill="#222">10²</text>
<text x="313.83" y="432.7" font-size="3.8" text-anchor="middle" fill="#222">10³</text>
<text x="328.1" y="432.7" font-size="3.8" text-anchor="middle" fill="#222">10⁴</text>
<text x="296.69" y="436.1" font-size="3.6" text-anchor="middle" fill="#333">FITC-CD45</text>
<clipPath id="c14"><rect x="330.8" y="379.8" width="57.9" height="47.7"/></clipPath>
<rect x="330.8" y="379.8" width="57.9" height="47.7" fill="#fff"/>
<g clip-path="url(#c14)">
<ellipse cx="334.85" cy="424.9" rx="8.55" ry="6.5" transform="rotate(0 334.85 424.9)" fill="#555" opacity="0.35"/>
<ellipse cx="333.05" cy="426.2" rx="7.2" ry="5.2" transform="rotate(0 333.05 426.2)" fill="#000" opacity="1"/>
<path d="M333.42 424.88h0.7v0.7h-0.7zM337.2 425.76h0.7v0.7h-0.7zM337.98 421.63h0.7v0.7h-0.7zM335.39 421.9h0.7v0.7h-0.7zM338.11 420.97h0.7v0.7h-0.7zM333.91 422.11h0.7v0.7h-0.7zM333.76 423.61h0.7v0.7h-0.7zM342.17 423.61h0.7v0.7h-0.7zM339.15 425.63h0.7v0.7h-0.7zM340.58 424.48h0.7v0.7h-0.7zM341 420.91h0.7v0.7h-0.7zM335.53 422.09h0.7v0.7h-0.7zM340.13 424.02h0.7v0.7h-0.7zM336.77 424.22h0.7v0.7h-0.7zM336.91 423.8h0.7v0.7h-0.7zM332.35 423.53h0.7v0.7h-0.7zM336.64 422.01h0.7v0.7h-0.7zM335.1 424.3h0.7v0.7h-0.7zM336.58 422.44h0.7v0.7h-0.7zM336.07 424.27h0.7v0.7h-0.7zM336.71 420.57h0.7v0.7h-0.7zM334.86 422.71h0.7v0.7h-0.7zM330.87 423.48h0.7v0.7h-0.7zM335.84 422.54h0.7v0.7h-0.7zM334.82 426.46h0.7v0.7h-0.7zM339.29 425.61h0.7v0.7h-0.7zM335.52 420.86h0.7v0.7h-0.7zM341.22 427.15h0.7v0.7h-0.7zM337.29 425.19h0.7v0.7h-0.7zM336.15 427.38h0.7v0.7h-0.7zM339.26 423.45h0.7v0.7h-0.7zM336.2 420.24h0.7v0.7h-0.7zM333.32 423.5h0.7v0.7h-0.7zM345.84 422.22h0.7v0.7h-0.7zM339.81 424.44h0.7v0.7h-0.7zM335.04 425.81h0.7v0.7h-0.7zM343.81 424.99h0.7v0.7h-0.7zM335.96 424.65h0.7v0.7h-0.7zM338.81 423.03h0.7v0.7h-0.7zM336.68 425.51h0.7v0.7h-0.7zM334.83 425.22h0.7v0.7h-0.7zM337.51 426.03h0.7v0.7h-0.7zM332.32 422.91h0.7v0.7h-0.7zM334.52 427.24h0.7v0.7h-0.7zM337.18 420.13h0.7v0.7h-0.7zM337.53 421.02h0.7v0.7h-0.7zM332.62 424.61h0.7v0.7h-0.7zM334.77 423.5h0.7v0.7h-0.7zM343.75 421.8h0.7v0.7h-0.7zM342.35 425.1h0.7v0.7h-0.7zM336.57 427.46h0.7v0.7h-0.7zM338.1 422.16h0.7v0.7h-0.7zM339.33 424.78h0.7v0.7h-0.7zM337.9 425.25h0.7v0.7h-0.7zM333.73 423.97h0.7v0.7h-0.7zM336.71 423.13h0.7v0.7h-0.7zM338.19 425.55h0.7v0.7h-0.7zM336.63 421.33h0.7v0.7h-0.7zM339.55 423.27h0.7v0.7h-0.7zM338.3 423.15h0.7v0.7h-0.7zM337.22 419.97h0.7v0.7h-0.7zM334.7 423.54h0.7v0.7h-0.7zM338.02 423.94h0.7v0.7h-0.7zM337.56 420.17h0.7v0.7h-0.7zM345.28 425.88h0.7v0.7h-0.7zM334.59 427.35h0.7v0.7h-0.7zM340.84 424.73h0.7v0.7h-0.7zM343.25 426.71h0.7v0.7h-0.7zM334.32 421.79h0.7v0.7h-0.7zM345.88 423.24h0.7v0.7h-0.7zM337.82 423.96h0.7v0.7h-0.7zM334.34 420.23h0.7v0.7h-0.7z" fill="#222"/>
<path d="M350.79 410.73h0.7v0.7h-0.7zM359.06 403.54h0.7v0.7h-0.7zM339.08 418.13h0.7v0.7h-0.7zM351.92 410.52h0.7v0.7h-0.7zM357.21 405.23h0.7v0.7h-0.7zM356.26 406.94h0.7v0.7h-0.7zM364.87 399.84h0.7v0.7h-0.7zM353.61 409.78h0.7v0.7h-0.7zM360.51 401.67h0.7v0.7h-0.7zM348.13 412.52h0.7v0.7h-0.7zM336.85 424.23h0.7v0.7h-0.7zM360.23 403.61h0.7v0.7h-0.7zM378.89 391.32h0.7v0.7h-0.7zM368.88 399.69h0.7v0.7h-0.7zM357.67 402.97h0.7v0.7h-0.7zM364.1 401.32h0.7v0.7h-0.7zM342.9 417.21h0.7v0.7h-0.7zM358.65 406.61h0.7v0.7h-0.7zM352.88 408.36h0.7v0.7h-0.7zM357.18 404.56h0.7v0.7h-0.7zM352.09 411.33h0.7v0.7h-0.7zM341.32 419.03h0.7v0.7h-0.7zM336.19 420.65h0.7v0.7h-0.7zM342.5 417.26h0.7v0.7h-0.7zM357.43 405.67h0.7v0.7h-0.7zM359.08 404.65h0.7v0.7h-0.7zM350.87 411.79h0.7v0.7h-0.7zM350.3 411.58h0.7v0.7h-0.7zM359.46 403.12h0.7v0.7h-0.7zM359.83 401.85h0.7v0.7h-0.7zM348.78 409.33h0.7v0.7h-0.7zM349.36 414.98h0.7v0.7h-0.7zM355.86 409.31h0.7v0.7h-0.7zM339.85 417.64h0.7v0.7h-0.7zM356.31 408.15h0.7v0.7h-0.7zM356.92 403.09h0.7v0.7h-0.7zM355.85 406.86h0.7v0.7h-0.7zM353.35 409.82h0.7v0.7h-0.7zM348.35 409.75h0.7v0.7h-0.7zM342.53 414.75h0.7v0.7h-0.7zM341.8 417.72h0.7v0.7h-0.7zM361.38 401.36h0.7v0.7h-0.7zM345.13 413.26h0.7v0.7h-0.7zM338.82 420.42h0.7v0.7h-0.7zM348.07 412.63h0.7v0.7h-0.7zM345.07 416.31h0.7v0.7h-0.7zM343.28 417.82h0.7v0.7h-0.7zM347.63 414.86h0.7v0.7h-0.7zM345.59 415.82h0.7v0.7h-0.7zM355.31 407.27h0.7v0.7h-0.7z" fill="#777"/>
</g>
<rect x="330.8" y="379.8" width="57.9" height="47.7" fill="none" stroke="#6a6a6a" stroke-width="0.8"/>
<line x1="348.5" y1="379.8" x2="348.5" y2="427.5" stroke="#666" stroke-width="1"/>
<line x1="330.8" y1="412.5" x2="388.7" y2="412.5" stroke="#666" stroke-width="1"/>
<line x1="330.5" y1="379.8" x2="330.5" y2="427.5" stroke="#333" stroke-width="1"/>
<line x1="330.8" y1="427.5" x2="388.7" y2="427.5" stroke="#444" stroke-width="1"/>
<line x1="330.8" y1="385.5" x2="332" y2="385.5" stroke="#555" stroke-width="1"/>
<line x1="330.8" y1="390.5" x2="332" y2="390.5" stroke="#555" stroke-width="1"/>
<line x1="330.8" y1="395.5" x2="332" y2="395.5" stroke="#555" stroke-width="1"/>
<line x1="330.8" y1="401.5" x2="332" y2="401.5" stroke="#555" stroke-width="1"/>
<line x1="330.8" y1="406.5" x2="332" y2="406.5" stroke="#555" stroke-width="1"/>
<line x1="330.8" y1="411.5" x2="332" y2="411.5" stroke="#555" stroke-width="1"/>
<line x1="330.8" y1="416.5" x2="332" y2="416.5" stroke="#555" stroke-width="1"/>
<line x1="330.8" y1="422.5" x2="332" y2="422.5" stroke="#555" stroke-width="1"/>
<text x="378.2" y="395.4" font-size="10" text-anchor="end" fill="#111" stroke="#111" stroke-width="0.2" textLength="28.4" lengthAdjust="spacingAndGlyphs">1.89%</text>
<text x="330.5" y="377.9" font-size="4.2" fill="#333" textLength="49.2" lengthAdjust="spacingAndGlyphs">no stroma e571 spleen.012</text>
<text x="330.8" y="432.7" font-size="3.8" text-anchor="middle" fill="#222">10⁰</text>
<text x="345.27" y="432.7" font-size="3.8" text-anchor="middle" fill="#222">10¹</text>
<text x="359.75" y="432.7" font-size="3.8" text-anchor="middle" fill="#222">10²</text>
<text x="374.23" y="432.7" font-size="3.8" text-anchor="middle" fill="#222">10³</text>
<text x="388.7" y="432.7" font-size="3.8" text-anchor="middle" fill="#222">10⁴</text>
<text x="356.86" y="436.1" font-size="3.6" text-anchor="middle" fill="#333">FITC-CD45</text>
<clipPath id="c15"><rect x="392.1" y="379.8" width="52.5" height="47.7"/></clipPath>
<rect x="392.1" y="379.8" width="52.5" height="47.7" fill="#fff"/>
<g clip-path="url(#c15)">
<ellipse cx="396.15" cy="424.9" rx="8.55" ry="6.5" transform="rotate(0 396.15 424.9)" fill="#555" opacity="0.35"/>
<ellipse cx="394.35" cy="426.2" rx="7.2" ry="5.2" transform="rotate(0 394.35 426.2)" fill="#000" opacity="1"/>
<path d="M403.94 424.69h0.7v0.7h-0.7zM394 425.99h0.7v0.7h-0.7zM394.25 422.89h0.7v0.7h-0.7zM397.55 424.71h0.7v0.7h-0.7zM404.22 419.87h0.7v0.7h-0.7zM396.49 427.09h0.7v0.7h-0.7zM396.87 425.06h0.7v0.7h-0.7zM403.52 421.16h0.7v0.7h-0.7zM397.67 426.24h0.7v0.7h-0.7zM395.19 419.85h0.7v0.7h-0.7zM393.56 424.74h0.7v0.7h-0.7zM402.74 420.37h0.7v0.7h-0.7zM401.59 426.55h0.7v0.7h-0.7zM403.89 423.87h0.7v0.7h-0.7zM395.31 424.62h0.7v0.7h-0.7zM403.6 425.82h0.7v0.7h-0.7zM404.19 426.23h0.7v0.7h-0.7zM395.18 421.71h0.7v0.7h-0.7zM404.81 420.45h0.7v0.7h-0.7zM396.12 423.45h0.7v0.7h-0.7zM393.91 422.81h0.7v0.7h-0.7zM397.24 422.94h0.7v0.7h-0.7zM397.99 426.61h0.7v0.7h-0.7zM394.28 423.23h0.7v0.7h-0.7zM400.94 423.56h0.7v0.7h-0.7zM395.96 423.47h0.7v0.7h-0.7zM392.71 426.19h0.7v0.7h-0.7zM395.1 422.43h0.7v0.7h-0.7zM399.54 424.53h0.7v0.7h-0.7zM395.2 423.66h0.7v0.7h-0.7zM401.46 422.42h0.7v0.7h-0.7zM399.26 425.93h0.7v0.7h-0.7zM398.84 425.72h0.7v0.7h-0.7zM399.4 425.58h0.7v0.7h-0.7zM395.49 426.52h0.7v0.7h-0.7zM397.75 421.61h0.7v0.7h-0.7zM393.48 424.66h0.7v0.7h-0.7zM398.83 418.7h0.7v0.7h-0.7zM395.13 425.65h0.7v0.7h-0.7zM393.51 427.36h0.7v0.7h-0.7zM392.7 425.03h0.7v0.7h-0.7zM398.18 425.81h0.7v0.7h-0.7zM397.23 424.2h0.7v0.7h-0.7zM396.45 421.56h0.7v0.7h-0.7zM400.35 425.1h0.7v0.7h-0.7zM394.07 423.53h0.7v0.7h-0.7zM397.53 426.41h0.7v0.7h-0.7zM396.8 426.6h0.7v0.7h-0.7zM399.31 419.82h0.7v0.7h-0.7zM394.8 419.13h0.7v0.7h-0.7zM396.37 423.2h0.7v0.7h-0.7zM399.83 424.68h0.7v0.7h-0.7zM397.25 427.43h0.7v0.7h-0.7zM399.85 421.15h0.7v0.7h-0.7zM394.77 425.08h0.7v0.7h-0.7zM404.23 423.75h0.7v0.7h-0.7zM396.83 424.92h0.7v0.7h-0.7zM400.6 424.02h0.7v0.7h-0.7zM398.67 423.19h0.7v0.7h-0.7zM395.32 422.25h0.7v0.7h-0.7zM400.11 422.85h0.7v0.7h-0.7zM399.67 425.27h0.7v0.7h-0.7zM401.35 417.48h0.7v0.7h-0.7zM393.68 421.17h0.7v0.7h-0.7zM396.85 426.28h0.7v0.7h-0.7zM402.87 425.21h0.7v0.7h-0.7zM395.97 425.6h0.7v0.7h-0.7zM397.53 425.81h0.7v0.7h-0.7zM393.43 421.49h0.7v0.7h-0.7zM394.96 424.14h0.7v0.7h-0.7zM398.88 423.35h0.7v0.7h-0.7zM398.88 425.97h0.7v0.7h-0.7zM392.91 423.99h0.7v0.7h-0.7zM401.08 422.44h0.7v0.7h-0.7zM404.87 425.53h0.7v0.7h-0.7zM401.02 424.51h0.7v0.7h-0.7zM400.92 427.01h0.7v0.7h-0.7zM397.92 422.91h0.7v0.7h-0.7zM396.78 423.09h0.7v0.7h-0.7zM394.7 419.99h0.7v0.7h-0.7zM395.52 425.07h0.7v0.7h-0.7z" fill="#222"/>
<path d="M416.1 400.53h0.7v0.7h-0.7zM419.6 402.89h0.7v0.7h-0.7zM416.3 402.6h0.7v0.7h-0.7zM414.2 403.67h0.7v0.7h-0.7zM414.15 401.35h0.7v0.7h-0.7zM418.53 401.18h0.7v0.7h-0.7zM413.53 406.08h0.7v0.7h-0.7zM423.93 398.61h0.7v0.7h-0.7zM418.47 399.53h0.7v0.7h-0.7zM419.22 399.46h0.7v0.7h-0.7zM420.27 403.03h0.7v0.7h-0.7zM424.68 404.34h0.7v0.7h-0.7zM416.21 403.84h0.7v0.7h-0.7zM416.21 401.78h0.7v0.7h-0.7zM416.05 398.57h0.7v0.7h-0.7zM420.36 398.05h0.7v0.7h-0.7zM417.08 403.02h0.7v0.7h-0.7zM418.45 398.93h0.7v0.7h-0.7zM415.46 403.32h0.7v0.7h-0.7zM422.3 405.11h0.7v0.7h-0.7zM410.91 402.9h0.7v0.7h-0.7zM416.12 403.49h0.7v0.7h-0.7zM411.4 401.72h0.7v0.7h-0.7zM420.77 400.75h0.7v0.7h-0.7zM416.58 400.09h0.7v0.7h-0.7zM422.36 399.42h0.7v0.7h-0.7zM414.43 401.35h0.7v0.7h-0.7zM416.76 406.11h0.7v0.7h-0.7zM419.07 400.38h0.7v0.7h-0.7zM420.27 402.67h0.7v0.7h-0.7z" fill="#888"/>
<path d="M406.13 417.2h0.7v0.7h-0.7zM405.81 414.89h0.7v0.7h-0.7zM399.5 420.22h0.7v0.7h-0.7zM401.01 421.88h0.7v0.7h-0.7zM414.42 415.34h0.7v0.7h-0.7zM407.22 417.48h0.7v0.7h-0.7zM400.84 417.48h0.7v0.7h-0.7zM405.88 414.17h0.7v0.7h-0.7zM406.14 417.02h0.7v0.7h-0.7zM408.23 416.25h0.7v0.7h-0.7zM404.88 416.76h0.7v0.7h-0.7zM397.38 421.63h0.7v0.7h-0.7zM408.96 418.06h0.7v0.7h-0.7zM409.86 412.96h0.7v0.7h-0.7zM401.72 421.47h0.7v0.7h-0.7zM405.59 423.44h0.7v0.7h-0.7zM404.85 414.67h0.7v0.7h-0.7zM404.18 422h0.7v0.7h-0.7zM397.43 422.72h0.7v0.7h-0.7zM400.69 424.09h0.7v0.7h-0.7zM402.1 417.35h0.7v0.7h-0.7zM397.08 420.97h0.7v0.7h-0.7zM393.72 423.44h0.7v0.7h-0.7zM414.32 412.84h0.7v0.7h-0.7zM402.75 416.69h0.7v0.7h-0.7zM405.98 416.37h0.7v0.7h-0.7zM402.76 422.4h0.7v0.7h-0.7zM406 415.43h0.7v0.7h-0.7zM411.21 414.29h0.7v0.7h-0.7zM407.27 417.02h0.7v0.7h-0.7z" fill="#777"/>
</g>
<rect x="392.1" y="379.8" width="52.5" height="47.7" fill="none" stroke="#6a6a6a" stroke-width="0.8"/>
<line x1="408.5" y1="379.8" x2="408.5" y2="427.5" stroke="#666" stroke-width="1"/>
<line x1="392.1" y1="412.5" x2="444.6" y2="412.5" stroke="#666" stroke-width="1"/>
<line x1="392.5" y1="379.8" x2="392.5" y2="427.5" stroke="#333" stroke-width="1"/>
<line x1="392.1" y1="427.5" x2="444.6" y2="427.5" stroke="#444" stroke-width="1"/>
<line x1="392.1" y1="385.5" x2="393.3" y2="385.5" stroke="#555" stroke-width="1"/>
<line x1="392.1" y1="390.5" x2="393.3" y2="390.5" stroke="#555" stroke-width="1"/>
<line x1="392.1" y1="395.5" x2="393.3" y2="395.5" stroke="#555" stroke-width="1"/>
<line x1="392.1" y1="401.5" x2="393.3" y2="401.5" stroke="#555" stroke-width="1"/>
<line x1="392.1" y1="406.5" x2="393.3" y2="406.5" stroke="#555" stroke-width="1"/>
<line x1="392.1" y1="411.5" x2="393.3" y2="411.5" stroke="#555" stroke-width="1"/>
<line x1="392.1" y1="416.5" x2="393.3" y2="416.5" stroke="#555" stroke-width="1"/>
<line x1="392.1" y1="422.5" x2="393.3" y2="422.5" stroke="#555" stroke-width="1"/>
<text x="439" y="395.4" font-size="10" text-anchor="end" fill="#111" stroke="#111" stroke-width="0.2" textLength="29.2" lengthAdjust="spacingAndGlyphs">1.72%</text>
<text x="395" y="377.9" font-size="4.2" fill="#333" textLength="36" lengthAdjust="spacingAndGlyphs">stroma e571BM.014</text>
<text x="392.1" y="432.7" font-size="3.8" text-anchor="middle" fill="#222">10⁰</text>
<text x="405.23" y="432.7" font-size="3.8" text-anchor="middle" fill="#222">10¹</text>
<text x="418.35" y="432.7" font-size="3.8" text-anchor="middle" fill="#222">10²</text>
<text x="431.48" y="432.7" font-size="3.8" text-anchor="middle" fill="#222">10³</text>
<text x="444.6" y="432.7" font-size="3.8" text-anchor="middle" fill="#222">10⁴</text>
<text x="415.73" y="436.1" font-size="3.6" text-anchor="middle" fill="#333">FITC-CD45</text>
<clipPath id="c16"><rect x="452.2" y="379.8" width="57" height="47.7"/></clipPath>
<rect x="452.2" y="379.8" width="57" height="47.7" fill="#fff"/>
<g clip-path="url(#c16)">
<ellipse cx="456.25" cy="424.9" rx="8.55" ry="6.5" transform="rotate(0 456.25 424.9)" fill="#555" opacity="0.35"/>
<ellipse cx="454.45" cy="426.2" rx="7.2" ry="5.2" transform="rotate(0 454.45 426.2)" fill="#000" opacity="1"/>
<path d="M462.27 425.81h0.7v0.7h-0.7zM456.22 426.07h0.7v0.7h-0.7zM456.05 424.59h0.7v0.7h-0.7zM464.1 421.56h0.7v0.7h-0.7zM453.5 423.23h0.7v0.7h-0.7zM463.88 423.11h0.7v0.7h-0.7zM458.34 423.34h0.7v0.7h-0.7zM460.26 425.93h0.7v0.7h-0.7zM460.58 426.19h0.7v0.7h-0.7zM465.25 423.82h0.7v0.7h-0.7zM460.37 423.78h0.7v0.7h-0.7zM457.76 424.81h0.7v0.7h-0.7zM457.4 425.13h0.7v0.7h-0.7zM454.23 423.86h0.7v0.7h-0.7zM455.2 421.29h0.7v0.7h-0.7zM454.8 422.99h0.7v0.7h-0.7zM457.01 420.29h0.7v0.7h-0.7zM456.58 421.39h0.7v0.7h-0.7zM454.36 424.73h0.7v0.7h-0.7zM461.99 424.98h0.7v0.7h-0.7zM455.66 423.14h0.7v0.7h-0.7zM462.91 420.13h0.7v0.7h-0.7zM462.12 420.44h0.7v0.7h-0.7zM455.09 424.37h0.7v0.7h-0.7zM459.56 424.13h0.7v0.7h-0.7zM461.38 424.35h0.7v0.7h-0.7zM454.41 427.1h0.7v0.7h-0.7zM463.54 427.5h0.7v0.7h-0.7zM455.95 426.2h0.7v0.7h-0.7zM462.28 425.51h0.7v0.7h-0.7zM456.36 416.82h0.7v0.7h-0.7zM459.35 423.78h0.7v0.7h-0.7zM457.58 424.84h0.7v0.7h-0.7zM460.59 423.58h0.7v0.7h-0.7zM454.04 423.34h0.7v0.7h-0.7zM465.43 422.51h0.7v0.7h-0.7zM461.78 424.56h0.7v0.7h-0.7zM460.52 423.56h0.7v0.7h-0.7zM454.01 426.79h0.7v0.7h-0.7zM456.56 423.3h0.7v0.7h-0.7zM458.97 423.77h0.7v0.7h-0.7zM456.36 421.98h0.7v0.7h-0.7zM458.61 425.07h0.7v0.7h-0.7zM464.86 424.18h0.7v0.7h-0.7zM466.69 423.13h0.7v0.7h-0.7zM454.42 423.83h0.7v0.7h-0.7zM456.85 420.41h0.7v0.7h-0.7zM459.89 422.03h0.7v0.7h-0.7zM462.57 424.75h0.7v0.7h-0.7zM455.57 423.59h0.7v0.7h-0.7zM461.44 422.93h0.7v0.7h-0.7zM459.25 426.71h0.7v0.7h-0.7zM454 422.75h0.7v0.7h-0.7zM459.38 424.27h0.7v0.7h-0.7zM457.11 422.9h0.7v0.7h-0.7zM463 420.15h0.7v0.7h-0.7zM457.79 424.49h0.7v0.7h-0.7zM457.75 420.74h0.7v0.7h-0.7zM457.08 424.63h0.7v0.7h-0.7zM454.89 425.05h0.7v0.7h-0.7zM458 425.24h0.7v0.7h-0.7zM456.94 423.08h0.7v0.7h-0.7zM458.34 427.01h0.7v0.7h-0.7zM461.17 424.05h0.7v0.7h-0.7zM455.75 426.95h0.7v0.7h-0.7zM459.75 426.5h0.7v0.7h-0.7zM456.5 422.06h0.7v0.7h-0.7zM458.34 422.66h0.7v0.7h-0.7zM462.17 426.43h0.7v0.7h-0.7zM462.9 426.89h0.7v0.7h-0.7zM455.72 422.06h0.7v0.7h-0.7zM461.46 426.83h0.7v0.7h-0.7zM457.84 421.31h0.7v0.7h-0.7zM454.32 422.52h0.7v0.7h-0.7zM459.37 426.92h0.7v0.7h-0.7zM462.76 424.14h0.7v0.7h-0.7zM456.24 425.88h0.7v0.7h-0.7zM453.07 421.14h0.7v0.7h-0.7zM461.64 424.24h0.7v0.7h-0.7z" fill="#222"/>
<path d="M478.24 406.8h0.7v0.7h-0.7zM458.45 419.9h0.7v0.7h-0.7zM473.12 413.24h0.7v0.7h-0.7zM473.13 411.48h0.7v0.7h-0.7zM467.58 417.93h0.7v0.7h-0.7zM468.3 412.64h0.7v0.7h-0.7zM481.08 404.13h0.7v0.7h-0.7zM473.34 411.4h0.7v0.7h-0.7zM479.2 407.28h0.7v0.7h-0.7zM480.63 406.09h0.7v0.7h-0.7zM465.62 416.47h0.7v0.7h-0.7zM474.79 408.71h0.7v0.7h-0.7zM477.68 407.55h0.7v0.7h-0.7zM461.31 419.16h0.7v0.7h-0.7zM470.37 417.01h0.7v0.7h-0.7zM476.58 408.89h0.7v0.7h-0.7zM464.02 422.23h0.7v0.7h-0.7zM467.63 415.85h0.7v0.7h-0.7zM467.6 418.36h0.7v0.7h-0.7zM471.09 412.29h0.7v0.7h-0.7zM470.67 411.61h0.7v0.7h-0.7zM460.89 420.81h0.7v0.7h-0.7zM485.92 399.49h0.7v0.7h-0.7zM467.37 413.11h0.7v0.7h-0.7zM471.66 413.1h0.7v0.7h-0.7zM475.1 407.53h0.7v0.7h-0.7zM464.3 417.25h0.7v0.7h-0.7zM469.97 418.28h0.7v0.7h-0.7zM468.27 415.28h0.7v0.7h-0.7zM466.4 418.3h0.7v0.7h-0.7zM492.88 398.29h0.7v0.7h-0.7zM482.08 402.56h0.7v0.7h-0.7zM479.03 406.99h0.7v0.7h-0.7zM481.61 406.9h0.7v0.7h-0.7zM474.06 407.7h0.7v0.7h-0.7zM470.69 412.53h0.7v0.7h-0.7zM473.85 411.06h0.7v0.7h-0.7zM477.48 405.16h0.7v0.7h-0.7zM463.63 418.84h0.7v0.7h-0.7zM472.37 411.4h0.7v0.7h-0.7zM469.81 414.25h0.7v0.7h-0.7zM478.82 406.9h0.7v0.7h-0.7zM470.42 410.28h0.7v0.7h-0.7zM470.95 408.95h0.7v0.7h-0.7zM473.41 411.16h0.7v0.7h-0.7zM469.36 413.13h0.7v0.7h-0.7zM467.17 417.76h0.7v0.7h-0.7zM473.03 411.59h0.7v0.7h-0.7zM466.03 417.5h0.7v0.7h-0.7zM480.13 406.05h0.7v0.7h-0.7zM465.8 415.08h0.7v0.7h-0.7zM470.01 412.27h0.7v0.7h-0.7zM458.54 424.58h0.7v0.7h-0.7zM462.84 415.79h0.7v0.7h-0.7zM465.55 420.92h0.7v0.7h-0.7zM467.89 413.17h0.7v0.7h-0.7zM461.25 422.18h0.7v0.7h-0.7zM473.66 411.54h0.7v0.7h-0.7zM468.77 415.87h0.7v0.7h-0.7zM483.57 404.31h0.7v0.7h-0.7zM467.33 413.47h0.7v0.7h-0.7zM475.21 412.86h0.7v0.7h-0.7zM474.38 408.22h0.7v0.7h-0.7zM472.76 414.27h0.7v0.7h-0.7zM465.03 418.81h0.7v0.7h-0.7zM481.8 407.84h0.7v0.7h-0.7zM454.85 422.57h0.7v0.7h-0.7zM473.83 412.32h0.7v0.7h-0.7z" fill="#666"/>
</g>
<rect x="452.2" y="379.8" width="57" height="47.7" fill="none" stroke="#6a6a6a" stroke-width="0.8"/>
<line x1="468.5" y1="379.8" x2="468.5" y2="427.5" stroke="#666" stroke-width="1"/>
<line x1="452.2" y1="412.5" x2="509.2" y2="412.5" stroke="#666" stroke-width="1"/>
<line x1="452.5" y1="379.8" x2="452.5" y2="427.5" stroke="#333" stroke-width="1"/>
<line x1="452.2" y1="427.5" x2="509.2" y2="427.5" stroke="#444" stroke-width="1"/>
<line x1="452.2" y1="385.5" x2="453.4" y2="385.5" stroke="#555" stroke-width="1"/>
<line x1="452.2" y1="390.5" x2="453.4" y2="390.5" stroke="#555" stroke-width="1"/>
<line x1="452.2" y1="395.5" x2="453.4" y2="395.5" stroke="#555" stroke-width="1"/>
<line x1="452.2" y1="401.5" x2="453.4" y2="401.5" stroke="#555" stroke-width="1"/>
<line x1="452.2" y1="406.5" x2="453.4" y2="406.5" stroke="#555" stroke-width="1"/>
<line x1="452.2" y1="411.5" x2="453.4" y2="411.5" stroke="#555" stroke-width="1"/>
<line x1="452.2" y1="416.5" x2="453.4" y2="416.5" stroke="#555" stroke-width="1"/>
<line x1="452.2" y1="422.5" x2="453.4" y2="422.5" stroke="#555" stroke-width="1"/>
<text x="504.7" y="395.4" font-size="10" text-anchor="end" fill="#111" stroke="#111" stroke-width="0.2" textLength="28.7" lengthAdjust="spacingAndGlyphs">2.59%</text>
<text x="454" y="377.9" font-size="4.2" fill="#333" textLength="46" lengthAdjust="spacingAndGlyphs">stroma e571 spleen.015</text>
<text x="452.2" y="432.7" font-size="3.8" text-anchor="middle" fill="#222">10⁰</text>
<text x="466.45" y="432.7" font-size="3.8" text-anchor="middle" fill="#222">10¹</text>
<text x="480.7" y="432.7" font-size="3.8" text-anchor="middle" fill="#222">10²</text>
<text x="494.95" y="432.7" font-size="3.8" text-anchor="middle" fill="#222">10³</text>
<text x="509.2" y="432.7" font-size="3.8" text-anchor="middle" fill="#222">10⁴</text>
<text x="477.85" y="436.1" font-size="3.6" text-anchor="middle" fill="#333">FITC-CD45</text>
<line x1="16" y1="442.4" x2="16" y2="387" stroke="#111" stroke-width="2"/>
<path d="M16.4 381.5 L13.3 388.5 L19.5 388.5 Z" fill="#111"/>
<line x1="15.5" y1="442" x2="494" y2="442" stroke="#111" stroke-width="2"/>
<path d="M500 441.5 L492.5 438.3 L492.5 444.7 Z" fill="#111"/>
<text x="11.7" y="413" font-size="9.6" text-anchor="middle" transform="rotate(-90 11.7 413)" fill="#111" stroke="#111" stroke-width="0.25">CD33</text>
<text x="278" y="454.4" font-size="10" text-anchor="middle" fill="#111" stroke="#111" stroke-width="0.25">Human CD45</text>
<text x="0.2" y="118.8" font-size="12.5" font-weight="bold" fill="#111" stroke="#111" stroke-width="0.4">B</text>
<text x="10.5" y="168.2" font-size="10.2" fill="#111" stroke="#111" stroke-width="0.45">No IM</text>
<text x="16.9" y="269.6" font-size="10.2" fill="#111" stroke="#111" stroke-width="0.45">IM</text>
<line x1="79.5" y1="191.8" x2="79.5" y2="191" stroke="#111" stroke-width="1"/>
<line x1="76.59" y1="191.5" x2="82.21" y2="191.5" stroke="#111" stroke-width="1"/>
<rect x="74.2" y="191.8" width="10.4" height="5.1" fill="#303030" stroke="#111" stroke-width="1.25"/>
<line x1="94.5" y1="189.4" x2="94.5" y2="188.6" stroke="#111" stroke-width="1"/>
<line x1="91.41" y1="188.5" x2="96.59" y2="188.5" stroke="#111" stroke-width="1"/>
<rect x="89.2" y="189.4" width="9.6" height="7.5" fill="#a8a8a8" stroke="#111" stroke-width="1.25"/>
<line x1="118.5" y1="170" x2="118.5" y2="167.2" stroke="#111" stroke-width="1"/>
<line x1="115.49" y1="167.5" x2="121.11" y2="167.5" stroke="#111" stroke-width="1"/>
<rect x="113.1" y="170" width="10.4" height="26.9" fill="#303030" stroke="#111" stroke-width="1.25"/>
<line x1="132.5" y1="145.4" x2="132.5" y2="138.4" stroke="#111" stroke-width="1"/>
<line x1="129.79" y1="138.5" x2="135.41" y2="138.5" stroke="#111" stroke-width="1"/>
<rect x="127.4" y="145.4" width="10.4" height="51.5" fill="#a8a8a8" stroke="#111" stroke-width="1.25"/>
<rect x="151.5" y="194.2" width="10.8" height="2.7" fill="#303030" stroke="#111" stroke-width="1.25"/>
<line x1="171.5" y1="191.8" x2="171.5" y2="191.2" stroke="#111" stroke-width="1"/>
<line x1="168.66" y1="191.5" x2="174.44" y2="191.5" stroke="#111" stroke-width="1"/>
<rect x="166.2" y="191.8" width="10.7" height="5.1" fill="#a8a8a8" stroke="#111" stroke-width="1.25"/>
<line x1="67.2" y1="196.5" x2="183.8" y2="196.5" stroke="#111" stroke-width="1"/>
<line x1="67.5" y1="197.4" x2="67.5" y2="119.4" stroke="#111" stroke-width="1"/>
<line x1="86.5" y1="196.9" x2="86.5" y2="198.7" stroke="#111" stroke-width="1"/>
<line x1="125.5" y1="196.9" x2="125.5" y2="198.7" stroke="#111" stroke-width="1"/>
<line x1="164.5" y1="196.9" x2="164.5" y2="198.7" stroke="#111" stroke-width="1"/>
<line x1="64.8" y1="196.5" x2="67.2" y2="196.5" stroke="#111" stroke-width="1"/>
<text x="64.5" y="198.8" font-size="5.5" font-weight="bold" text-anchor="end" fill="#111" stroke="#111" stroke-width="0.22">0</text>
<line x1="64.8" y1="177.5" x2="67.2" y2="177.5" stroke="#111" stroke-width="1"/>
<text x="64.5" y="179.43" font-size="5.5" font-weight="bold" text-anchor="end" fill="#111" stroke="#111" stroke-width="0.22">20</text>
<line x1="64.8" y1="158.5" x2="67.2" y2="158.5" stroke="#111" stroke-width="1"/>
<text x="64.5" y="160.05" font-size="5.5" font-weight="bold" text-anchor="end" fill="#111" stroke="#111" stroke-width="0.22">40</text>
<line x1="64.8" y1="138.5" x2="67.2" y2="138.5" stroke="#111" stroke-width="1"/>
<text x="64.5" y="140.68" font-size="5.5" font-weight="bold" text-anchor="end" fill="#111" stroke="#111" stroke-width="0.22">60</text>
<line x1="64.8" y1="119.5" x2="67.2" y2="119.5" stroke="#111" stroke-width="1"/>
<text x="64.5" y="121.3" font-size="5.5" font-weight="bold" text-anchor="end" fill="#111" stroke="#111" stroke-width="0.22">80</text>
<line x1="73" y1="178.5" x2="100.8" y2="178.5" stroke="#111" stroke-width="1"/>
<text x="86.9" y="173.8" font-size="8" text-anchor="middle" fill="#111" stroke="#111" stroke-width="0.22">ns</text>
<line x1="110.4" y1="134.5" x2="137.5" y2="134.5" stroke="#111" stroke-width="1"/>
<text x="123.95" y="135.6" font-size="10.5" font-weight="bold" text-anchor="middle" fill="#111" stroke="#111" stroke-width="0.45">***</text>
<line x1="150.4" y1="185.5" x2="177.9" y2="185.5" stroke="#111" stroke-width="1"/>
<text x="164.15" y="186.1" font-size="10.5" font-weight="bold" text-anchor="middle" fill="#111" stroke="#111" stroke-width="0.45">*</text>
<rect x="73.7" y="113.7" width="9" height="4.7" fill="#303030" stroke="#111" stroke-width="1"/>
<rect x="73.7" y="121.8" width="9" height="4.7" fill="#a8a8a8" stroke="#111" stroke-width="1"/>
<text x="85.3" y="118.6" font-size="6.4" fill="#111" stroke="#111" stroke-width="0.22">No MSC</text>
<text x="85.3" y="126.7" font-size="6.4" fill="#111" stroke="#111" stroke-width="0.22">MSC</text>
<text x="53.5" y="158" font-size="6.3" font-weight="bold" text-anchor="middle" transform="rotate(-90 53.5 158)" fill="#111" stroke="#111" stroke-width="0.22">% of human CD45+ cells</text>
<text x="87.6" y="206.6" font-size="7.4" font-weight="bold" text-anchor="end" transform="rotate(-45 87.6 206.6)" fill="#111" stroke="#111" stroke-width="0.22">PB</text>
<text x="127" y="206.6" font-size="7.4" font-weight="bold" text-anchor="end" transform="rotate(-45 127 206.6)" fill="#111" stroke="#111" stroke-width="0.22">BM</text>
<text x="165.5" y="206.6" font-size="7.4" font-weight="bold" text-anchor="end" transform="rotate(-45 165.5 206.6)" fill="#111" stroke="#111" stroke-width="0.22">Spleen</text>
<line x1="74.5" y1="295.3" x2="74.5" y2="290.4" stroke="#111" stroke-width="1"/>
<line x1="71.72" y1="290.5" x2="77.18" y2="290.5" stroke="#111" stroke-width="1"/>
<rect x="69.4" y="295.3" width="10.1" height="13.2" fill="#303030" stroke="#111" stroke-width="1.25"/>
<line x1="88.5" y1="292.4" x2="88.5" y2="288.5" stroke="#111" stroke-width="1"/>
<line x1="85.47" y1="288.5" x2="91.03" y2="288.5" stroke="#111" stroke-width="1"/>
<rect x="83.1" y="292.4" width="10.3" height="16.1" fill="#a8a8a8" stroke="#111" stroke-width="1.25"/>
<line x1="112.5" y1="282.3" x2="112.5" y2="276.2" stroke="#111" stroke-width="1"/>
<line x1="109.78" y1="276.5" x2="114.91" y2="276.5" stroke="#111" stroke-width="1"/>
<rect x="107.6" y="282.3" width="9.5" height="26.2" fill="#303030" stroke="#111" stroke-width="1.25"/>
<line x1="126.5" y1="255.5" x2="126.5" y2="249.6" stroke="#111" stroke-width="1"/>
<line x1="124.25" y1="249.5" x2="129.55" y2="249.5" stroke="#111" stroke-width="1"/>
<rect x="122" y="255.5" width="9.8" height="53" fill="#a8a8a8" stroke="#111" stroke-width="1.25"/>
<line x1="149.5" y1="293.4" x2="149.5" y2="290.4" stroke="#111" stroke-width="1"/>
<line x1="147.28" y1="290.5" x2="152.62" y2="290.5" stroke="#111" stroke-width="1"/>
<rect x="145" y="293.4" width="9.9" height="15.1" fill="#303030" stroke="#111" stroke-width="1.25"/>
<line x1="164.5" y1="288.3" x2="164.5" y2="285.2" stroke="#111" stroke-width="1"/>
<line x1="161.52" y1="285.5" x2="166.98" y2="285.5" stroke="#111" stroke-width="1"/>
<rect x="159.2" y="288.3" width="10.1" height="20.2" fill="#a8a8a8" stroke="#111" stroke-width="1.25"/>
<line x1="62.4" y1="308.5" x2="175.8" y2="308.5" stroke="#111" stroke-width="1"/>
<line x1="62.5" y1="309" x2="62.5" y2="230.3" stroke="#111" stroke-width="1"/>
<line x1="81.5" y1="308.5" x2="81.5" y2="310.3" stroke="#111" stroke-width="1"/>
<line x1="119.5" y1="308.5" x2="119.5" y2="310.3" stroke="#111" stroke-width="1"/>
<line x1="157.5" y1="308.5" x2="157.5" y2="310.3" stroke="#111" stroke-width="1"/>
<line x1="60" y1="308.5" x2="62.4" y2="308.5" stroke="#111" stroke-width="1"/>
<text x="59.7" y="310.4" font-size="5.5" font-weight="bold" text-anchor="end" fill="#111" stroke="#111" stroke-width="0.22">0</text>
<line x1="60" y1="282.5" x2="62.4" y2="282.5" stroke="#111" stroke-width="1"/>
<text x="59.7" y="284.33" font-size="5.5" font-weight="bold" text-anchor="end" fill="#111" stroke="#111" stroke-width="0.22">5</text>
<line x1="60" y1="256.5" x2="62.4" y2="256.5" stroke="#111" stroke-width="1"/>
<text x="59.7" y="258.27" font-size="5.5" font-weight="bold" text-anchor="end" fill="#111" stroke="#111" stroke-width="0.22">10</text>
<line x1="60" y1="230.5" x2="62.4" y2="230.5" stroke="#111" stroke-width="1"/>
<text x="59.7" y="232.2" font-size="5.5" font-weight="bold" text-anchor="end" fill="#111" stroke="#111" stroke-width="0.22">15</text>
<line x1="68.9" y1="280.5" x2="93.9" y2="280.5" stroke="#111" stroke-width="1"/>
<text x="81.4" y="275.8" font-size="8" text-anchor="middle" fill="#111" stroke="#111" stroke-width="0.22">ns</text>
<line x1="104.6" y1="247.5" x2="132.9" y2="247.5" stroke="#111" stroke-width="1"/>
<text x="118.75" y="247.9" font-size="10.5" font-weight="bold" text-anchor="middle" fill="#111" stroke="#111" stroke-width="0.45">*</text>
<line x1="144" y1="278.5" x2="168.8" y2="278.5" stroke="#111" stroke-width="1"/>
<text x="156.4" y="279.4" font-size="10.5" font-weight="bold" text-anchor="middle" fill="#111" stroke="#111" stroke-width="0.45">*</text>
<rect x="70.2" y="225.1" width="9" height="4.9" fill="#303030" stroke="#111" stroke-width="1"/>
<rect x="70.2" y="234.3" width="9" height="4.9" fill="#a8a8a8" stroke="#111" stroke-width="1"/>
<text x="81.8" y="230.2" font-size="6.4" fill="#111" stroke="#111" stroke-width="0.22">No MSC</text>
<text x="81.8" y="239.4" font-size="6.4" fill="#111" stroke="#111" stroke-width="0.22">MSC</text>
<text x="48.1" y="267" font-size="6.3" font-weight="bold" text-anchor="middle" transform="rotate(-90 48.1 267)" fill="#111" stroke="#111" stroke-width="0.22">% of human CD45+ cells</text>
<text x="82.4" y="317.7" font-size="6.5" font-weight="bold" text-anchor="end" transform="rotate(-45 82.4 317.7)" fill="#111" stroke="#111" stroke-width="0.22">PB</text>
<text x="121.6" y="317.7" font-size="6.5" font-weight="bold" text-anchor="end" transform="rotate(-45 121.6 317.7)" fill="#111" stroke="#111" stroke-width="0.22">BM</text>
<text x="158.6" y="317.7" font-size="6.5" font-weight="bold" text-anchor="end" transform="rotate(-45 158.6 317.7)" fill="#111" stroke="#111" stroke-width="0.22">Spleen</text>
<line x1="222.5" y1="167.67" x2="222.5" y2="164.55" stroke="#111" stroke-width="1"/>
<line x1="221.46" y1="164.5" x2="223.94" y2="164.5" stroke="#111" stroke-width="1"/>
<rect x="220.4" y="167.67" width="4.6" height="24.03" fill="#303030" stroke="#111" stroke-width="0.8"/>
<line x1="228.5" y1="144.17" x2="228.5" y2="137.41" stroke="#111" stroke-width="1"/>
<line x1="227.26" y1="137.5" x2="229.74" y2="137.5" stroke="#111" stroke-width="1"/>
<rect x="226.2" y="144.17" width="4.6" height="47.53" fill="#a8a8a8" stroke="#111" stroke-width="0.8"/>
<line x1="238.5" y1="189.47" x2="238.5" y2="189.03" stroke="#111" stroke-width="1"/>
<line x1="237.31" y1="189.5" x2="239.79" y2="189.5" stroke="#111" stroke-width="1"/>
<rect x="236.25" y="189.47" width="4.6" height="2.22" fill="#303030" stroke="#111" stroke-width="0.8"/>
<rect x="242.05" y="189.03" width="4.6" height="2.67" fill="#a8a8a8" stroke="#111" stroke-width="0.8"/>
<rect x="252.1" y="190.81" width="4.6" height="0.89" fill="#303030" stroke="#111" stroke-width="0.8"/>
<rect x="257.9" y="191" width="4.6" height="0.7" fill="#a8a8a8" stroke="#111" stroke-width="0.8"/>
<rect x="267.95" y="191" width="4.6" height="0.7" fill="#303030" stroke="#111" stroke-width="0.8"/>
<rect x="273.75" y="191" width="4.6" height="0.7" fill="#a8a8a8" stroke="#111" stroke-width="0.8"/>
<line x1="286.5" y1="173.01" x2="286.5" y2="169.98" stroke="#111" stroke-width="1"/>
<line x1="284.86" y1="169.5" x2="287.34" y2="169.5" stroke="#111" stroke-width="1"/>
<rect x="283.8" y="173.01" width="4.6" height="18.69" fill="#303030" stroke="#111" stroke-width="0.8"/>
<line x1="291.5" y1="156.1" x2="291.5" y2="151.29" stroke="#111" stroke-width="1"/>
<line x1="290.66" y1="151.5" x2="293.14" y2="151.5" stroke="#111" stroke-width="1"/>
<rect x="289.6" y="156.1" width="4.6" height="35.6" fill="#a8a8a8" stroke="#111" stroke-width="0.8"/>
<line x1="301.5" y1="178.35" x2="301.5" y2="175.41" stroke="#111" stroke-width="1"/>
<line x1="300.71" y1="175.5" x2="303.19" y2="175.5" stroke="#111" stroke-width="1"/>
<rect x="299.65" y="178.35" width="4.6" height="13.35" fill="#303030" stroke="#111" stroke-width="0.8"/>
<line x1="307.5" y1="158.77" x2="307.5" y2="151.29" stroke="#111" stroke-width="1"/>
<line x1="306.51" y1="151.5" x2="308.99" y2="151.5" stroke="#111" stroke-width="1"/>
<rect x="305.45" y="158.77" width="4.6" height="32.93" fill="#a8a8a8" stroke="#111" stroke-width="0.8"/>
<line x1="317.5" y1="182.71" x2="317.5" y2="177.01" stroke="#111" stroke-width="1"/>
<line x1="316.56" y1="177.5" x2="319.04" y2="177.5" stroke="#111" stroke-width="1"/>
<rect x="315.5" y="182.71" width="4.6" height="8.99" fill="#303030" stroke="#111" stroke-width="0.8"/>
<line x1="323.5" y1="188.76" x2="323.5" y2="188.14" stroke="#111" stroke-width="1"/>
<line x1="322.36" y1="188.5" x2="324.84" y2="188.5" stroke="#111" stroke-width="1"/>
<rect x="321.3" y="188.76" width="4.6" height="2.94" fill="#a8a8a8" stroke="#111" stroke-width="0.8"/>
<line x1="218" y1="191.5" x2="327.7" y2="191.5" stroke="#111" stroke-width="1"/>
<line x1="218.5" y1="192.2" x2="218.5" y2="120.5" stroke="#111" stroke-width="1"/>
<line x1="225.5" y1="191.7" x2="225.5" y2="193.5" stroke="#111" stroke-width="1"/>
<line x1="241.5" y1="191.7" x2="241.5" y2="193.5" stroke="#111" stroke-width="1"/>
<line x1="257.5" y1="191.7" x2="257.5" y2="193.5" stroke="#111" stroke-width="1"/>
<line x1="273.5" y1="191.7" x2="273.5" y2="193.5" stroke="#111" stroke-width="1"/>
<line x1="289.5" y1="191.7" x2="289.5" y2="193.5" stroke="#111" stroke-width="1"/>
<line x1="304.5" y1="191.7" x2="304.5" y2="193.5" stroke="#111" stroke-width="1"/>
<line x1="320.5" y1="191.7" x2="320.5" y2="193.5" stroke="#111" stroke-width="1"/>
<line x1="215.6" y1="191.5" x2="218" y2="191.5" stroke="#111" stroke-width="1"/>
<text x="215.3" y="193.6" font-size="5.5" font-weight="bold" text-anchor="end" fill="#111" stroke="#111" stroke-width="0.22">0</text>
<line x1="215.6" y1="173.5" x2="218" y2="173.5" stroke="#111" stroke-width="1"/>
<text x="215.3" y="175.8" font-size="5.5" font-weight="bold" text-anchor="end" fill="#111" stroke="#111" stroke-width="0.22">20</text>
<line x1="215.6" y1="156.5" x2="218" y2="156.5" stroke="#111" stroke-width="1"/>
<text x="215.3" y="158" font-size="5.5" font-weight="bold" text-anchor="end" fill="#111" stroke="#111" stroke-width="0.22">40</text>
<line x1="215.6" y1="138.5" x2="218" y2="138.5" stroke="#111" stroke-width="1"/>
<text x="215.3" y="140.2" font-size="5.5" font-weight="bold" text-anchor="end" fill="#111" stroke="#111" stroke-width="0.22">60</text>
<line x1="215.6" y1="120.5" x2="218" y2="120.5" stroke="#111" stroke-width="1"/>
<text x="215.3" y="122.4" font-size="5.5" font-weight="bold" text-anchor="end" fill="#111" stroke="#111" stroke-width="0.22">80</text>
<line x1="221.2" y1="134.5" x2="231.7" y2="134.5" stroke="#111" stroke-width="1"/>
<text x="226.45" y="135.5" font-size="10.5" font-weight="bold" text-anchor="middle" fill="#111" stroke="#111" stroke-width="0.45">*</text>
<line x1="283.8" y1="144.5" x2="294.6" y2="144.5" stroke="#111" stroke-width="1"/>
<text x="289.2" y="145.1" font-size="10.5" font-weight="bold" text-anchor="middle" fill="#111" stroke="#111" stroke-width="0.45">*</text>
<line x1="298.8" y1="144.5" x2="309.4" y2="144.5" stroke="#111" stroke-width="1"/>
<text x="304.1" y="145.1" font-size="10.5" font-weight="bold" text-anchor="middle" fill="#111" stroke="#111" stroke-width="0.45">*</text>
<rect x="241.3" y="117.6" width="8.4" height="4.5" fill="#303030" stroke="#111" stroke-width="1"/>
<rect x="241.3" y="126" width="8.4" height="4.5" fill="#a8a8a8" stroke="#111" stroke-width="1"/>
<text x="252.3" y="122.3" font-size="6.4" fill="#111" stroke="#111" stroke-width="0.22">No MSC</text>
<text x="252.3" y="130.7" font-size="6.4" fill="#111" stroke="#111" stroke-width="0.22">MSC</text>
<text x="205.7" y="155.3" font-size="5.75" font-weight="bold" text-anchor="middle" transform="rotate(-90 205.7 155.3)" fill="#111" stroke="#111" stroke-width="0.22">% of BM cells</text>
<text x="227.1" y="199.7" font-size="6.1" font-weight="bold" text-anchor="end" transform="rotate(-45 227.1 199.7)" fill="#111" stroke="#111" stroke-width="0.22">CD45+</text>
<text x="242.95" y="199.7" font-size="6.1" font-weight="bold" text-anchor="end" transform="rotate(-45 242.95 199.7)" fill="#111" stroke="#111" stroke-width="0.22">CD45+CD34+</text>
<text x="258.8" y="199.7" font-size="6.1" font-weight="bold" text-anchor="end" transform="rotate(-45 258.8 199.7)" fill="#111" stroke="#111" stroke-width="0.22">CD45+CD19+</text>
<text x="274.65" y="199.7" font-size="6.1" font-weight="bold" text-anchor="end" transform="rotate(-45 274.65 199.7)" fill="#111" stroke="#111" stroke-width="0.22">CD45+CD3+</text>
<text x="290.5" y="199.7" font-size="6.1" font-weight="bold" text-anchor="end" transform="rotate(-45 290.5 199.7)" fill="#111" stroke="#111" stroke-width="0.22">CD45+CD33+</text>
<text x="306.35" y="199.7" font-size="6.1" font-weight="bold" text-anchor="end" transform="rotate(-45 306.35 199.7)" fill="#111" stroke="#111" stroke-width="0.22">CD45+CD11b</text>
<text x="322.2" y="199.7" font-size="6.1" font-weight="bold" text-anchor="end" transform="rotate(-45 322.2 199.7)" fill="#111" stroke="#111" stroke-width="0.22">CD45-CD71+</text>
<line x1="222.5" y1="279.5" x2="222.5" y2="273.26" stroke="#111" stroke-width="1"/>
<line x1="221.46" y1="273.5" x2="223.94" y2="273.5" stroke="#111" stroke-width="1"/>
<rect x="220.4" y="279.5" width="4.6" height="24" fill="#303030" stroke="#111" stroke-width="0.8"/>
<line x1="228.5" y1="254.54" x2="228.5" y2="248.78" stroke="#111" stroke-width="1"/>
<line x1="227.26" y1="248.5" x2="229.74" y2="248.5" stroke="#111" stroke-width="1"/>
<rect x="226.2" y="254.54" width="4.6" height="48.96" fill="#a8a8a8" stroke="#111" stroke-width="0.8"/>
<line x1="238.5" y1="300.62" x2="238.5" y2="299.66" stroke="#111" stroke-width="1"/>
<line x1="237.31" y1="299.5" x2="239.79" y2="299.5" stroke="#111" stroke-width="1"/>
<rect x="236.25" y="300.62" width="4.6" height="2.88" fill="#303030" stroke="#111" stroke-width="0.8"/>
<line x1="244.5" y1="298.22" x2="244.5" y2="297.26" stroke="#111" stroke-width="1"/>
<line x1="243.11" y1="297.5" x2="245.59" y2="297.5" stroke="#111" stroke-width="1"/>
<rect x="242.05" y="298.22" width="4.6" height="5.28" fill="#a8a8a8" stroke="#111" stroke-width="0.8"/>
<rect x="252.1" y="302.54" width="4.6" height="0.96" fill="#303030" stroke="#111" stroke-width="0.8"/>
<rect x="257.9" y="301.58" width="4.6" height="1.92" fill="#a8a8a8" stroke="#111" stroke-width="0.8"/>
<rect x="267.95" y="302.54" width="4.6" height="0.96" fill="#303030" stroke="#111" stroke-width="0.8"/>
<rect x="273.75" y="301.1" width="4.6" height="2.4" fill="#a8a8a8" stroke="#111" stroke-width="0.8"/>
<line x1="286.5" y1="288.62" x2="286.5" y2="285.74" stroke="#111" stroke-width="1"/>
<line x1="284.86" y1="285.5" x2="287.34" y2="285.5" stroke="#111" stroke-width="1"/>
<rect x="283.8" y="288.62" width="4.6" height="14.88" fill="#303030" stroke="#111" stroke-width="0.8"/>
<line x1="291.5" y1="269.9" x2="291.5" y2="266.06" stroke="#111" stroke-width="1"/>
<line x1="290.66" y1="266.5" x2="293.14" y2="266.5" stroke="#111" stroke-width="1"/>
<rect x="289.6" y="269.9" width="4.6" height="33.6" fill="#a8a8a8" stroke="#111" stroke-width="0.8"/>
<line x1="301.5" y1="288.14" x2="301.5" y2="283.34" stroke="#111" stroke-width="1"/>
<line x1="300.71" y1="283.5" x2="303.19" y2="283.5" stroke="#111" stroke-width="1"/>
<rect x="299.65" y="288.14" width="4.6" height="15.36" fill="#303030" stroke="#111" stroke-width="0.8"/>
<line x1="307.5" y1="275.66" x2="307.5" y2="270.38" stroke="#111" stroke-width="1"/>
<line x1="306.51" y1="270.5" x2="308.99" y2="270.5" stroke="#111" stroke-width="1"/>
<rect x="305.45" y="275.66" width="4.6" height="27.84" fill="#a8a8a8" stroke="#111" stroke-width="0.8"/>
<rect x="315.5" y="302.54" width="4.6" height="0.96" fill="#303030" stroke="#111" stroke-width="0.8"/>
<line x1="323.5" y1="297.26" x2="323.5" y2="293.42" stroke="#111" stroke-width="1"/>
<line x1="322.36" y1="293.5" x2="324.84" y2="293.5" stroke="#111" stroke-width="1"/>
<rect x="321.3" y="297.26" width="4.6" height="6.24" fill="#a8a8a8" stroke="#111" stroke-width="0.8"/>
<line x1="217.7" y1="303.5" x2="328.7" y2="303.5" stroke="#111" stroke-width="1"/>
<line x1="217.5" y1="304" x2="217.5" y2="231.5" stroke="#111" stroke-width="1"/>
<line x1="225.5" y1="303.5" x2="225.5" y2="305.3" stroke="#111" stroke-width="1"/>
<line x1="241.5" y1="303.5" x2="241.5" y2="305.3" stroke="#111" stroke-width="1"/>
<line x1="257.5" y1="303.5" x2="257.5" y2="305.3" stroke="#111" stroke-width="1"/>
<line x1="273.5" y1="303.5" x2="273.5" y2="305.3" stroke="#111" stroke-width="1"/>
<line x1="289.5" y1="303.5" x2="289.5" y2="305.3" stroke="#111" stroke-width="1"/>
<line x1="304.5" y1="303.5" x2="304.5" y2="305.3" stroke="#111" stroke-width="1"/>
<line x1="320.5" y1="303.5" x2="320.5" y2="305.3" stroke="#111" stroke-width="1"/>
<line x1="215.3" y1="303.5" x2="217.7" y2="303.5" stroke="#111" stroke-width="1"/>
<text x="215" y="305.4" font-size="5.5" font-weight="bold" text-anchor="end" fill="#111" stroke="#111" stroke-width="0.22">0</text>
<line x1="215.3" y1="279.5" x2="217.7" y2="279.5" stroke="#111" stroke-width="1"/>
<text x="215" y="281.4" font-size="5.5" font-weight="bold" text-anchor="end" fill="#111" stroke="#111" stroke-width="0.22">5</text>
<line x1="215.3" y1="255.5" x2="217.7" y2="255.5" stroke="#111" stroke-width="1"/>
<text x="215" y="257.4" font-size="5.5" font-weight="bold" text-anchor="end" fill="#111" stroke="#111" stroke-width="0.22">10</text>
<line x1="215.3" y1="231.5" x2="217.7" y2="231.5" stroke="#111" stroke-width="1"/>
<text x="215" y="233.4" font-size="5.5" font-weight="bold" text-anchor="end" fill="#111" stroke="#111" stroke-width="0.22">15</text>
<line x1="220.2" y1="245.5" x2="230.5" y2="245.5" stroke="#111" stroke-width="1"/>
<text x="225.35" y="246.1" font-size="9.6" font-weight="bold" text-anchor="middle" fill="#111" stroke="#111" stroke-width="0.45">*</text>
<line x1="283" y1="258.5" x2="293.5" y2="258.5" stroke="#111" stroke-width="1"/>
<text x="288.25" y="259.2" font-size="9.6" font-weight="bold" text-anchor="middle" fill="#111" stroke="#111" stroke-width="0.45">*</text>
<line x1="299.8" y1="258.5" x2="310" y2="258.5" stroke="#111" stroke-width="1"/>
<text x="304.9" y="259.2" font-size="9.6" font-weight="bold" text-anchor="middle" fill="#111" stroke="#111" stroke-width="0.45">*</text>
<rect x="241.3" y="229" width="8.4" height="4.5" fill="#303030" stroke="#111" stroke-width="1"/>
<rect x="241.3" y="237" width="8.4" height="4.5" fill="#a8a8a8" stroke="#111" stroke-width="1"/>
<text x="252.3" y="233.7" font-size="6.4" fill="#111" stroke="#111" stroke-width="0.22">No MSC</text>
<text x="252.3" y="241.7" font-size="6.4" fill="#111" stroke="#111" stroke-width="0.22">MSC</text>
<text x="205.7" y="267.5" font-size="5.75" font-weight="bold" text-anchor="middle" transform="rotate(-90 205.7 267.5)" fill="#111" stroke="#111" stroke-width="0.22">% of BM cells</text>
<text x="227.1" y="311.6" font-size="6.1" font-weight="bold" text-anchor="end" transform="rotate(-45 227.1 311.6)" fill="#111" stroke="#111" stroke-width="0.22">CD45+</text>
<text x="242.95" y="311.6" font-size="6.1" font-weight="bold" text-anchor="end" transform="rotate(-45 242.95 311.6)" fill="#111" stroke="#111" stroke-width="0.22">CD45+CD34+</text>
<text x="258.8" y="311.6" font-size="6.1" font-weight="bold" text-anchor="end" transform="rotate(-45 258.8 311.6)" fill="#111" stroke="#111" stroke-width="0.22">CD45+CD19+</text>
<text x="274.65" y="311.6" font-size="6.1" font-weight="bold" text-anchor="end" transform="rotate(-45 274.65 311.6)" fill="#111" stroke="#111" stroke-width="0.22">CD45+CD3+</text>
<text x="290.5" y="311.6" font-size="6.1" font-weight="bold" text-anchor="end" transform="rotate(-45 290.5 311.6)" fill="#111" stroke="#111" stroke-width="0.22">CD45+CD33+</text>
<text x="306.35" y="311.6" font-size="6.1" font-weight="bold" text-anchor="end" transform="rotate(-45 306.35 311.6)" fill="#111" stroke="#111" stroke-width="0.22">CD45+CD11b</text>
<text x="322.2" y="311.6" font-size="6.1" font-weight="bold" text-anchor="end" transform="rotate(-45 322.2 311.6)" fill="#111" stroke="#111" stroke-width="0.22">CD45-CD71+</text>
<text x="373.3" y="118.6" font-size="12.5" font-weight="bold" fill="#111" stroke="#111" stroke-width="0.4">C</text>
<text x="451.5" y="142.7" font-size="7.2" font-weight="bold" text-anchor="middle" fill="#111" stroke="#111" stroke-width="0.22">BCR-ABL-4w</text>
<line x1="420.5" y1="195.3" x2="420.5" y2="193.6" stroke="#111" stroke-width="1"/>
<line x1="416.34" y1="193.5" x2="424.66" y2="193.5" stroke="#111" stroke-width="1"/>
<rect x="412.8" y="195.3" width="15.4" height="33.2" fill="#303030" stroke="#111" stroke-width="1.25"/>
<line x1="442.5" y1="170.1" x2="442.5" y2="164.4" stroke="#111" stroke-width="1"/>
<line x1="437.89" y1="164.5" x2="446.31" y2="164.5" stroke="#111" stroke-width="1"/>
<rect x="434.3" y="170.1" width="15.6" height="58.4" fill="#a8a8a8" stroke="#111" stroke-width="1.25"/>
<line x1="478.5" y1="203.3" x2="478.5" y2="194" stroke="#111" stroke-width="1"/>
<line x1="474.05" y1="194.5" x2="482.15" y2="194.5" stroke="#111" stroke-width="1"/>
<rect x="470.6" y="203.3" width="15" height="25.2" fill="#303030" stroke="#111" stroke-width="1.25"/>
<line x1="499.5" y1="178.5" x2="499.5" y2="174.8" stroke="#111" stroke-width="1"/>
<line x1="495.53" y1="174.5" x2="503.37" y2="174.5" stroke="#111" stroke-width="1"/>
<rect x="492.2" y="178.5" width="14.5" height="50" fill="#a8a8a8" stroke="#111" stroke-width="1.25"/>
<line x1="402.4" y1="228.5" x2="518" y2="228.5" stroke="#111" stroke-width="1"/>
<line x1="402.5" y1="229" x2="402.5" y2="152.1" stroke="#111" stroke-width="1"/>
<line x1="431.5" y1="228.5" x2="431.5" y2="230.3" stroke="#111" stroke-width="1"/>
<line x1="488.5" y1="228.5" x2="488.5" y2="230.3" stroke="#111" stroke-width="1"/>
<line x1="400" y1="228.5" x2="402.4" y2="228.5" stroke="#111" stroke-width="1"/>
<text x="399.7" y="230.4" font-size="5.9" font-weight="bold" text-anchor="end" fill="#111" stroke="#111" stroke-width="0.22">0.000</text>
<line x1="400" y1="203.5" x2="402.4" y2="203.5" stroke="#111" stroke-width="1"/>
<text x="399.7" y="204.93" font-size="5.9" font-weight="bold" text-anchor="end" fill="#111" stroke="#111" stroke-width="0.22">0.002</text>
<line x1="400" y1="177.5" x2="402.4" y2="177.5" stroke="#111" stroke-width="1"/>
<text x="399.7" y="179.47" font-size="5.9" font-weight="bold" text-anchor="end" fill="#111" stroke="#111" stroke-width="0.22">0.004</text>
<line x1="400" y1="152.5" x2="402.4" y2="152.5" stroke="#111" stroke-width="1"/>
<text x="399.7" y="154" font-size="5.9" font-weight="bold" text-anchor="end" fill="#111" stroke="#111" stroke-width="0.22">0.006</text>
<line x1="411.2" y1="159.5" x2="449.9" y2="159.5" stroke="#111" stroke-width="1"/>
<text x="430.55" y="160.6" font-size="9" font-weight="bold" text-anchor="middle" fill="#111" stroke="#111" stroke-width="0.45">*</text>
<line x1="467.7" y1="171.5" x2="507.5" y2="171.5" stroke="#111" stroke-width="1"/>
<text x="487.6" y="172.2" font-size="9" font-weight="bold" text-anchor="middle" fill="#111" stroke="#111" stroke-width="0.45">*</text>
<rect x="476.7" y="144.9" width="9.2" height="4.4" fill="#303030" stroke="#111" stroke-width="1"/>
<rect x="476.7" y="153.4" width="9.2" height="4.4" fill="#a8a8a8" stroke="#111" stroke-width="1"/>
<text x="488.5" y="149.5" font-size="6.4" fill="#111" stroke="#111" stroke-width="0.22">No MSC</text>
<text x="488.5" y="158" font-size="6.4" fill="#111" stroke="#111" stroke-width="0.22">MSC</text>
<text x="380" y="190.5" font-size="6.3" font-weight="bold" text-anchor="middle" transform="rotate(-90 380 190.5)" fill="#111" stroke="#111" stroke-width="0.22">BCR-ABL/BCR</text>
<text x="433.6" y="238.6" font-size="7.4" font-weight="bold" text-anchor="end" transform="rotate(-45 433.6 238.6)" fill="#111" stroke="#111" stroke-width="0.22">no IM</text>
<text x="491" y="237.4" font-size="7.4" font-weight="bold" text-anchor="end" transform="rotate(-45 491 237.4)" fill="#111" stroke="#111" stroke-width="0.22">IM</text>
<text x="0.1" y="473.8" font-size="12.5" font-weight="bold" fill="#111" stroke="#111" stroke-width="0.4">E</text>
<text x="17.4" y="512.9" font-size="10.2" fill="#111" stroke="#111" stroke-width="0.45">No IM</text>
<text x="22.8" y="627.8" font-size="10.2" fill="#111" stroke="#111" stroke-width="0.45">IM</text>
<rect x="79.3" y="547.4" width="10.4" height="3.2" fill="#303030" stroke="#111" stroke-width="1.25"/>
<rect x="94" y="547.4" width="10.4" height="3.2" fill="#a8a8a8" stroke="#111" stroke-width="1.25"/>
<line x1="123.5" y1="537" x2="123.5" y2="535.4" stroke="#111" stroke-width="1"/>
<line x1="120.82" y1="535.5" x2="126.28" y2="535.5" stroke="#111" stroke-width="1"/>
<rect x="118.5" y="537" width="10.1" height="13.6" fill="#303030" stroke="#111" stroke-width="1.25"/>
<line x1="137.5" y1="532.7" x2="137.5" y2="529.5" stroke="#111" stroke-width="1"/>
<line x1="135.28" y1="529.5" x2="140.62" y2="529.5" stroke="#111" stroke-width="1"/>
<rect x="133" y="532.7" width="9.9" height="17.9" fill="#a8a8a8" stroke="#111" stroke-width="1.25"/>
<line x1="163.5" y1="528.6" x2="163.5" y2="521.2" stroke="#111" stroke-width="1"/>
<line x1="160.3" y1="521.5" x2="165.7" y2="521.5" stroke="#111" stroke-width="1"/>
<rect x="158" y="528.6" width="10" height="22" fill="#303030" stroke="#111" stroke-width="1.25"/>
<line x1="177.5" y1="495.5" x2="177.5" y2="481.3" stroke="#111" stroke-width="1"/>
<line x1="174.57" y1="481.5" x2="180.13" y2="481.5" stroke="#111" stroke-width="1"/>
<rect x="172.2" y="495.5" width="10.3" height="55.1" fill="#a8a8a8" stroke="#111" stroke-width="1.25"/>
<line x1="72.3" y1="550.5" x2="190" y2="550.5" stroke="#111" stroke-width="1"/>
<line x1="72.5" y1="551.1" x2="72.5" y2="473.5" stroke="#111" stroke-width="1"/>
<line x1="91.5" y1="550.6" x2="91.5" y2="552.4" stroke="#111" stroke-width="1"/>
<line x1="130.5" y1="550.6" x2="130.5" y2="552.4" stroke="#111" stroke-width="1"/>
<line x1="170.5" y1="550.6" x2="170.5" y2="552.4" stroke="#111" stroke-width="1"/>
<line x1="69.9" y1="550.5" x2="72.3" y2="550.5" stroke="#111" stroke-width="1"/>
<text x="69.6" y="552.5" font-size="5.5" font-weight="bold" text-anchor="end" fill="#111" stroke="#111" stroke-width="0.22">0</text>
<line x1="69.9" y1="535.5" x2="72.3" y2="535.5" stroke="#111" stroke-width="1"/>
<text x="69.6" y="537.08" font-size="5.5" font-weight="bold" text-anchor="end" fill="#111" stroke="#111" stroke-width="0.22">2</text>
<line x1="69.9" y1="519.5" x2="72.3" y2="519.5" stroke="#111" stroke-width="1"/>
<text x="69.6" y="521.66" font-size="5.5" font-weight="bold" text-anchor="end" fill="#111" stroke="#111" stroke-width="0.22">4</text>
<line x1="69.9" y1="504.5" x2="72.3" y2="504.5" stroke="#111" stroke-width="1"/>
<text x="69.6" y="506.24" font-size="5.5" font-weight="bold" text-anchor="end" fill="#111" stroke="#111" stroke-width="0.22">6</text>
<line x1="69.9" y1="488.5" x2="72.3" y2="488.5" stroke="#111" stroke-width="1"/>
<text x="69.6" y="490.82" font-size="5.5" font-weight="bold" text-anchor="end" fill="#111" stroke="#111" stroke-width="0.22">8</text>
<line x1="69.9" y1="473.5" x2="72.3" y2="473.5" stroke="#111" stroke-width="1"/>
<text x="69.6" y="475.4" font-size="5.5" font-weight="bold" text-anchor="end" fill="#111" stroke="#111" stroke-width="0.22">10</text>
<line x1="79" y1="534.5" x2="104.9" y2="534.5" stroke="#111" stroke-width="1"/>
<text x="91.95" y="530.4" font-size="7.3" text-anchor="middle" fill="#111" stroke="#111" stroke-width="0.22">ns</text>
<line x1="117.2" y1="526.5" x2="142.9" y2="526.5" stroke="#111" stroke-width="1"/>
<text x="130.05" y="522.93" font-size="7.2" text-anchor="middle" fill="#111" stroke="#111" stroke-width="0.22">p=0.07</text>
<line x1="156.2" y1="475.5" x2="182.5" y2="475.5" stroke="#111" stroke-width="1"/>
<text x="169.35" y="476.7" font-size="10.5" font-weight="bold" text-anchor="middle" fill="#111" stroke="#111" stroke-width="0.45">*</text>
<rect x="86" y="468" width="9.9" height="4.7" fill="#303030" stroke="#111" stroke-width="1"/>
<rect x="86" y="476.9" width="9.9" height="4.7" fill="#a8a8a8" stroke="#111" stroke-width="1"/>
<text x="98.5" y="472.9" font-size="6.4" fill="#111" stroke="#111" stroke-width="0.22">No MSC</text>
<text x="98.5" y="481.8" font-size="6.4" fill="#111" stroke="#111" stroke-width="0.22">MSC</text>
<text x="58.5" y="512.3" font-size="6.3" font-weight="bold" text-anchor="middle" transform="rotate(-90 58.5 512.3)" fill="#111" stroke="#111" stroke-width="0.22">% of human CD45+ cells</text>
<text x="92.7" y="560.6" font-size="6.6" font-weight="bold" text-anchor="end" transform="rotate(-45 92.7 560.6)" fill="#111" stroke="#111" stroke-width="0.22">PB</text>
<text x="132.1" y="560.6" font-size="6.6" font-weight="bold" text-anchor="end" transform="rotate(-45 132.1 560.6)" fill="#111" stroke="#111" stroke-width="0.22">BM</text>
<text x="171.7" y="560.6" font-size="6.6" font-weight="bold" text-anchor="end" transform="rotate(-45 171.7 560.6)" fill="#111" stroke="#111" stroke-width="0.22">Spleen</text>
<line x1="227.5" y1="504.29" x2="227.5" y2="497.93" stroke="#111" stroke-width="1"/>
<line x1="225.85" y1="497.5" x2="228.55" y2="497.5" stroke="#111" stroke-width="1"/>
<rect x="224.7" y="504.29" width="5" height="40.71" fill="#303030" stroke="#111" stroke-width="0.8"/>
<line x1="233.5" y1="489.7" x2="233.5" y2="480.28" stroke="#111" stroke-width="1"/>
<line x1="232.45" y1="480.5" x2="235.15" y2="480.5" stroke="#111" stroke-width="1"/>
<rect x="231.3" y="489.7" width="5" height="55.3" fill="#a8a8a8" stroke="#111" stroke-width="0.8"/>
<rect x="242.25" y="540.29" width="5" height="4.71" fill="#303030" stroke="#111" stroke-width="0.8"/>
<rect x="248.85" y="540.29" width="5" height="4.71" fill="#a8a8a8" stroke="#111" stroke-width="0.8"/>
<rect x="259.8" y="543.82" width="5" height="1.18" fill="#303030" stroke="#111" stroke-width="0.8"/>
<line x1="268.5" y1="537.23" x2="268.5" y2="533.47" stroke="#111" stroke-width="1"/>
<line x1="267.55" y1="533.5" x2="270.25" y2="533.5" stroke="#111" stroke-width="1"/>
<rect x="266.4" y="537.23" width="5" height="7.77" fill="#a8a8a8" stroke="#111" stroke-width="0.8"/>
<rect x="277.35" y="542.65" width="5" height="2.35" fill="#303030" stroke="#111" stroke-width="0.8"/>
<rect x="283.95" y="539.12" width="5" height="5.88" fill="#a8a8a8" stroke="#111" stroke-width="0.8"/>
<line x1="297.5" y1="510.88" x2="297.5" y2="506.88" stroke="#111" stroke-width="1"/>
<line x1="296.05" y1="506.5" x2="298.75" y2="506.5" stroke="#111" stroke-width="1"/>
<rect x="294.9" y="510.88" width="5" height="34.12" fill="#303030" stroke="#111" stroke-width="0.8"/>
<line x1="304.5" y1="504.99" x2="304.5" y2="497.23" stroke="#111" stroke-width="1"/>
<line x1="302.65" y1="497.5" x2="305.35" y2="497.5" stroke="#111" stroke-width="1"/>
<rect x="301.5" y="504.99" width="5" height="40.01" fill="#a8a8a8" stroke="#111" stroke-width="0.8"/>
<line x1="314.5" y1="539.12" x2="314.5" y2="537.94" stroke="#111" stroke-width="1"/>
<line x1="313.6" y1="537.5" x2="316.3" y2="537.5" stroke="#111" stroke-width="1"/>
<rect x="312.45" y="539.12" width="5" height="5.88" fill="#303030" stroke="#111" stroke-width="0.8"/>
<rect x="319.05" y="540.76" width="5" height="4.24" fill="#a8a8a8" stroke="#111" stroke-width="0.8"/>
<rect x="330" y="544.29" width="5" height="0.71" fill="#303030" stroke="#111" stroke-width="0.8"/>
<rect x="336.6" y="544.3" width="5" height="0.7" fill="#a8a8a8" stroke="#111" stroke-width="0.8"/>
<line x1="221.3" y1="545.5" x2="344.6" y2="545.5" stroke="#111" stroke-width="1"/>
<line x1="221.5" y1="545.5" x2="221.5" y2="474.4" stroke="#111" stroke-width="1"/>
<line x1="230.5" y1="545" x2="230.5" y2="546.8" stroke="#111" stroke-width="1"/>
<line x1="248.5" y1="545" x2="248.5" y2="546.8" stroke="#111" stroke-width="1"/>
<line x1="265.5" y1="545" x2="265.5" y2="546.8" stroke="#111" stroke-width="1"/>
<line x1="283.5" y1="545" x2="283.5" y2="546.8" stroke="#111" stroke-width="1"/>
<line x1="300.5" y1="545" x2="300.5" y2="546.8" stroke="#111" stroke-width="1"/>
<line x1="318.5" y1="545" x2="318.5" y2="546.8" stroke="#111" stroke-width="1"/>
<line x1="335.5" y1="545" x2="335.5" y2="546.8" stroke="#111" stroke-width="1"/>
<line x1="218.9" y1="545.5" x2="221.3" y2="545.5" stroke="#111" stroke-width="1"/>
<text x="218.6" y="546.9" font-size="5.5" font-weight="bold" text-anchor="end" fill="#111" stroke="#111" stroke-width="0.22">0</text>
<line x1="218.9" y1="521.5" x2="221.3" y2="521.5" stroke="#111" stroke-width="1"/>
<text x="218.6" y="523.37" font-size="5.5" font-weight="bold" text-anchor="end" fill="#111" stroke="#111" stroke-width="0.22">1</text>
<line x1="218.9" y1="497.5" x2="221.3" y2="497.5" stroke="#111" stroke-width="1"/>
<text x="218.6" y="499.83" font-size="5.5" font-weight="bold" text-anchor="end" fill="#111" stroke="#111" stroke-width="0.22">2</text>
<line x1="218.9" y1="474.5" x2="221.3" y2="474.5" stroke="#111" stroke-width="1"/>
<text x="218.6" y="476.3" font-size="5.5" font-weight="bold" text-anchor="end" fill="#111" stroke="#111" stroke-width="0.22">3</text>
<line x1="225.2" y1="476.5" x2="236.7" y2="476.5" stroke="#111" stroke-width="1"/>
<text x="230.95" y="473.7" font-size="5.9" text-anchor="middle" fill="#111" stroke="#111" stroke-width="0.22">p=0.07</text>
<line x1="294.6" y1="493.5" x2="307" y2="493.5" stroke="#111" stroke-width="1"/>
<text x="300.8" y="490.3" font-size="6.6" text-anchor="middle" fill="#111" stroke="#111" stroke-width="0.22">ns</text>
<rect x="253" y="472.7" width="9.8" height="4.3" fill="#303030" stroke="#111" stroke-width="1"/>
<rect x="253" y="480.4" width="9.8" height="4.3" fill="#a8a8a8" stroke="#111" stroke-width="1"/>
<text x="265.4" y="477.2" font-size="6.4" fill="#111" stroke="#111" stroke-width="0.22">No MSC</text>
<text x="265.4" y="484.9" font-size="6.4" fill="#111" stroke="#111" stroke-width="0.22">MSC</text>
<text x="211.4" y="509.5" font-size="5.75" font-weight="bold" text-anchor="middle" transform="rotate(-90 211.4 509.5)" fill="#111" stroke="#111" stroke-width="0.22">% of BM cells</text>
<text x="232" y="552.6" font-size="6.2" font-weight="bold" text-anchor="end" transform="rotate(-45 232 552.6)" fill="#111" stroke="#111" stroke-width="0.22">CD45+</text>
<text x="249.55" y="552.6" font-size="6.2" font-weight="bold" text-anchor="end" transform="rotate(-45 249.55 552.6)" fill="#111" stroke="#111" stroke-width="0.22">CD45+CD34+</text>
<text x="267.1" y="552.6" font-size="6.2" font-weight="bold" text-anchor="end" transform="rotate(-45 267.1 552.6)" fill="#111" stroke="#111" stroke-width="0.22">CD45+CD19+</text>
<text x="284.65" y="552.6" font-size="6.2" font-weight="bold" text-anchor="end" transform="rotate(-45 284.65 552.6)" fill="#111" stroke="#111" stroke-width="0.22">CD45+CD3+</text>
<text x="302.2" y="552.6" font-size="6.2" font-weight="bold" text-anchor="end" transform="rotate(-45 302.2 552.6)" fill="#111" stroke="#111" stroke-width="0.22">CD45+CD33+</text>
<text x="319.75" y="552.6" font-size="6.2" font-weight="bold" text-anchor="end" transform="rotate(-45 319.75 552.6)" fill="#111" stroke="#111" stroke-width="0.22">CD45+CD11b</text>
<text x="337.3" y="552.6" font-size="6.2" font-weight="bold" text-anchor="end" transform="rotate(-45 337.3 552.6)" fill="#111" stroke="#111" stroke-width="0.22">CD45-CD71+</text>
<rect x="76.3" y="667" width="10.7" height="4.4" fill="#303030" stroke="#111" stroke-width="1.25"/>
<rect x="90.7" y="668.1" width="10.5" height="3.3" fill="#a8a8a8" stroke="#111" stroke-width="1.25"/>
<line x1="119.5" y1="648.2" x2="119.5" y2="644.6" stroke="#111" stroke-width="1"/>
<line x1="117.07" y1="644.5" x2="122.63" y2="644.5" stroke="#111" stroke-width="1"/>
<rect x="114.7" y="648.2" width="10.3" height="23.2" fill="#303030" stroke="#111" stroke-width="1.25"/>
<line x1="134.5" y1="634.6" x2="134.5" y2="630.6" stroke="#111" stroke-width="1"/>
<line x1="131.77" y1="630.5" x2="137.33" y2="630.5" stroke="#111" stroke-width="1"/>
<rect x="129.4" y="634.6" width="10.3" height="36.8" fill="#a8a8a8" stroke="#111" stroke-width="1.25"/>
<line x1="158.5" y1="628.3" x2="158.5" y2="618.2" stroke="#111" stroke-width="1"/>
<line x1="156.22" y1="618.5" x2="161.68" y2="618.5" stroke="#111" stroke-width="1"/>
<rect x="153.9" y="628.3" width="10.1" height="43.1" fill="#303030" stroke="#111" stroke-width="1.25"/>
<line x1="173.5" y1="614.4" x2="173.5" y2="606" stroke="#111" stroke-width="1"/>
<line x1="170.84" y1="606.5" x2="176.56" y2="606.5" stroke="#111" stroke-width="1"/>
<rect x="168.4" y="614.4" width="10.6" height="57" fill="#a8a8a8" stroke="#111" stroke-width="1.25"/>
<line x1="69.7" y1="671.5" x2="185.7" y2="671.5" stroke="#111" stroke-width="1"/>
<line x1="69.5" y1="671.9" x2="69.5" y2="592.9" stroke="#111" stroke-width="1"/>
<line x1="88.5" y1="671.4" x2="88.5" y2="673.2" stroke="#111" stroke-width="1"/>
<line x1="127.5" y1="671.4" x2="127.5" y2="673.2" stroke="#111" stroke-width="1"/>
<line x1="166.5" y1="671.4" x2="166.5" y2="673.2" stroke="#111" stroke-width="1"/>
<line x1="67.3" y1="671.5" x2="69.7" y2="671.5" stroke="#111" stroke-width="1"/>
<text x="67" y="673.3" font-size="5.5" font-weight="bold" text-anchor="end" fill="#111" stroke="#111" stroke-width="0.22">0.0</text>
<line x1="67.3" y1="655.5" x2="69.7" y2="655.5" stroke="#111" stroke-width="1"/>
<text x="67" y="657.6" font-size="5.5" font-weight="bold" text-anchor="end" fill="#111" stroke="#111" stroke-width="0.22">0.5</text>
<line x1="67.3" y1="640.5" x2="69.7" y2="640.5" stroke="#111" stroke-width="1"/>
<text x="67" y="641.9" font-size="5.5" font-weight="bold" text-anchor="end" fill="#111" stroke="#111" stroke-width="0.22">1.0</text>
<line x1="67.3" y1="624.5" x2="69.7" y2="624.5" stroke="#111" stroke-width="1"/>
<text x="67" y="626.2" font-size="5.5" font-weight="bold" text-anchor="end" fill="#111" stroke="#111" stroke-width="0.22">1.5</text>
<line x1="67.3" y1="608.5" x2="69.7" y2="608.5" stroke="#111" stroke-width="1"/>
<text x="67" y="610.5" font-size="5.5" font-weight="bold" text-anchor="end" fill="#111" stroke="#111" stroke-width="0.22">2.0</text>
<line x1="67.3" y1="592.5" x2="69.7" y2="592.5" stroke="#111" stroke-width="1"/>
<text x="67" y="594.8" font-size="5.5" font-weight="bold" text-anchor="end" fill="#111" stroke="#111" stroke-width="0.22">2.5</text>
<line x1="76" y1="654.5" x2="102.8" y2="654.5" stroke="#111" stroke-width="1"/>
<text x="89.4" y="650.1" font-size="7.6" text-anchor="middle" fill="#111" stroke="#111" stroke-width="0.22">ns</text>
<line x1="112" y1="622.5" x2="141" y2="622.5" stroke="#111" stroke-width="1"/>
<text x="126.5" y="622.9" font-size="10.5" font-weight="bold" text-anchor="middle" fill="#111" stroke="#111" stroke-width="0.45">*</text>
<line x1="150.2" y1="602.5" x2="177.9" y2="602.5" stroke="#111" stroke-width="1"/>
<text x="164.05" y="599.13" font-size="7.2" text-anchor="middle" fill="#111" stroke="#111" stroke-width="0.22">p=0.09</text>
<rect x="81.4" y="591.5" width="9.7" height="4.5" fill="#303030" stroke="#111" stroke-width="1"/>
<rect x="81.4" y="600.4" width="9.7" height="4.5" fill="#a8a8a8" stroke="#111" stroke-width="1"/>
<text x="93.7" y="596.2" font-size="6.4" fill="#111" stroke="#111" stroke-width="0.22">No MSC</text>
<text x="93.7" y="605.1" font-size="6.4" fill="#111" stroke="#111" stroke-width="0.22">MSC</text>
<text x="53" y="632" font-size="6.3" font-weight="bold" text-anchor="middle" transform="rotate(-90 53 632)" fill="#111" stroke="#111" stroke-width="0.22">% of human CD45+ cells</text>
<text x="88.2" y="680.6" font-size="6.4" font-weight="bold" text-anchor="end" transform="rotate(-45 88.2 680.6)" fill="#111" stroke="#111" stroke-width="0.22">PB</text>
<text x="127.2" y="680.6" font-size="6.4" font-weight="bold" text-anchor="end" transform="rotate(-45 127.2 680.6)" fill="#111" stroke="#111" stroke-width="0.22">BM</text>
<text x="166.8" y="680.6" font-size="6.4" font-weight="bold" text-anchor="end" transform="rotate(-45 166.8 680.6)" fill="#111" stroke="#111" stroke-width="0.22">Spleen</text>
<line x1="229.5" y1="629.58" x2="229.5" y2="624.36" stroke="#111" stroke-width="1"/>
<line x1="228" y1="624.5" x2="230.8" y2="624.5" stroke="#111" stroke-width="1"/>
<rect x="226.8" y="629.58" width="5.2" height="36.02" fill="#303030" stroke="#111" stroke-width="0.8"/>
<line x1="235.5" y1="609.67" x2="235.5" y2="603.98" stroke="#111" stroke-width="1"/>
<line x1="234.6" y1="603.5" x2="237.4" y2="603.5" stroke="#111" stroke-width="1"/>
<rect x="233.4" y="609.67" width="5.2" height="55.93" fill="#a8a8a8" stroke="#111" stroke-width="0.8"/>
<rect x="244.6" y="661.33" width="5.2" height="4.27" fill="#303030" stroke="#111" stroke-width="0.8"/>
<line x1="253.5" y1="658.49" x2="253.5" y2="656.59" stroke="#111" stroke-width="1"/>
<line x1="252.4" y1="656.5" x2="255.2" y2="656.5" stroke="#111" stroke-width="1"/>
<rect x="251.2" y="658.49" width="5.2" height="7.11" fill="#a8a8a8" stroke="#111" stroke-width="0.8"/>
<rect x="262.4" y="661.33" width="5.2" height="4.27" fill="#303030" stroke="#111" stroke-width="0.8"/>
<rect x="269" y="657.54" width="5.2" height="8.06" fill="#a8a8a8" stroke="#111" stroke-width="0.8"/>
<rect x="280.2" y="661.33" width="5.2" height="4.27" fill="#303030" stroke="#111" stroke-width="0.8"/>
<rect x="286.8" y="658.96" width="5.2" height="6.64" fill="#a8a8a8" stroke="#111" stroke-width="0.8"/>
<line x1="300.5" y1="635.74" x2="300.5" y2="631.47" stroke="#111" stroke-width="1"/>
<line x1="299.2" y1="631.5" x2="302" y2="631.5" stroke="#111" stroke-width="1"/>
<rect x="298" y="635.74" width="5.2" height="29.86" fill="#303030" stroke="#111" stroke-width="0.8"/>
<line x1="307.5" y1="613.93" x2="307.5" y2="608.72" stroke="#111" stroke-width="1"/>
<line x1="305.8" y1="608.5" x2="308.6" y2="608.5" stroke="#111" stroke-width="1"/>
<rect x="304.6" y="613.93" width="5.2" height="51.67" fill="#a8a8a8" stroke="#111" stroke-width="0.8"/>
<rect x="315.8" y="661.81" width="5.2" height="3.79" fill="#303030" stroke="#111" stroke-width="0.8"/>
<rect x="322.4" y="660.39" width="5.2" height="5.21" fill="#a8a8a8" stroke="#111" stroke-width="0.8"/>
<rect x="333.6" y="663.7" width="5.2" height="1.9" fill="#303030" stroke="#111" stroke-width="0.8"/>
<rect x="340.2" y="664.65" width="5.2" height="0.95" fill="#a8a8a8" stroke="#111" stroke-width="0.8"/>
<line x1="224.2" y1="665.5" x2="345.4" y2="665.5" stroke="#111" stroke-width="1"/>
<line x1="224.5" y1="666.1" x2="224.5" y2="594.5" stroke="#111" stroke-width="1"/>
<line x1="232.5" y1="665.6" x2="232.5" y2="667.4" stroke="#111" stroke-width="1"/>
<line x1="250.5" y1="665.6" x2="250.5" y2="667.4" stroke="#111" stroke-width="1"/>
<line x1="268.5" y1="665.6" x2="268.5" y2="667.4" stroke="#111" stroke-width="1"/>
<line x1="286.5" y1="665.6" x2="286.5" y2="667.4" stroke="#111" stroke-width="1"/>
<line x1="303.5" y1="665.6" x2="303.5" y2="667.4" stroke="#111" stroke-width="1"/>
<line x1="321.5" y1="665.6" x2="321.5" y2="667.4" stroke="#111" stroke-width="1"/>
<line x1="339.5" y1="665.6" x2="339.5" y2="667.4" stroke="#111" stroke-width="1"/>
<line x1="221.8" y1="665.5" x2="224.2" y2="665.5" stroke="#111" stroke-width="1"/>
<text x="221.5" y="667.5" font-size="5.5" font-weight="bold" text-anchor="end" fill="#111" stroke="#111" stroke-width="0.22">0.0</text>
<line x1="221.8" y1="641.5" x2="224.2" y2="641.5" stroke="#111" stroke-width="1"/>
<text x="221.5" y="643.8" font-size="5.5" font-weight="bold" text-anchor="end" fill="#111" stroke="#111" stroke-width="0.22">0.5</text>
<line x1="221.8" y1="618.5" x2="224.2" y2="618.5" stroke="#111" stroke-width="1"/>
<text x="221.5" y="620.1" font-size="5.5" font-weight="bold" text-anchor="end" fill="#111" stroke="#111" stroke-width="0.22">1.0</text>
<line x1="221.8" y1="594.5" x2="224.2" y2="594.5" stroke="#111" stroke-width="1"/>
<text x="221.5" y="596.4" font-size="5.5" font-weight="bold" text-anchor="end" fill="#111" stroke="#111" stroke-width="0.22">1.5</text>
<line x1="227.6" y1="601.5" x2="239.6" y2="601.5" stroke="#111" stroke-width="1"/>
<text x="233.6" y="602.8" font-size="8.8" font-weight="bold" text-anchor="middle" fill="#111" stroke="#111" stroke-width="0.45">*</text>
<line x1="297.7" y1="607.5" x2="310.6" y2="607.5" stroke="#111" stroke-width="1"/>
<text x="304.15" y="608.1" font-size="8.8" font-weight="bold" text-anchor="middle" fill="#111" stroke="#111" stroke-width="0.45">*</text>
<rect x="250" y="592.7" width="8.3" height="4" fill="#303030" stroke="#111" stroke-width="1"/>
<rect x="250" y="600.4" width="8.3" height="4" fill="#a8a8a8" stroke="#111" stroke-width="1"/>
<text x="260.9" y="596.9" font-size="6.4" fill="#111" stroke="#111" stroke-width="0.22">No MSC</text>
<text x="260.9" y="604.6" font-size="6.4" fill="#111" stroke="#111" stroke-width="0.22">MSC</text>
<text x="209" y="629.5" font-size="5.75" font-weight="bold" text-anchor="middle" transform="rotate(-90 209 629.5)" fill="#111" stroke="#111" stroke-width="0.22">% of BM cells</text>
<text x="234.2" y="672.8" font-size="5.9" font-weight="bold" text-anchor="end" transform="rotate(-45 234.2 672.8)" fill="#111" stroke="#111" stroke-width="0.22">CD45+</text>
<text x="252" y="672.8" font-size="5.9" font-weight="bold" text-anchor="end" transform="rotate(-45 252 672.8)" fill="#111" stroke="#111" stroke-width="0.22">CD45+CD34+</text>
<text x="269.8" y="672.8" font-size="5.9" font-weight="bold" text-anchor="end" transform="rotate(-45 269.8 672.8)" fill="#111" stroke="#111" stroke-width="0.22">CD45+CD19+</text>
<text x="287.6" y="672.8" font-size="5.9" font-weight="bold" text-anchor="end" transform="rotate(-45 287.6 672.8)" fill="#111" stroke="#111" stroke-width="0.22">CD45+CD3+</text>
<text x="305.4" y="672.8" font-size="5.9" font-weight="bold" text-anchor="end" transform="rotate(-45 305.4 672.8)" fill="#111" stroke="#111" stroke-width="0.22">CD45+CD33+</text>
<text x="323.2" y="672.8" font-size="5.9" font-weight="bold" text-anchor="end" transform="rotate(-45 323.2 672.8)" fill="#111" stroke="#111" stroke-width="0.22">CD45+CD11b</text>
<text x="341" y="672.8" font-size="5.9" font-weight="bold" text-anchor="end" transform="rotate(-45 341 672.8)" fill="#111" stroke="#111" stroke-width="0.22">CD45-CD71+</text>
<text x="372.9" y="473.8" font-size="12.5" font-weight="bold" fill="#111" stroke="#111" stroke-width="0.4">F</text>
<text x="452.4" y="490.5" font-size="7.4" font-weight="bold" text-anchor="middle" fill="#111" stroke="#111" stroke-width="0.22">BCR-ABL-10w</text>
<line x1="420.5" y1="545.3" x2="420.5" y2="540.3" stroke="#111" stroke-width="1"/>
<line x1="416.75" y1="540.5" x2="424.85" y2="540.5" stroke="#111" stroke-width="1"/>
<rect x="413.3" y="545.3" width="15" height="35.1" fill="#303030" stroke="#111" stroke-width="1.25"/>
<line x1="442.5" y1="518.1" x2="442.5" y2="509.8" stroke="#111" stroke-width="1"/>
<line x1="438.71" y1="509.5" x2="447.19" y2="509.5" stroke="#111" stroke-width="1"/>
<rect x="435.1" y="518.1" width="15.7" height="62.3" fill="#a8a8a8" stroke="#111" stroke-width="1.25"/>
<line x1="479.5" y1="562.5" x2="479.5" y2="551.9" stroke="#111" stroke-width="1"/>
<line x1="475.35" y1="551.5" x2="483.45" y2="551.5" stroke="#111" stroke-width="1"/>
<rect x="471.9" y="562.5" width="15" height="17.9" fill="#303030" stroke="#111" stroke-width="1.25"/>
<line x1="501.5" y1="531" x2="501.5" y2="524.75" stroke="#111" stroke-width="1"/>
<line x1="497.54" y1="524.5" x2="505.86" y2="524.5" stroke="#111" stroke-width="1"/>
<rect x="494" y="531" width="15.4" height="49.4" fill="#a8a8a8" stroke="#111" stroke-width="1.25"/>
<line x1="401.8" y1="580.5" x2="520" y2="580.5" stroke="#111" stroke-width="1"/>
<line x1="401.5" y1="580.9" x2="401.5" y2="505.2" stroke="#111" stroke-width="1"/>
<line x1="431.5" y1="580.4" x2="431.5" y2="582.2" stroke="#111" stroke-width="1"/>
<line x1="490.5" y1="580.4" x2="490.5" y2="582.2" stroke="#111" stroke-width="1"/>
<line x1="399.4" y1="580.5" x2="401.8" y2="580.5" stroke="#111" stroke-width="1"/>
<text x="399.1" y="582.3" font-size="5.9" font-weight="bold" text-anchor="end" fill="#111" stroke="#111" stroke-width="0.22">0.000</text>
<line x1="399.4" y1="565.5" x2="401.8" y2="565.5" stroke="#111" stroke-width="1"/>
<text x="399.1" y="567.26" font-size="5.9" font-weight="bold" text-anchor="end" fill="#111" stroke="#111" stroke-width="0.22">0.001</text>
<line x1="399.4" y1="550.5" x2="401.8" y2="550.5" stroke="#111" stroke-width="1"/>
<text x="399.1" y="552.22" font-size="5.9" font-weight="bold" text-anchor="end" fill="#111" stroke="#111" stroke-width="0.22">0.002</text>
<line x1="399.4" y1="535.5" x2="401.8" y2="535.5" stroke="#111" stroke-width="1"/>
<text x="399.1" y="537.18" font-size="5.9" font-weight="bold" text-anchor="end" fill="#111" stroke="#111" stroke-width="0.22">0.003</text>
<line x1="399.4" y1="520.5" x2="401.8" y2="520.5" stroke="#111" stroke-width="1"/>
<text x="399.1" y="522.14" font-size="5.9" font-weight="bold" text-anchor="end" fill="#111" stroke="#111" stroke-width="0.22">0.004</text>
<line x1="399.4" y1="505.5" x2="401.8" y2="505.5" stroke="#111" stroke-width="1"/>
<text x="399.1" y="507.1" font-size="5.9" font-weight="bold" text-anchor="end" fill="#111" stroke="#111" stroke-width="0.22">0.005</text>
<line x1="412" y1="506.5" x2="451.7" y2="506.5" stroke="#111" stroke-width="1"/>
<text x="431.85" y="507.1" font-size="9" font-weight="bold" text-anchor="middle" fill="#111" stroke="#111" stroke-width="0.45">*</text>
<line x1="470.3" y1="520.5" x2="510" y2="520.5" stroke="#111" stroke-width="1"/>
<text x="490.15" y="521.5" font-size="9" font-weight="bold" text-anchor="middle" fill="#111" stroke="#111" stroke-width="0.45">*</text>
<rect x="475.8" y="494.1" width="9.1" height="4.6" fill="#303030" stroke="#111" stroke-width="1"/>
<rect x="475.8" y="502.3" width="9.1" height="4.6" fill="#a8a8a8" stroke="#111" stroke-width="1"/>
<text x="487.5" y="498.9" font-size="6.4" fill="#111" stroke="#111" stroke-width="0.22">No MSC</text>
<text x="487.5" y="507.1" font-size="6.4" fill="#111" stroke="#111" stroke-width="0.22">MSC</text>
<text x="378" y="543.3" font-size="6.4" font-weight="bold" text-anchor="middle" transform="rotate(-90 378 543.3)" fill="#111" stroke="#111" stroke-width="0.22">BCR-ABL/BCR</text>
<text x="432.4" y="589.6" font-size="7.4" font-weight="bold" text-anchor="end" transform="rotate(-45 432.4 589.6)" fill="#111" stroke="#111" stroke-width="0.22">no IM</text>
<text x="491" y="588.4" font-size="7.4" font-weight="bold" text-anchor="end" transform="rotate(-45 491 588.4)" fill="#111" stroke="#111" stroke-width="0.22">IM</text>
</svg></body></html>
